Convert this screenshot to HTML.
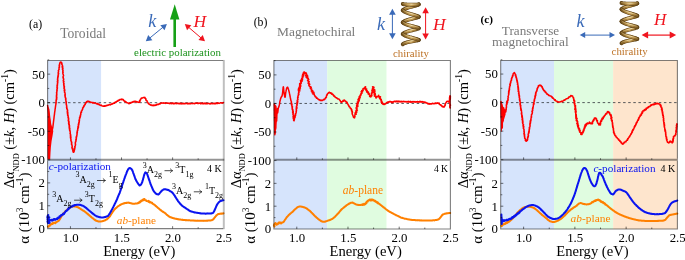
<!DOCTYPE html>
<html><head><meta charset="utf-8"><title>figure</title><style>html,body{margin:0;padding:0;background:#fff;width:685px;height:260px;overflow:hidden}svg{display:block;will-change:transform}text{font-family:"Liberation Serif",serif}</style></head><body>
<svg width="685" height="260" viewBox="0 0 685 260" font-family='"Liberation Serif", serif'>
<rect width="685" height="260" fill="#fff"/>
<rect x="47.60" y="60.5" width="53.49" height="168.1" fill="#d6e4fc"/>
<rect x="273.90" y="60.5" width="53.30" height="168.55" fill="#d6e4fc"/>
<rect x="327.20" y="60.5" width="59.29" height="168.55" fill="#e0fce0"/>
<rect x="500.70" y="60.5" width="53.36" height="168.55" fill="#d6e4fc"/>
<rect x="554.06" y="60.5" width="59.05" height="168.55" fill="#e0fce0"/>
<rect x="613.12" y="60.5" width="64.28" height="168.55" fill="#fee5cd"/>
<line x1="47.6" y1="102.7" x2="223.7" y2="102.7" stroke="#3a3e44" stroke-width="0.85" stroke-dasharray="2.5,2.6"/>
<line x1="273.9" y1="103.45" x2="450.4" y2="103.45" stroke="#3a3e44" stroke-width="0.85" stroke-dasharray="2.5,2.6"/>
<line x1="500.7" y1="102.6" x2="677.4" y2="102.6" stroke="#3a3e44" stroke-width="0.85" stroke-dasharray="2.5,2.6"/>
<polygon points="47.6,105.5 49.4,109 50.3,117 51.2,124 52.3,128 53.3,131 52.6,135.5 51.6,141 50.9,147 50.5,153 50.2,159.4 47.6,159.4" fill="#ff0000"/>
<polygon points="274.3,103.6 276.5,106 277.2,112 276.6,120 276,128 275.3,135.5 274.3,135.5" fill="#ff0000"/>
<polygon points="500.9,101.5 502.5,104 503.5,108 505,110 505.7,114 504.5,118 503.2,122 502.3,127 501.6,131.8 500.9,131.8" fill="#ff0000"/>
<polyline points="47.6,105.5 47.6,105.7 47.7,105.9 47.7,106.1 47.7,106.3 47.7,106.6 47.8,106.8 47.8,107.1 47.9,107.4 47.9,107.8 48.0,108.1 48.0,108.4 48.1,108.8 48.1,109.1 48.2,109.5 48.2,109.8 48.3,110.2 48.3,110.6 48.4,110.9 48.4,111.3 48.5,111.7 48.5,112.0 48.5,112.3 48.6,112.6 48.6,112.9 48.6,113.2 48.7,113.5 48.7,113.8 48.8,114.1 48.8,114.4 48.8,114.7 48.9,115.1 48.9,115.4 49.0,115.7 49.0,116.0 49.0,116.4 49.1,116.7 49.1,117.0 49.1,117.3 49.2,117.6 49.2,118.0 49.3,118.3 49.3,118.6 49.3,118.9 49.4,119.2 49.4,119.4 49.5,119.7 49.5,120.0 49.5,120.3 49.6,120.7 49.6,121.0 49.7,121.4 49.7,121.7 49.8,122.0 49.8,122.3 49.9,122.7 49.9,123.0 50.0,123.3 50.0,123.6 50.1,123.9 50.1,124.2 50.2,124.4 50.2,124.7 50.3,125.0 50.3,125.3 50.4,125.5 50.4,125.8 50.5,126.0 50.6,126.4 50.7,126.8 50.8,127.2 50.9,127.5 51.0,127.9 51.0,128.2 51.1,128.5 51.2,128.8 51.3,129.0 51.4,129.2 51.5,129.4 51.6,129.5 51.9,129.7 52.1,129.7 52.4,129.3 52.6,128.5 52.6,128.3 52.7,128.1 52.7,127.9 52.8,127.7 52.8,127.4 52.8,127.2 52.9,126.9 52.9,126.6 53.0,126.3 53.0,126.0 53.0,125.7 53.1,125.4 53.1,125.0 53.2,124.7 53.2,124.3 53.2,124.0 53.3,123.7 53.3,123.3 53.4,123.0 53.4,122.6 53.4,122.3 53.5,122.0 53.5,121.6 53.6,121.3 53.6,121.0 53.6,120.7 53.7,120.4 53.7,120.1 53.8,119.8 53.8,119.5 53.8,119.2 53.9,118.8 53.9,118.5 54.0,118.2 54.0,117.9 54.0,117.6 54.1,117.3 54.1,116.9 54.1,116.6 54.2,116.3 54.2,116.0 54.3,115.7 54.3,115.4 54.3,115.1 54.4,114.8 54.4,114.5 54.5,114.2 54.5,113.9 54.5,113.6 54.6,113.3 54.6,113.0 54.6,112.7 54.7,112.3 54.7,112.0 54.8,111.7 54.8,111.3 54.9,111.0 54.9,110.7 55.0,110.4 55.0,110.1 55.0,109.7 55.1,109.4 55.1,109.1 55.2,108.8 55.2,108.5 55.3,108.2 55.3,107.9 55.3,107.7 55.4,107.4 55.4,107.1 55.5,106.8 55.5,106.5 55.5,106.2 55.6,105.9 55.6,105.6 55.7,105.3 55.7,105.1 55.8,104.8 55.8,104.5 55.9,104.3 55.9,104.0 56.0,103.8 55.9,103.5 55.8,103.2 56.2,102.9 55.8,102.5 56.2,102.2 56.1,101.8 56.0,101.4 56.3,101.0 56.0,100.7 56.3,100.5 56.1,100.2 56.1,100.0 56.3,99.7 56.7,99.5 56.2,99.2 56.3,98.9 56.6,98.6 56.8,98.3 56.6,98.0 56.5,97.7 56.9,97.4 56.3,97.1 56.8,96.8 56.5,96.4 56.4,96.1 56.4,95.8 56.5,95.4 56.9,95.1 56.5,94.8 56.8,94.5 56.8,94.1 56.7,93.8 56.8,93.5 56.5,93.1 56.5,92.8 56.6,92.5 57.0,92.2 56.8,91.8 56.8,91.5 57.0,91.2 56.9,90.9 56.8,90.6 57.2,90.3 57.1,90.0 56.8,89.7 57.1,89.4 57.1,89.0 57.3,88.7 57.3,88.4 57.0,88.1 57.5,87.8 56.9,87.4 57.1,87.1 57.4,86.8 57.0,86.5 57.2,86.2 56.9,85.9 57.4,85.6 57.5,85.3 57.4,85.0 57.6,84.7 57.2,84.3 57.5,84.1 57.5,83.8 57.5,83.5 57.4,83.1 57.7,82.9 57.8,82.6 57.5,82.3 57.7,82.0 57.3,81.7 57.7,81.4 57.7,81.1 58.0,80.9 57.9,80.6 57.5,80.3 57.6,80.0 57.8,79.7 57.4,79.3 57.8,79.0 57.6,78.6 57.6,78.3 57.6,77.9 58.1,77.7 57.7,77.3 57.8,77.0 57.9,76.7 58.3,76.4 57.8,76.0 58.1,75.7 58.2,75.4 58.4,75.2 58.4,74.9 58.5,74.6 58.1,74.2 58.2,74.0 58.2,73.7 58.6,73.4 58.7,73.1 58.2,72.8 58.2,72.5 58.3,72.2 58.3,72.0 58.5,71.7 58.6,71.3 58.5,70.9 58.3,70.6 58.7,70.3 58.7,69.9 58.9,69.6 59.2,69.4 59.0,69.0 59.0,68.7 59.1,68.4 59.2,68.1 58.8,67.7 59.4,67.6 59.4,67.3 59.5,67.0 59.5,66.8 59.2,66.5 59.3,66.2 59.1,65.9 59.6,65.6 59.3,65.1 59.4,64.7 59.5,64.4 59.6,64.1 59.8,63.9 59.7,63.5 59.7,63.3 59.9,63.1 59.9,62.9 60.3,62.5 60.4,62.0 60.8,62.5 61.0,62.3 61.4,62.2 61.7,62.7 61.7,63.0 61.7,63.2 62.0,63.4 61.6,63.8 61.6,64.1 62.0,64.4 62.1,64.7 62.4,65.1 62.5,65.5 62.4,66.0 62.5,66.2 62.1,66.5 62.6,66.7 62.8,66.9 62.2,67.3 62.5,67.5 62.8,67.8 62.6,68.1 63.0,68.4 62.6,68.7 62.4,69.0 62.5,69.3 62.6,69.7 63.0,69.9 62.9,70.3 63.1,70.6 62.7,71.0 62.9,71.3 62.8,71.7 63.1,72.0 63.2,72.3 62.8,72.6 62.7,72.9 62.8,73.1 62.9,73.4 62.9,73.7 63.0,74.0 63.3,74.3 63.2,74.6 63.3,74.9 63.5,75.2 63.6,75.5 63.4,75.9 63.4,76.2 63.1,76.5 63.0,76.8 63.3,77.2 63.0,77.5 63.0,77.8 63.1,78.1 63.5,78.4 63.6,78.7 63.6,79.1 63.7,79.4 63.7,79.7 63.4,80.0 63.2,80.3 63.3,80.6 63.6,80.9 63.5,81.2 63.4,81.6 64.0,81.8 63.6,82.2 63.4,82.5 63.6,82.8 63.6,83.1 63.8,83.4 64.1,83.7 63.7,84.0 64.0,84.3 63.7,84.6 63.6,85.0 64.1,85.2 64.1,85.5 63.8,85.9 63.9,86.2 64.4,86.4 64.4,86.7 64.4,87.1 64.0,87.4 64.1,87.7 64.5,88.0 64.1,88.3 64.0,88.7 64.3,88.9 64.5,89.2 64.4,89.6 64.8,89.8 64.9,90.2 64.2,90.5 64.5,90.8 64.6,91.1 64.4,91.5 64.7,91.8 64.5,92.1 64.5,92.4 65.0,92.7 65.0,93.0 65.0,93.3 65.1,93.6 64.9,94.0 65.2,94.2 65.1,94.5 65.3,94.8 64.8,95.2 65.2,95.4 65.2,95.7 65.1,96.0 65.0,96.4 65.3,96.6 65.0,97.0 65.4,97.2 65.4,97.5 65.4,97.8 65.8,98.1 65.6,98.4 65.8,98.6 66.0,98.9 65.5,99.2 65.9,99.5 65.8,99.8 65.7,100.1 65.8,100.3 66.0,100.6 65.9,100.9 66.0,101.3 65.9,101.6 66.4,101.9 66.1,102.2 66.4,102.6 66.4,102.8 66.1,103.1 66.3,103.4 66.3,103.7 66.2,104.0 66.1,104.2 66.5,104.5 66.4,104.8 66.5,105.0 66.6,105.3 66.5,105.6 66.7,105.9 66.7,106.2 66.8,106.5 66.5,106.9 66.7,107.1 66.6,107.5 66.6,107.8 67.1,108.0 67.0,108.4 66.7,108.7 66.9,109.0 67.4,109.3 67.4,109.6 67.3,110.0 67.6,110.3 67.5,110.6 67.7,110.9 67.3,111.3 67.3,111.7 67.2,112.0 67.8,112.2 67.4,112.6 67.5,112.8 67.9,113.1 67.4,113.4 67.4,113.7 67.9,113.9 67.5,114.3 67.9,114.5 67.9,114.8 67.6,115.2 67.7,115.4 68.2,115.7 68.1,116.0 68.0,116.3 68.2,116.6 68.3,116.9 68.3,117.2 68.0,117.5 68.6,117.8 68.2,118.2 68.4,118.5 68.7,118.7 68.5,119.1 68.3,119.4 68.5,119.7 68.8,120.0 68.2,120.4 68.4,120.7 68.3,121.0 68.9,121.2 68.9,121.5 69.1,121.8 68.6,122.2 69.0,122.5 69.1,122.8 68.9,123.1 68.6,123.4 68.7,123.7 69.2,124.0 69.3,124.3 68.8,124.6 69.1,124.9 69.0,125.2 69.5,125.5 69.5,125.8 69.1,126.1 69.4,126.4 69.6,126.7 69.1,127.1 69.3,127.4 69.2,127.7 69.8,127.9 69.3,128.3 69.9,128.6 69.3,128.9 69.7,129.2 69.8,129.5 69.7,129.8 69.5,130.2 69.9,130.4 70.1,130.7 69.8,131.0 70.1,131.3 70.2,131.6 70.2,131.9 70.3,132.2 70.3,132.5 70.2,132.8 70.3,133.1 70.0,133.5 70.3,133.7 70.2,134.0 70.5,134.3 70.4,134.6 70.7,134.8 70.6,135.1 70.8,135.4 70.3,135.7 70.5,136.0 70.8,136.3 70.6,136.7 70.3,137.0 71.0,137.3 70.5,137.7 70.8,138.0 70.8,138.3 70.6,138.7 71.0,139.0 71.0,139.3 70.9,139.6 70.7,140.0 71.2,140.2 70.9,140.6 71.0,140.9 71.1,141.2 71.4,141.5 71.4,141.8 71.7,142.1 71.7,142.4 71.8,142.7 71.3,143.0 71.7,143.3 71.8,143.6 71.9,143.8 71.5,144.2 71.5,144.5 71.7,144.7 72.0,144.9 72.0,145.2 72.1,145.5 72.0,145.7 72.2,146.0 72.1,146.4 72.3,146.8 71.9,147.2 71.9,147.6 72.3,148.0 72.6,148.3 72.1,148.8 72.6,149.1 72.7,149.4 73.0,149.8 72.8,150.1 72.8,150.5 72.8,150.8 73.1,151.0 72.9,151.3 73.3,151.5 73.2,151.7 73.4,151.8 73.2,152.1 73.5,152.1 73.5,152.1 73.4,152.3 73.4,152.2 73.7,152.3 73.7,152.1 74.0,151.8 74.0,151.5 74.2,151.1 74.4,150.6 74.2,150.1 74.3,149.5 74.8,149.1 74.3,148.7 74.7,148.6 74.7,148.4 74.4,148.0 75.0,147.9 75.0,147.7 74.9,147.4 75.0,147.1 75.1,146.8 74.7,146.5 75.0,146.2 75.1,146.0 75.3,145.7 75.4,145.4 75.4,145.1 75.3,144.7 75.6,144.5 75.5,144.1 75.5,143.8 75.3,143.4 75.2,143.0 75.3,142.7 75.5,142.4 75.4,142.0 75.9,141.8 75.8,141.4 75.9,141.1 76.0,140.7 76.1,140.4 76.0,140.0 75.7,139.7 76.3,139.5 76.3,139.2 76.2,138.9 76.3,138.6 76.4,138.4 76.0,138.0 76.5,137.8 76.2,137.5 76.2,137.1 76.4,136.9 76.7,136.6 76.4,136.3 76.8,136.0 77.0,135.7 76.8,135.4 76.7,135.0 76.9,134.7 77.0,134.5 77.2,134.2 77.1,133.8 77.2,133.5 76.8,133.1 76.9,132.8 77.1,132.5 77.4,132.3 77.2,131.9 77.4,131.6 77.1,131.3 77.2,130.9 77.4,130.7 77.7,130.4 77.8,130.1 77.8,129.8 77.6,129.4 77.8,129.2 77.8,128.9 77.9,128.6 77.7,128.2 78.3,128.0 77.8,127.7 78.4,127.4 78.5,127.1 77.9,126.7 78.2,126.4 78.5,126.2 78.7,125.9 78.4,125.5 78.3,125.1 78.3,124.8 78.9,124.6 78.4,124.2 78.8,123.9 78.5,123.5 78.8,123.3 79.2,123.0 78.7,122.6 79.2,122.4 79.0,122.0 79.3,121.8 79.3,121.5 79.0,121.1 79.5,120.9 79.3,120.5 79.0,120.2 79.1,119.9 79.5,119.7 79.5,119.4 79.4,119.1 79.4,118.8 79.6,118.5 79.6,118.3 80.0,118.1 79.5,117.7 80.1,117.5 80.2,117.3 79.7,116.9 80.4,116.7 80.3,116.3 80.5,116.0 80.2,115.5 80.3,115.2 80.4,114.9 80.9,114.7 80.7,114.3 80.7,113.9 80.8,113.6 80.8,113.3 80.7,113.0 80.8,112.7 81.4,112.6 81.1,112.2 81.6,112.1 81.2,111.6 81.3,111.4 81.6,111.2 81.5,110.9 81.7,110.7 82.1,110.6 82.2,110.3 82.2,110.1 82.2,109.7 82.6,109.4 82.7,109.0 82.6,108.6 82.9,108.3 82.6,107.8 83.2,107.8 83.2,107.4 83.5,107.3 83.6,107.0 83.5,106.6 83.5,106.3 84.1,106.4 83.8,105.9 84.2,105.6 84.3,105.3 84.5,104.9 84.9,104.9 85.2,104.7 84.9,104.2 85.3,104.1 85.3,103.7 85.6,103.5 85.7,103.2 85.7,102.8 85.8,102.5 86.0,102.3 86.6,102.4 86.5,102.0 86.6,101.6 87.2,101.9 87.4,101.8 87.6,101.4 87.9,101.1 88.2,101.2 88.6,101.2 88.8,101.5 89.2,101.4 89.6,101.6 89.8,101.7 90.0,102.0 90.2,102.3 90.5,102.4 90.9,102.2 91.2,102.3 91.5,102.5 91.9,102.5 92.2,102.5 92.5,102.4 92.8,102.6 93.0,103.1 93.5,102.6 93.7,102.9 94.1,103.0 94.4,103.2 94.8,102.9 95.1,103.0 95.4,103.0 95.7,103.2 96.0,103.3 96.2,103.8 96.5,103.8 96.8,103.9 97.3,103.5 97.7,103.6 97.8,104.1 98.0,104.4 98.4,104.2 98.6,104.4 99.0,104.1 99.3,104.5 99.5,105.0 99.8,105.0 100.0,105.2 100.3,105.4 100.8,105.0 101.1,105.0 101.4,105.2 101.6,105.5 101.9,105.8 102.1,106.1 102.5,106.0 102.8,106.1 103.2,106.2 103.5,106.1 103.8,106.2 104.1,105.8 104.5,106.3 104.7,105.9 105.1,106.3 105.4,106.0 105.7,105.7 105.9,105.5 106.3,105.6 106.6,105.8 106.9,105.7 107.1,105.2 107.4,105.1 107.8,105.3 108.1,105.3 108.3,105.0 108.6,104.9 108.9,105.0 109.1,104.5 109.5,104.6 109.8,104.7 110.2,104.9 110.4,104.6 110.8,104.7 111.0,104.3 111.2,104.0 111.5,103.9 112.0,104.3 112.2,104.0 112.4,103.7 112.6,103.4 113.1,103.6 113.4,103.6 113.6,103.3 113.8,103.0 114.2,103.2 114.6,103.2 114.6,102.6 114.8,102.3 115.2,102.3 115.5,102.2 115.8,102.2 115.9,101.7 116.4,101.9 116.6,101.7 116.8,101.4 117.0,101.0 117.6,101.3 117.6,100.8 118.1,100.9 118.1,100.4 118.4,100.2 118.9,100.4 119.0,100.0 119.5,100.2 119.7,99.8 119.9,99.5 120.2,99.4 120.5,99.4 120.9,99.5 121.2,99.7 121.4,99.1 121.7,99.3 122.0,99.2 122.2,99.8 122.7,99.3 123.0,99.4 123.4,99.6 123.5,99.9 123.6,100.4 123.8,100.6 124.1,100.7 124.2,101.2 124.6,101.4 125.1,101.3 125.4,101.4 125.3,102.0 125.7,102.1 126.3,101.9 126.3,102.5 126.7,102.5 127.0,102.7 127.3,102.8 127.6,102.9 127.8,102.9 128.2,103.2 128.5,103.3 128.9,103.7 129.1,103.0 129.6,103.5 129.7,102.9 130.0,103.0 130.4,103.2 130.7,103.1 130.9,102.7 131.1,102.3 131.4,102.5 131.7,102.3 132.1,102.5 132.2,101.9 132.5,101.9 132.9,102.1 133.1,101.5 133.5,101.6 133.8,101.9 134.1,101.8 134.4,101.3 134.7,101.3 135.0,101.3 135.4,101.9 135.7,101.4 136.0,101.8 136.3,101.9 136.6,101.6 136.9,101.5 137.2,102.1 137.6,102.0 138.1,101.9 138.3,102.4 138.7,102.2 138.9,102.2 139.0,102.0 139.5,102.3 139.8,102.1 139.7,101.7 140.0,101.4 139.5,100.9 139.8,100.6 140.0,100.3 140.4,100.1 140.6,99.8 140.3,99.4 140.5,99.0 140.8,98.8 141.1,98.6 141.5,98.6 141.4,98.0 141.9,98.2 142.2,98.1 142.5,98.0 142.8,97.8 143.1,97.7 143.5,97.4 143.8,97.4 144.1,97.4 144.3,97.7 144.9,97.4 145.1,97.8 145.0,98.3 145.4,98.4 145.7,98.6 145.9,98.8 145.7,99.3 146.0,99.5 145.9,100.2 146.1,100.3 146.2,100.6 146.8,100.6 147.0,100.8 147.2,101.1 147.1,101.6 147.2,102.0 147.5,102.2 147.9,102.4 147.9,102.7 148.0,103.1 148.2,103.4 148.4,103.6 148.6,103.9 148.9,104.0 149.4,103.9 149.4,104.5 149.8,104.4 150.0,104.7 150.3,104.7 150.5,105.1 150.9,104.8 151.2,104.9 151.4,105.0 151.7,105.0 151.9,105.6 152.3,105.4 152.6,105.3 152.9,105.3 153.2,105.7 153.5,105.4 153.8,105.1 154.2,105.5 154.5,105.4 154.9,105.5 155.0,104.9 155.4,105.1 155.7,105.2 156.0,105.2 156.3,105.1 156.4,104.4 156.8,104.5 157.1,104.3 157.4,104.2 157.9,104.7 158.1,104.3 158.4,104.4 158.6,104.0 159.0,104.2 159.2,103.9 159.4,103.7 159.8,103.9 160.1,103.9 160.2,103.3 160.5,103.5 160.8,103.5 161.0,103.1 161.4,103.2 161.8,103.0 162.3,103.0 162.5,103.0 162.8,103.2 163.0,103.3 163.3,103.0 163.5,102.8 163.8,103.0 164.1,103.3 164.4,102.9 164.7,103.0 165.0,103.0 165.3,103.4 165.6,103.2 165.9,102.9 166.2,102.9 166.6,103.1 166.9,103.3 167.2,103.3 167.6,103.0 167.9,103.0 168.2,103.4 168.6,103.2 168.9,103.1 169.3,103.2 169.6,103.6 170.0,103.2 170.3,103.4 170.5,103.2 170.8,103.3 171.1,103.6 171.4,103.7 171.7,103.2 172.0,103.1 172.3,103.5 172.6,103.1 172.9,103.0 173.2,103.6 173.5,103.3 173.8,103.6 174.1,103.3 174.4,103.7 174.7,103.4 175.0,103.2 175.3,103.1 175.6,103.5 176.0,103.5 176.3,103.7 176.6,103.1 176.9,103.5 177.2,103.4 177.5,103.5 177.8,103.2 178.2,103.3 178.5,103.5 178.8,103.8 179.1,103.2 179.4,103.5 179.7,103.7 180.0,103.8 180.3,103.3 180.6,103.2 180.9,103.8 181.2,103.9 181.5,103.5 181.8,103.2 182.1,103.8 182.4,103.5 182.7,103.8 183.0,103.6 183.3,103.8 183.6,103.3 183.9,103.8 184.2,103.4 184.5,103.5 184.8,103.8 185.1,103.8 185.5,103.4 185.8,103.4 186.1,103.5 186.4,103.6 186.7,103.5 187.0,103.3 187.3,103.4 187.6,103.8 187.9,103.9 188.2,103.3 188.5,103.7 188.8,103.8 189.1,103.3 189.4,103.8 189.7,103.3 190.0,103.7 190.3,103.6 190.6,103.7 190.9,103.4 191.2,103.5 191.5,103.6 191.8,103.5 192.1,103.7 192.4,103.5 192.7,103.5 193.0,103.2 193.3,103.6 193.6,103.5 193.9,103.3 194.3,103.7 194.6,103.7 194.8,103.4 195.1,103.2 195.5,103.4 195.7,103.1 196.1,103.1 196.4,103.3 196.7,103.1 197.0,103.3 197.3,103.4 197.6,103.0 197.9,103.4 198.2,103.0 198.5,103.5 198.8,103.5 199.1,103.3 199.4,103.0 199.7,103.3 200.0,103.2 200.3,103.6 200.6,103.0 200.9,103.6 201.2,103.7 201.5,103.5 201.8,103.5 202.2,103.1 202.5,103.7 202.8,103.4 203.1,103.7 203.4,103.7 203.7,103.2 204.0,103.6 204.3,103.7 204.7,103.1 205.0,103.3 205.3,103.6 205.6,103.2 205.9,103.8 206.2,103.3 206.5,103.7 206.8,103.3 207.1,103.5 207.4,103.8 207.7,103.4 208.0,103.4 208.3,103.6 208.6,103.5 208.9,103.3 209.2,103.4 209.4,103.4 209.7,103.9 210.0,103.7 210.3,103.9 210.7,103.4 211.0,103.8 211.4,103.3 211.7,103.6 212.0,103.6 212.4,103.4 212.7,103.8 213.0,103.5 213.3,103.5 213.7,103.7 214.0,103.2 214.3,103.8 214.6,103.5 214.9,103.3 215.2,103.6 215.5,103.2 215.8,103.7 216.1,103.4 216.4,103.2 216.7,103.5 216.9,103.2 217.2,103.0 217.5,103.4 217.7,102.9 218.0,103.4 218.4,103.0 218.8,103.3 219.1,103.5 219.5,103.2 219.9,103.2 220.2,103.0 220.6,102.7 220.9,102.7 221.2,102.8 221.6,103.1 221.9,102.9 222.2,103.0 222.5,103.2 222.7,102.7 222.9,102.7 223.1,103.0 223.3,102.6 223.5,102.6" fill="none" stroke="#ff0000" stroke-width="1.5" stroke-linejoin="round" stroke-linecap="round"/>
<polyline points="274.3,104.0 274.3,104.2 274.3,104.3 274.3,104.5 274.3,104.7 274.3,104.9 274.3,105.1 274.3,105.3 274.3,105.6 274.3,105.8 274.3,106.1 274.4,106.3 274.4,106.6 274.4,106.9 274.4,107.2 274.4,107.5 274.4,107.8 274.4,108.1 274.4,108.4 274.4,108.7 274.4,109.0 274.4,109.3 274.4,109.7 274.4,110.0 274.4,110.3 274.4,110.7 274.5,111.0 274.5,111.4 274.5,111.7 274.5,112.1 274.5,112.4 274.5,112.8 274.5,113.1 274.5,113.5 274.5,113.9 274.5,114.2 274.5,114.6 274.5,114.9 274.5,115.3 274.6,115.6 274.6,116.0 274.6,116.3 274.6,116.7 274.6,117.0 274.6,117.3 274.6,117.7 274.6,118.0 274.6,118.3 274.6,118.6 274.6,118.9 274.6,119.2 274.6,119.6 274.6,119.9 274.6,120.2 274.6,120.6 274.6,121.0 274.7,121.3 274.7,121.7 274.7,122.1 274.7,122.5 274.7,122.9 274.7,123.2 274.7,123.6 274.7,124.0 274.7,124.4 274.7,124.8 274.7,125.2 274.7,125.6 274.7,126.0 274.7,126.4 274.7,126.8 274.7,127.2 274.7,127.6 274.7,127.9 274.8,128.3 274.8,128.7 274.8,129.0 274.8,129.4 274.8,129.7 274.8,130.1 274.8,130.4 274.8,130.7 274.8,131.0 274.8,131.3 274.8,131.6 274.8,131.9 274.8,132.1 274.8,132.4 274.8,132.6 274.8,132.8 274.8,133.0 274.8,133.2 274.9,133.4 274.9,133.5 274.9,133.6 274.9,133.8 274.9,133.8 274.9,133.9 274.9,134.0 274.9,134.0 274.9,134.0 274.9,134.0 274.9,133.9 274.9,133.8 274.9,133.7 274.9,133.5 275.0,133.3 275.0,133.1 275.0,132.8 275.0,132.5 275.0,132.2 275.0,131.9 275.0,131.6 275.0,131.2 275.0,130.8 275.0,130.4 275.0,130.0 275.0,129.6 275.1,129.2 275.1,128.8 275.1,128.3 275.1,127.9 275.1,127.4 275.1,127.0 275.1,126.5 275.1,126.1 275.1,125.6 275.1,125.2 275.1,124.8 275.2,124.4 275.2,123.9 275.2,123.5 275.2,123.1 275.2,122.8 275.2,122.4 275.2,122.1 275.2,121.7 275.2,121.4 275.2,121.2 275.2,120.9 275.3,120.7 275.3,120.5 275.3,120.3 275.3,120.2 275.3,120.1 275.3,120.0 275.3,120.0 275.3,120.0 275.3,120.1 275.4,120.2 275.4,120.5 275.4,120.7 275.4,121.1 275.4,121.4 275.4,121.8 275.4,122.3 275.4,122.7 275.5,123.2 275.5,123.7 275.5,124.2 275.5,124.7 275.5,125.2 275.5,125.7 275.5,126.2 275.6,126.6 275.6,127.1 275.6,127.5 275.6,127.9 275.6,128.2 275.6,128.5 275.6,128.7 275.6,128.9 275.7,129.0 275.7,129.1 275.7,129.1 275.7,129.0 275.7,128.9 275.7,128.8 275.7,128.7 275.7,128.5 275.7,128.4 275.7,128.2 275.7,127.9 275.8,127.7 275.8,127.5 275.8,127.2 275.8,126.9 275.8,126.6 275.8,126.3 275.8,126.0 275.8,125.6 275.8,125.3 275.8,124.9 275.8,124.5 275.8,124.2 275.8,123.8 275.8,123.4 275.9,123.0 275.9,122.6 275.9,122.2 275.9,121.8 275.9,121.3 275.9,120.9 275.9,120.5 275.9,120.1 275.9,119.7 275.9,119.2 275.9,118.8 275.9,118.4 275.9,118.0 275.9,117.6 275.9,117.2 276.0,116.8 276.0,116.5 276.0,116.1 276.0,115.7 276.0,115.4 276.0,115.0 276.0,114.7 276.0,114.4 276.0,114.1 276.0,113.8 276.0,113.5 276.0,113.3 276.0,113.1 276.1,112.8 276.1,112.6 276.1,112.5 276.1,112.3 276.1,112.2 276.1,112.1 276.1,112.0 276.1,111.9 276.1,111.9 276.1,111.9 276.2,112.1 276.2,112.2 276.2,112.5 276.2,112.8 276.2,113.1 276.2,113.5 276.3,113.9 276.3,114.3 276.3,114.7 276.3,115.2 276.3,115.7 276.3,116.2 276.4,116.7 276.4,117.2 276.4,117.7 276.4,118.1 276.4,118.6 276.4,119.0 276.5,119.4 276.5,119.8 276.5,120.1 276.5,120.4 276.5,120.7 276.5,120.8 276.6,121.0 276.6,121.0 276.6,121.0 276.6,120.9 276.6,120.9 276.6,120.7 276.7,120.6 276.7,120.4 276.7,120.2 276.7,119.9 276.7,119.7 276.7,119.4 276.7,119.1 276.7,118.8 276.8,118.4 276.8,118.1 276.8,117.7 276.8,117.3 276.8,116.9 276.8,116.5 276.8,116.1 276.8,115.7 276.9,115.3 276.9,114.9 276.9,114.5 276.9,114.1 276.9,113.7 276.9,113.3 276.9,112.9 276.9,112.5 277.0,112.1 277.0,111.7 277.0,111.4 277.0,111.0 277.0,110.7 277.0,110.4 277.0,110.1 277.0,109.9 277.1,109.6 277.1,109.4 277.1,109.3 277.1,109.1 277.1,109.0 277.1,108.8 277.2,108.8 277.2,109.0 277.2,109.3 277.3,109.8 277.3,110.3 277.4,110.8 277.4,111.4 277.4,111.9 277.5,112.4 277.5,112.7 277.6,112.9 277.6,113.0 277.6,112.9 277.7,112.8 277.7,112.6 277.8,112.3 277.8,112.0 277.9,111.6 277.9,111.2 278.0,110.8 278.0,110.4 278.0,110.0 278.1,109.6 278.1,109.2 278.2,108.8 278.2,108.5 278.3,108.2 278.3,108.0 278.5,107.4 278.6,107.3 278.8,107.0 278.9,106.8 278.9,106.5 279.0,106.2 279.1,105.9 279.2,105.6 279.2,105.3 279.3,105.0 279.4,104.6 279.4,104.3 279.5,104.0 279.6,103.7 279.6,103.4 279.6,103.1 279.7,102.8 279.7,102.5 279.8,102.3 279.8,102.0 279.9,101.7 279.9,101.3 280.0,101.0 280.1,100.7 280.2,100.4 280.2,100.1 280.3,99.8 280.4,99.5 280.5,99.2 280.6,98.8 280.7,98.5 280.8,98.2 280.9,97.9 281.0,97.6 281.1,97.4 281.2,97.2 281.4,96.8 281.6,96.6 281.8,96.4 282.0,96.0 282.1,95.8 282.1,95.6 282.2,95.3 282.2,95.1 282.3,94.8 282.4,94.5 282.4,94.2 282.5,93.8 282.5,93.4 282.6,93.0 282.6,92.7 282.7,92.5 282.7,92.1 282.7,91.8 282.8,91.4 282.8,91.0 282.8,90.6 282.9,90.2 282.9,89.8 282.9,89.4 283.0,89.0 283.0,88.6 283.1,88.2 283.1,87.9 283.1,87.6 283.2,87.3 283.2,87.1 283.2,87.0 283.3,86.8 283.3,86.8 283.3,86.8 283.4,86.9 283.4,87.0 283.4,87.2 283.5,87.5 283.5,87.8 283.6,88.1 283.6,88.5 283.6,88.9 283.7,89.3 283.7,89.7 283.7,90.1 283.8,90.5 283.8,90.9 283.9,91.3 283.9,91.7 284.0,92.0 284.0,92.3 284.1,92.6 284.1,93.0 284.2,93.4 284.2,93.8 284.3,94.2 284.4,94.6 284.4,95.0 284.5,95.4 284.6,95.8 284.6,96.1 284.7,96.4 284.8,96.7 284.8,96.9 284.9,97.1 284.9,97.2 285.0,97.2 285.1,97.2 285.1,97.1 285.2,96.9 285.2,96.7 285.3,96.4 285.3,96.1 285.4,95.7 285.4,95.3 285.4,94.9 285.5,94.5 285.5,94.1 285.6,93.7 285.6,93.3 285.7,93.0 285.7,92.6 285.8,92.3 285.9,92.0 285.9,91.6 286.0,91.3 286.1,90.9 286.1,90.6 286.2,90.2 286.3,89.9 286.4,89.6 286.4,89.2 286.5,88.9 286.6,88.7 286.7,88.4 286.7,88.2 286.8,88.0 287.1,87.4 287.5,87.2 287.8,87.4 287.9,87.5 288.0,87.8 288.1,88.0 288.2,88.3 288.3,88.7 288.4,89.0 288.5,89.4 288.6,89.8 288.7,90.1 288.7,90.3 288.8,90.6 288.9,90.9 289.0,91.2 289.0,91.5 289.1,91.8 289.2,92.1 289.3,92.5 289.3,92.8 289.4,93.1 289.5,93.5 289.6,93.8 289.6,94.1 289.7,94.3 289.7,94.6 289.8,94.9 289.9,95.2 289.9,95.5 290.0,95.8 290.0,96.2 290.1,96.5 290.2,96.8 290.2,97.1 290.3,97.5 290.4,97.8 290.4,98.2 290.5,98.5 290.6,98.8 290.6,99.1 290.7,99.3 290.7,99.6 290.8,99.9 290.8,100.2 290.9,100.5 291.0,100.8 291.1,101.1 291.4,101.3 291.3,101.7 291.4,102.0 291.2,102.3 291.3,102.7 291.6,102.9 291.4,103.3 291.5,103.6 291.9,103.9 291.3,104.3 291.9,104.6 292.0,104.8 292.1,105.1 291.7,105.5 291.6,105.8 291.7,106.1 292.1,106.3 292.2,106.6 292.5,106.9 292.0,107.3 292.2,107.6 292.4,107.8 292.2,108.2 292.4,108.5 292.1,108.8 292.3,109.1 292.7,109.4 292.3,109.8 293.0,110.0 292.6,110.4 292.8,110.7 293.0,111.0 293.2,111.3 292.6,111.7 293.3,111.9 292.9,112.3 292.6,112.7 293.3,112.9 293.3,113.3 293.0,113.7 293.1,114.0 293.0,114.4 292.9,114.8 293.5,115.1 293.4,115.5 293.4,115.9 293.7,116.2 293.0,116.7 293.2,117.0 293.2,117.4 293.8,117.7 293.2,118.1 293.3,118.4 293.6,118.7 293.4,119.0 293.6,119.2 293.8,119.4 294.0,119.6 293.9,119.8 294.1,120.0 293.9,120.2 293.6,120.4 293.8,120.6 294.1,120.7 294.2,120.4 294.0,120.0 294.3,119.8 294.3,119.3 294.6,118.9 294.5,118.4 294.4,117.9 294.8,117.5 295.2,117.1 294.6,116.7 295.2,116.6 294.6,116.2 294.9,116.0 294.9,115.7 295.4,115.6 295.6,115.4 295.5,115.1 295.2,114.7 295.7,114.5 295.4,114.1 295.4,113.8 296.0,113.6 295.8,113.3 295.9,113.0 296.0,112.6 296.3,112.3 296.0,111.9 296.3,111.6 296.3,111.2 296.5,110.8 296.2,110.5 296.5,110.3 296.4,110.0 296.2,109.7 296.2,109.4 296.5,109.2 296.2,108.8 296.9,108.6 296.3,108.2 296.2,107.9 296.3,107.6 297.0,107.4 296.6,107.0 296.5,106.7 296.4,106.4 296.5,106.0 297.0,105.8 297.0,105.4 297.1,105.1 297.2,104.8 296.7,104.4 297.2,104.1 297.0,103.8 297.4,103.5 297.5,103.2 297.6,102.9 296.9,102.5 297.6,102.2 297.7,101.9 297.8,101.6 297.1,101.3 297.3,101.0 297.2,100.6 297.2,100.3 297.9,100.1 297.9,99.8 297.8,99.4 298.0,99.2 297.9,98.8 297.7,98.5 297.6,98.1 297.6,97.8 298.2,97.6 297.8,97.2 298.0,96.9 298.1,96.6 297.8,96.3 298.1,96.0 298.1,95.7 298.5,95.4 298.3,95.1 298.3,94.8 298.9,94.6 298.5,94.2 298.9,94.0 298.7,93.7 298.3,93.3 298.6,93.1 298.7,92.8 299.0,92.6 298.7,92.2 299.1,92.0 299.0,91.7 298.5,91.2 299.8,91.1 298.3,90.5 299.8,90.4 298.6,89.9 298.3,89.5 298.8,89.2 299.9,89.1 300.4,88.9 298.5,88.2 299.6,88.1 299.6,87.8 300.3,87.6 299.1,87.1 299.8,86.9 299.6,86.6 300.6,86.5 299.5,86.0 300.9,86.0 299.7,85.4 299.6,85.1 300.6,85.1 300.3,84.7 299.6,84.1 300.7,84.1 299.7,83.5 301.2,83.5 301.1,83.2 301.3,82.9 301.1,82.6 300.7,82.1 300.8,81.9 300.9,81.6 301.9,81.6 300.5,80.9 302.1,81.1 300.5,80.3 301.0,80.1 301.1,79.9 302.5,79.9 301.8,79.4 301.7,79.0 302.7,78.9 301.6,78.3 302.1,78.1 302.3,77.8 302.8,77.6 302.9,77.3 302.8,77.0 302.3,76.5 302.4,76.2 302.2,75.8 303.6,76.0 303.3,75.6 303.6,75.3 302.6,74.5 303.3,74.4 304.0,74.3 303.8,73.8 303.1,73.1 303.9,73.1 304.7,73.3 303.8,72.4 303.9,72.1 304.5,72.0 304.7,72.9 304.7,73.2 306.1,72.8 306.2,73.0 306.2,73.3 306.2,73.6 305.9,74.1 306.7,74.0 306.6,74.4 306.9,74.6 305.6,75.5 306.2,75.7 307.5,75.5 306.0,76.5 307.8,76.2 307.3,76.7 306.2,77.3 306.7,77.5 306.9,77.7 307.5,77.8 308.1,78.0 307.3,78.6 308.4,78.6 308.3,79.0 308.1,79.4 308.8,79.5 308.2,80.0 307.5,80.5 307.8,80.8 308.2,80.9 308.1,81.3 308.5,81.5 309.2,81.6 308.4,82.2 308.9,82.4 308.3,82.9 308.1,83.3 309.1,83.3 308.9,83.6 308.6,84.0 309.3,84.1 309.8,84.3 309.0,84.9 308.8,85.3 309.1,85.5 309.3,85.7 309.2,86.1 309.6,86.3 309.8,86.5 310.2,86.7 310.6,86.9 310.2,87.4 311.3,87.2 310.8,87.8 310.3,88.4 310.5,88.6 310.8,88.8 311.6,88.8 311.5,89.2 311.5,89.5 311.4,89.9 311.9,90.0 311.6,90.5 311.3,91.1 312.8,90.7 312.1,91.4 312.0,91.8 312.8,91.7 312.8,92.1 312.1,92.8 313.9,92.2 313.2,93.0 314.0,92.9 313.1,93.7 312.9,94.1 313.8,94.0 314.3,94.1 314.2,94.6 314.3,94.8 314.4,95.2 314.7,95.4 314.8,95.7 314.8,96.0 315.2,96.1 315.4,96.3 315.2,96.8 315.9,96.7 315.8,97.2 316.2,97.3 316.2,97.7 316.8,97.6 316.5,98.3 317.0,98.2 317.4,98.2 317.5,98.5 317.6,98.8 318.0,98.7 318.1,99.2 318.4,99.3 318.6,99.7 319.0,99.6 319.3,99.6 319.6,99.7 319.7,100.2 320.0,100.4 320.5,100.2 320.9,100.1 321.1,100.6 321.5,100.3 321.8,100.2 322.0,100.1 322.4,100.5 322.7,100.4 323.0,100.2 323.2,99.9 323.5,99.8 323.7,99.4 324.2,99.8 324.2,99.2 324.5,99.2 324.9,99.1 325.1,98.9 325.1,98.5 325.2,98.2 325.6,98.0 325.6,97.5 326.2,97.6 326.0,97.2 326.5,97.1 326.2,96.6 326.4,96.3 326.4,96.0 326.7,95.7 326.6,95.4 326.6,95.0 327.3,94.9 327.1,94.5 327.2,94.2 327.3,94.0 327.6,93.9 327.8,93.5 328.2,93.3 328.4,93.1 328.4,92.7 328.9,92.9 329.1,92.8 329.3,92.1 329.5,92.8 329.7,92.9 330.0,93.0 330.6,92.7 330.6,93.3 331.0,93.4 331.6,93.2 331.9,93.4 331.7,94.2 332.1,94.2 332.6,94.2 332.9,94.4 333.1,94.6 333.3,94.9 333.2,95.4 333.7,95.4 334.0,95.5 333.9,96.2 334.2,96.3 334.8,96.2 334.7,96.8 335.1,96.9 335.3,97.2 335.6,97.3 335.7,97.6 336.1,97.7 336.3,97.9 336.8,97.7 336.9,98.2 337.2,98.2 337.4,98.6 337.8,98.6 337.9,99.0 338.3,99.0 338.8,99.0 339.0,99.2 339.3,99.4 339.4,99.8 339.8,99.9 339.8,100.3 340.2,100.4 340.2,100.8 340.4,101.1 340.6,101.4 340.6,101.8 341.4,101.7 341.1,102.3 341.5,102.2 341.8,102.2 342.1,102.0 342.5,101.7 342.5,101.2 342.8,100.9 343.3,101.1 343.3,100.3 343.8,100.6 344.1,100.5 344.5,100.1 344.7,100.7 345.0,100.9 345.2,101.3 345.7,101.1 345.7,101.7 346.1,101.6 346.4,101.8 346.4,102.4 347.2,102.2 346.8,102.7 347.1,102.9 347.4,103.1 347.2,103.6 347.7,103.7 347.8,104.0 347.9,104.3 347.9,104.7 348.4,104.7 348.4,105.1 348.6,105.4 348.7,105.7 348.7,106.1 349.3,106.2 349.1,106.7 349.6,106.8 349.7,107.1 350.0,107.2 350.0,107.5 350.0,108.1 350.5,108.1 350.6,108.4 351.1,108.5 351.2,108.8 351.4,109.0 351.2,109.4 351.3,109.7 351.3,110.0 352.0,110.1 351.6,110.6 351.5,111.0 351.9,111.2 352.3,111.4 352.2,111.8 352.5,112.0 352.5,112.4 351.9,112.8 352.2,113.1 352.3,113.4 352.2,113.8 352.2,114.1 352.5,114.4 352.6,114.7 352.7,115.0 352.8,115.4 353.0,115.7 353.0,116.1 353.5,116.4 353.3,116.8 353.6,117.1 353.5,117.5 354.1,117.4 354.1,117.5 354.1,117.4 354.4,117.9 354.6,117.8 354.6,117.5 354.5,117.1 354.9,116.9 355.0,116.5 354.9,116.1 354.8,115.6 354.8,115.2 355.1,115.0 355.0,114.6 355.3,114.4 355.7,114.3 356.3,114.2 355.0,113.4 355.9,113.4 355.2,112.8 355.4,112.6 356.6,112.5 356.3,112.0 356.9,111.9 356.2,111.4 355.6,111.0 356.3,110.8 356.6,110.6 357.2,110.4 357.4,110.1 356.6,109.6 356.6,109.2 356.1,108.8 357.1,108.6 356.4,108.2 356.4,107.8 356.2,107.5 356.3,107.2 357.4,107.1 356.6,106.6 357.9,106.5 356.6,106.0 357.9,105.9 356.7,105.4 356.6,105.1 357.8,105.0 357.1,104.6 357.9,104.4 357.1,103.9 356.9,103.6 358.1,103.5 358.1,103.2 358.4,103.0 358.3,102.6 357.3,102.0 358.3,102.0 358.5,101.8 358.2,101.3 359.0,101.3 358.1,100.6 359.3,100.7 359.0,100.2 358.0,99.6 358.1,99.3 359.2,99.3 359.6,99.1 358.6,98.4 359.0,98.2 359.8,98.2 359.0,97.6 360.2,97.7 359.7,97.3 359.2,96.7 359.8,96.5 360.2,96.3 360.1,95.9 360.6,95.8 359.9,95.2 361.0,95.3 360.5,94.8 361.0,94.7 361.1,94.4 360.9,94.0 360.9,93.6 361.6,93.5 362.0,93.3 361.9,92.9 361.6,92.5 361.3,92.0 361.1,91.6 362.6,91.7 362.3,91.3 362.6,91.1 361.9,90.5 362.5,90.5 363.2,90.4 363.1,90.0 363.0,89.5 362.8,89.0 363.1,88.9 363.9,89.1 363.4,88.4 364.1,88.3 364.2,87.9 364.8,88.0 364.8,87.8 365.0,87.0 365.6,86.8 365.5,87.4 365.5,87.8 365.4,88.2 365.3,88.7 365.3,89.1 366.7,88.9 365.7,89.8 365.9,90.0 366.0,90.4 366.6,90.4 367.2,90.5 366.5,91.2 366.7,91.5 367.1,91.7 366.9,92.2 367.9,91.9 368.4,92.0 368.0,92.7 367.9,93.2 368.8,92.9 368.3,93.7 368.2,94.1 369.4,93.8 369.0,94.4 369.1,94.7 369.5,95.0 370.1,95.2 370.1,95.6 369.6,96.2 369.7,96.6 370.3,96.4 370.4,95.8 370.8,96.9 371.1,96.6 370.5,95.8 371.2,95.8 371.8,95.7 371.9,95.3 371.6,94.7 371.6,94.3 371.9,93.9 371.4,93.5 371.5,93.2 371.5,92.9 372.4,92.8 372.0,92.4 372.4,92.2 372.2,91.8 372.4,91.5 371.9,91.1 371.8,90.7 373.4,90.7 372.4,90.2 372.1,89.9 373.0,89.7 373.3,89.3 372.4,88.7 373.2,88.3 372.9,87.8 373.2,87.5 372.5,87.0 372.7,86.7 373.8,87.6 373.1,87.3 373.6,87.0 373.5,87.2 374.0,87.2 373.3,87.6 373.9,87.8 373.1,88.2 373.4,88.5 373.4,88.9 373.2,89.3 374.4,89.5 374.8,89.8 374.6,90.2 374.7,90.6 374.9,90.9 375.0,91.3 374.3,91.7 373.8,92.1 374.5,92.3 373.8,92.8 373.9,93.1 375.3,93.2 374.5,93.7 374.9,94.0 375.4,94.3 374.1,94.8 375.3,94.9 374.8,95.3 374.8,95.7 374.4,96.1 374.9,96.2 375.4,96.3 375.4,96.5 376.0,96.5 375.7,97.8 376.3,97.9 376.6,96.6 376.8,96.3 377.1,96.5 377.4,96.5 378.3,96.8 378.4,96.7 378.4,96.5 378.7,95.2 378.8,96.5 379.1,96.5 379.4,96.7 379.0,97.1 380.5,96.7 380.5,97.1 379.7,97.7 379.5,98.2 380.0,98.4 380.7,98.6 380.4,99.0 380.2,99.4 381.3,99.4 381.0,99.8 381.2,100.1 381.5,100.4 381.0,100.9 381.6,101.0 381.6,101.3 381.8,101.5 381.2,102.2 382.3,101.9 381.5,102.8 382.2,102.7 382.5,102.8 382.2,103.5 382.8,103.3 382.6,104.0 382.9,104.2 383.2,104.4 383.7,104.0 383.9,104.3 384.1,103.9 384.6,104.5 384.9,104.3 385.1,103.9 385.3,103.6 385.5,103.4 386.0,103.6 386.2,103.2 386.5,103.1 386.6,102.6 387.0,102.5 387.3,102.2 387.7,102.6 387.9,102.3 388.1,101.9 388.6,102.3 388.7,101.8 389.1,101.8 389.3,101.5 389.7,101.5 390.0,102.0 390.3,101.6 390.7,101.5 391.0,101.8 391.4,101.8 391.6,102.4 392.0,101.8 392.2,102.6 392.6,101.8 393.0,102.5 393.2,102.2 393.3,101.7 393.6,101.8 393.8,101.5 394.2,101.4 394.5,101.2 395.0,101.3 395.3,101.8 395.5,101.8 395.8,101.7 396.1,101.1 396.4,101.2 396.7,101.7 397.0,101.1 397.3,101.6 397.7,101.3 398.0,101.9 398.4,101.1 398.7,101.8 399.0,101.4 399.4,101.3 399.7,101.2 400.0,101.9 400.3,101.6 400.6,101.4 400.9,101.6 401.2,102.0 401.6,101.4 401.9,101.7 402.2,101.4 402.5,101.4 402.8,101.9 403.1,101.8 403.4,101.4 403.8,101.3 404.1,101.4 404.4,101.8 404.7,101.7 405.0,101.5 405.3,101.5 405.6,101.8 405.9,101.9 406.2,102.0 406.6,101.8 406.9,101.5 407.2,101.4 407.5,101.9 407.8,101.7 408.1,101.9 408.4,101.4 408.7,102.0 409.1,101.6 409.4,102.1 409.7,102.1 410.0,101.8 410.3,101.4 410.6,102.1 410.9,101.8 411.2,102.1 411.6,101.7 411.9,101.6 412.2,102.1 412.5,101.8 412.8,101.6 413.1,101.8 413.4,102.0 413.8,101.5 414.1,101.9 414.4,101.9 414.7,101.9 415.0,101.6 415.3,102.1 415.6,102.1 415.9,102.2 416.2,101.7 416.6,102.0 416.9,101.8 417.2,102.0 417.5,101.5 417.8,102.1 418.1,102.2 418.4,101.8 418.8,101.8 419.1,101.8 419.4,101.8 419.7,101.4 420.0,102.2 420.3,101.6 420.7,101.6 421.0,101.5 421.3,101.7 421.6,102.2 422.0,101.6 422.3,101.6 422.6,102.2 422.9,101.8 423.3,101.7 423.5,102.2 423.8,102.2 424.2,102.2 424.4,102.4 424.8,102.0 424.9,102.7 425.3,102.7 425.8,102.3 426.1,102.5 426.2,102.9 426.5,103.0 426.9,103.0 427.2,103.0 427.3,103.4 427.7,103.3 427.9,103.7 428.1,104.0 428.5,103.5 428.8,103.9 429.0,104.0 429.3,103.6 429.6,104.1 429.9,104.2 430.2,103.7 430.5,103.7 430.9,104.0 431.1,103.7 431.4,103.6 431.8,104.0 432.1,103.8 432.4,103.4 432.7,103.3 433.0,103.4 433.3,103.4 433.6,103.8 433.9,103.7 434.3,103.7 434.6,103.6 434.9,103.6 435.2,102.9 435.5,103.3 435.9,103.6 436.2,103.6 436.5,103.0 436.8,103.1 437.1,103.3 437.3,103.1 437.6,103.2 437.8,102.9 438.2,103.2 438.5,103.4 439.0,103.1 439.3,103.4 439.1,104.1 439.4,104.1 439.6,104.4 439.9,104.4 440.1,104.7 440.3,104.9 440.5,105.1 441.2,104.9 441.0,105.5 441.5,105.5 441.5,105.9 442.0,105.8 442.1,106.2 442.2,106.7 442.7,106.7 443.1,106.7 443.3,107.0 443.6,106.9 444.1,107.2 444.0,106.6 444.1,106.5 444.5,106.4 444.3,105.9 444.8,105.8 445.2,105.6 445.1,105.1 445.0,104.6 445.3,104.4 445.5,104.1 445.4,103.6 445.5,103.4 445.7,103.0 446.0,102.8 446.2,102.5 446.3,102.2 446.4,101.9 446.5,101.5 447.0,101.5 447.3,101.5 447.3,101.3 447.6,101.2 447.9,101.5 448.5,101.4 448.7,102.0 449.0,101.8 449.3,101.6 449.5,101.4 449.4,101.1 449.3,100.8 449.3,100.4 449.4,100.0 449.7,99.5 449.6,99.0 449.8,98.6 449.4,98.0 449.7,97.6 450.1,97.2 449.7,96.8 449.9,96.5 449.9,96.2 449.8,96.0 450.3,96.0 450.1,95.8 449.8,96.0 450.3,96.1 450.4,96.2 449.7,96.4 450.1,96.5 450.4,96.7 450.1,97.0 450.1,97.2 449.9,97.5 450.4,97.7 450.3,98.0 449.7,98.4 449.9,98.7 450.4,99.0 450.2,99.4 450.2,99.7 449.9,100.1 450.0,100.5 449.8,100.9 449.8,101.3 450.1,101.7 449.9,102.0 449.9,102.4 449.9,102.8 450.1,103.2 449.9,103.6 449.9,104.0 449.8,104.4 450.4,104.7 449.8,105.1 450.5,105.4 449.9,105.8 450.0,106.1 450.1,106.4 449.7,106.7 450.0,107.0 450.2,107.2 449.9,107.4 449.8,107.7 450.0,107.8 450.2,108.0" fill="none" stroke="#ff0000" stroke-width="1.5" stroke-linejoin="round" stroke-linecap="round"/>
<polyline points="501.0,101.5 501.0,101.7 501.0,101.8 501.0,102.0 501.0,102.3 501.0,102.5 501.0,102.7 501.0,103.0 501.0,103.3 501.0,103.6 501.0,103.9 501.1,104.2 501.1,104.5 501.1,104.8 501.1,105.2 501.1,105.6 501.1,105.9 501.1,106.3 501.1,106.7 501.1,107.1 501.1,107.4 501.1,107.8 501.1,108.2 501.1,108.6 501.1,109.0 501.2,109.4 501.2,109.8 501.2,110.2 501.2,110.6 501.2,111.0 501.2,111.4 501.2,111.8 501.2,112.2 501.2,112.6 501.2,113.0 501.2,113.3 501.2,113.7 501.3,114.0 501.3,114.4 501.3,114.7 501.3,115.0 501.3,115.3 501.3,115.6 501.3,115.9 501.3,116.2 501.3,116.5 501.3,116.7 501.3,116.9 501.3,117.1 501.4,117.3 501.4,117.5 501.4,117.6 501.4,117.7 501.4,117.9 501.4,117.9 501.4,118.0 501.4,118.0 501.4,118.0 501.4,117.9 501.4,117.8 501.5,117.6 501.5,117.4 501.5,117.1 501.5,116.8 501.5,116.4 501.5,116.0 501.5,115.6 501.5,115.2 501.5,114.7 501.6,114.2 501.6,113.7 501.6,113.2 501.6,112.7 501.6,112.2 501.6,111.7 501.6,111.2 501.6,110.7 501.6,110.2 501.7,109.8 501.7,109.3 501.7,108.9 501.7,108.5 501.7,108.1 501.7,107.8 501.7,107.5 501.7,107.3 501.7,107.1 501.8,107.0 501.8,106.9 501.8,106.9 501.8,106.9 501.8,107.0 501.8,107.1 501.8,107.2 501.8,107.3 501.8,107.4 501.8,107.6 501.8,107.8 501.8,108.0 501.8,108.2 501.9,108.4 501.9,108.7 501.9,108.9 501.9,109.2 501.9,109.5 501.9,109.8 501.9,110.1 501.9,110.4 501.9,110.7 501.9,111.1 501.9,111.4 501.9,111.8 501.9,112.2 501.9,112.6 501.9,112.9 501.9,113.3 501.9,113.7 501.9,114.1 502.0,114.6 502.0,115.0 502.0,115.4 502.0,115.8 502.0,116.2 502.0,116.7 502.0,117.1 502.0,117.5 502.0,117.9 502.0,118.4 502.0,118.8 502.0,119.2 502.0,119.6 502.0,120.0 502.0,120.5 502.0,120.9 502.0,121.3 502.1,121.7 502.1,122.1 502.1,122.5 502.1,122.8 502.1,123.2 502.1,123.6 502.1,123.9 502.1,124.3 502.1,124.6 502.1,124.9 502.1,125.2 502.1,125.5 502.1,125.8 502.1,126.1 502.1,126.3 502.1,126.5 502.1,126.8 502.1,127.0 502.2,127.2 502.2,127.3 502.2,127.5 502.2,127.6 502.2,127.7 502.2,127.8 502.2,127.9 502.2,128.0 502.2,128.0 502.2,128.0 502.2,128.0 502.2,127.9 502.2,127.9 502.2,127.8 502.2,127.6 502.2,127.5 502.3,127.3 502.3,127.1 502.3,126.9 502.3,126.7 502.3,126.4 502.3,126.2 502.3,125.9 502.3,125.6 502.3,125.2 502.3,124.9 502.3,124.6 502.3,124.2 502.3,123.8 502.3,123.4 502.3,123.0 502.4,122.6 502.4,122.2 502.4,121.8 502.4,121.4 502.4,120.9 502.4,120.5 502.4,120.1 502.4,119.6 502.4,119.2 502.4,118.7 502.4,118.3 502.4,117.9 502.4,117.4 502.4,117.0 502.4,116.6 502.5,116.1 502.5,115.7 502.5,115.3 502.5,114.9 502.5,114.5 502.5,114.1 502.5,113.7 502.5,113.4 502.5,113.0 502.5,112.7 502.5,112.4 502.5,112.1 502.5,111.8 502.5,111.5 502.5,111.2 502.6,111.0 502.6,110.8 502.6,110.6 502.6,110.4 502.6,110.3 502.6,110.2 502.6,110.1 502.6,110.0 502.6,109.9 502.6,109.9 502.6,110.0 502.6,110.1 502.7,110.2 502.7,110.4 502.7,110.7 502.7,111.0 502.7,111.3 502.7,111.6 502.7,112.0 502.7,112.4 502.7,112.8 502.8,113.3 502.8,113.7 502.8,114.2 502.8,114.7 502.8,115.2 502.8,115.7 502.8,116.2 502.8,116.6 502.8,117.1 502.8,117.6 502.9,118.0 502.9,118.5 502.9,118.9 502.9,119.3 502.9,119.6 502.9,119.9 502.9,120.2 502.9,120.5 503.0,120.7 503.0,120.8 503.0,120.9 503.0,121.0 503.0,121.0 503.0,121.0 503.0,120.9 503.0,120.8 503.0,120.6 503.1,120.5 503.1,120.3 503.1,120.1 503.1,119.8 503.1,119.6 503.1,119.3 503.1,119.0 503.1,118.6 503.1,118.3 503.1,117.9 503.2,117.6 503.2,117.2 503.2,116.8 503.2,116.4 503.2,116.0 503.2,115.6 503.2,115.1 503.2,114.7 503.2,114.3 503.3,113.9 503.3,113.5 503.3,113.0 503.3,112.6 503.3,112.2 503.3,111.8 503.3,111.4 503.3,111.1 503.4,110.7 503.4,110.4 503.4,110.0 503.4,109.7 503.4,109.4 503.4,109.1 503.4,108.9 503.4,108.7 503.5,108.4 503.5,108.3 503.5,108.1 503.5,108.0 503.5,107.8 503.6,107.7 503.6,107.9 503.7,108.2 503.8,108.6 503.8,109.1 503.9,109.6 503.9,110.1 504.0,110.7 504.0,111.1 504.1,111.5 504.1,111.8 504.2,112.0 504.3,112.0 504.4,111.7 504.5,111.4 504.7,110.9 504.8,110.5 504.9,110.1 505.0,110.0 505.1,110.1 505.2,110.5 505.3,111.0 505.4,111.5 505.5,111.9 505.6,112.1 505.7,112.0 505.7,111.9 505.8,111.7 505.8,111.5 505.9,111.3 505.9,111.0 505.9,110.8 506.0,110.4 506.0,110.1 506.0,109.8 506.3,109.4 506.0,109.0 506.1,108.7 506.3,108.3 506.2,108.0 506.2,107.6 506.5,107.3 506.6,106.9 506.4,106.6 506.4,106.3 506.3,106.0 506.4,105.6 506.3,105.3 506.7,105.0 506.7,104.6 506.4,104.3 507.1,104.0 506.7,103.6 507.1,103.3 507.1,103.0 507.3,102.7 506.8,102.4 507.0,102.1 507.4,101.9 506.8,101.6 506.8,101.3 507.2,101.2 507.3,100.8 507.6,101.1 507.8,100.8 507.8,100.0 508.2,99.9 507.9,99.6 507.9,99.4 508.1,99.1 507.9,98.8 507.9,98.5 508.1,98.2 508.0,97.9 508.4,97.6 508.3,97.3 508.2,96.9 508.0,96.5 508.2,96.2 508.3,95.8 508.4,95.5 508.5,95.1 508.7,94.8 508.8,94.4 508.5,94.0 508.5,93.7 508.7,93.4 509.0,93.1 508.6,92.8 508.8,92.5 509.0,92.3 508.6,92.0 508.7,91.5 509.3,91.2 509.2,90.9 509.0,90.5 508.8,90.2 509.4,90.0 509.3,89.7 509.4,89.5 509.6,89.2 509.6,89.0 509.3,88.6 509.2,88.3 509.4,88.0 509.6,87.7 509.6,87.4 509.5,87.1 509.5,86.7 509.9,86.5 509.9,86.1 509.8,85.8 510.3,85.5 510.1,85.2 509.8,84.7 510.1,84.5 510.4,84.2 510.2,83.8 510.5,83.6 510.1,83.2 510.4,83.0 510.8,82.7 510.7,82.4 510.9,82.1 510.6,81.7 510.9,81.5 511.0,81.2 510.9,80.9 511.2,80.7 511.2,80.4 511.6,80.2 511.5,79.8 511.4,79.5 511.3,79.1 511.4,78.9 511.9,78.7 511.6,78.3 511.7,78.0 511.8,77.7 512.1,77.5 512.4,77.2 512.4,76.9 512.6,76.6 512.2,76.2 512.3,75.9 512.9,75.8 512.7,75.5 513.1,75.2 513.0,74.8 513.0,74.4 513.2,74.0 513.2,73.6 513.9,73.6 513.8,73.2 513.8,72.9 514.0,72.8 514.2,72.7 514.5,72.5 514.3,73.1 514.6,73.2 514.6,73.6 515.1,73.8 515.1,74.2 515.5,74.5 515.8,74.9 515.3,75.3 515.4,75.5 515.9,75.7 515.6,76.0 515.7,76.3 516.2,76.4 516.0,76.8 515.9,77.2 516.3,77.4 516.1,77.8 516.6,78.0 516.6,78.4 516.5,78.8 516.9,79.1 516.9,79.5 516.6,79.8 516.9,80.0 516.7,80.3 517.2,80.5 517.3,80.7 517.2,81.0 517.4,81.2 516.9,81.6 517.4,81.8 517.2,82.1 517.6,82.3 517.3,82.7 517.5,83.0 517.5,83.3 517.8,83.5 517.8,83.8 517.4,84.2 517.7,84.5 517.9,84.8 518.0,85.2 517.9,85.5 518.0,85.9 518.2,86.2 517.8,86.6 518.1,87.0 518.3,87.2 517.9,87.5 518.4,87.7 518.3,88.0 518.0,88.4 518.5,88.6 518.3,88.9 518.1,89.2 518.1,89.5 518.6,89.7 518.5,90.1 518.3,90.4 518.6,90.7 518.2,91.0 518.8,91.3 518.3,91.7 518.7,91.9 518.9,92.2 518.8,92.6 519.0,92.9 518.7,93.2 519.0,93.5 518.6,93.9 518.9,94.2 519.1,94.5 519.2,94.8 519.0,95.1 519.3,95.4 518.9,95.8 519.5,96.0 519.2,96.4 519.2,96.7 519.5,96.9 519.2,97.3 519.5,97.5 519.3,97.9 519.4,98.1 519.6,98.4 519.6,98.7 519.9,99.0 519.9,99.3 519.4,99.7 519.8,100.0 519.6,100.3 520.1,100.6 519.8,100.9 520.0,101.2 519.9,101.5 520.1,101.8 520.3,102.1 520.2,102.4 520.3,102.7 520.4,103.0 520.0,103.3 520.3,103.6 520.3,103.9 520.0,104.2 520.1,104.5 520.1,104.8 520.1,105.1 520.7,105.3 520.6,105.6 520.8,105.9 520.4,106.2 520.5,106.5 520.7,106.8 520.7,107.1 520.6,107.4 520.6,107.7 521.0,108.0 520.6,108.3 521.0,108.6 520.8,108.9 521.2,109.2 521.3,109.5 520.8,109.8 520.9,110.1 521.0,110.4 521.5,110.7 521.5,111.0 521.5,111.3 521.5,111.6 521.5,111.9 521.5,112.3 521.8,112.5 521.6,112.9 521.4,113.2 521.8,113.5 521.4,113.8 521.6,114.1 521.5,114.4 521.9,114.7 521.8,115.0 521.7,115.4 522.0,115.6 522.3,115.9 521.7,116.3 521.8,116.6 522.2,116.8 522.4,117.1 521.9,117.5 522.1,117.7 522.5,118.0 522.4,118.3 522.6,118.6 522.1,119.0 522.6,119.2 522.1,119.6 522.3,119.9 522.8,120.1 522.4,120.5 522.7,120.7 522.5,121.1 522.5,121.4 522.9,121.6 523.1,121.9 522.5,122.3 522.9,122.5 522.6,122.9 522.8,123.1 522.8,123.4 522.8,123.7 523.0,124.0 523.2,124.3 523.5,124.5 523.1,124.9 523.3,125.2 523.3,125.5 523.0,125.8 523.6,126.0 523.2,126.4 523.8,126.7 523.4,127.0 523.3,127.3 523.7,127.6 523.6,127.9 523.3,128.3 523.6,128.6 523.7,128.9 523.9,129.2 524.1,129.5 523.9,129.9 523.9,130.2 524.1,130.5 524.1,130.9 524.2,131.2 523.9,131.6 523.9,131.9 524.3,132.2 524.3,132.5 524.2,132.9 524.2,133.2 523.9,133.5 524.4,133.8 524.4,134.1 524.1,134.5 524.6,134.7 524.4,135.0 524.6,135.3 524.3,135.6 524.5,135.8 524.4,136.1 524.8,136.2 524.5,136.5 524.6,137.0 524.8,137.4 524.6,137.9 524.7,138.3 525.2,138.5 525.2,138.9 525.2,139.2 525.4,139.4 525.5,139.6 525.4,139.9 525.6,140.0 525.3,140.4 525.5,140.5 526.0,140.8 526.0,141.2 526.2,141.3 526.4,141.2 526.4,141.0 526.5,140.8 526.6,140.6 527.4,140.6 527.4,140.1 527.1,139.4 527.6,139.3 527.8,139.1 527.6,138.8 527.4,138.5 527.7,138.3 527.7,138.0 527.6,137.6 527.9,137.4 527.6,137.0 528.3,136.8 528.2,136.4 528.2,136.1 528.5,135.8 528.4,135.4 528.1,135.0 528.2,134.6 528.2,134.3 528.2,133.9 528.7,133.7 528.8,133.5 528.5,133.1 528.5,132.8 528.9,132.6 529.0,132.3 529.2,132.0 528.7,131.6 529.2,131.4 529.2,131.1 529.2,130.7 529.0,130.4 529.0,130.1 529.5,129.8 529.2,129.4 529.2,129.1 529.4,128.8 529.3,128.5 529.7,128.2 529.4,127.8 529.3,127.4 529.7,127.2 529.8,126.9 530.0,126.7 529.9,126.4 530.1,126.1 530.2,125.8 529.9,125.5 530.0,125.2 529.8,124.8 529.9,124.5 530.2,124.3 529.9,123.9 530.3,123.6 530.0,123.3 530.3,123.0 530.7,122.8 530.1,122.4 530.1,122.0 530.5,121.8 530.3,121.4 530.8,121.2 530.3,120.8 530.9,120.6 531.0,120.3 531.0,120.0 530.8,119.7 530.8,119.3 531.1,119.1 531.0,118.7 531.0,118.4 531.0,118.1 531.1,117.8 531.3,117.5 531.5,117.2 531.6,116.9 531.1,116.6 531.3,116.3 531.4,116.0 531.6,115.7 531.5,115.4 531.4,115.0 531.4,114.7 531.6,114.5 531.8,114.2 532.2,113.9 532.2,113.6 532.2,113.3 532.3,113.1 532.4,112.7 532.2,112.4 532.4,112.1 531.9,111.7 532.4,111.5 532.4,111.2 532.2,110.8 532.5,110.5 532.8,110.3 532.5,109.9 532.7,109.6 532.5,109.3 532.6,109.0 533.0,108.8 532.5,108.4 532.7,108.1 533.1,107.9 533.0,107.6 532.8,107.3 533.2,107.1 533.1,106.7 533.3,106.5 533.2,106.1 533.4,105.8 533.4,105.5 533.4,105.1 533.3,104.8 533.4,104.5 533.9,104.3 533.7,103.9 533.5,103.6 534.1,103.4 533.7,103.0 533.7,102.7 534.0,102.5 533.9,102.1 534.1,101.8 534.2,101.5 534.1,101.2 534.4,100.9 534.1,100.6 534.4,100.3 534.6,100.0 534.3,99.6 534.6,99.4 534.4,99.0 534.7,98.7 535.0,98.5 534.9,98.1 535.1,97.8 535.2,97.5 534.8,97.1 535.4,97.0 535.3,96.6 535.0,96.2 535.5,96.0 535.3,95.7 535.2,95.3 535.8,95.1 535.6,94.8 535.8,94.5 535.5,94.1 536.0,93.9 535.6,93.5 535.7,93.2 535.9,92.9 535.7,92.6 536.2,92.4 536.0,92.0 536.1,91.8 536.5,91.6 536.4,91.2 536.8,91.1 536.7,90.7 537.0,90.4 536.9,90.0 537.2,89.8 537.3,89.4 536.9,89.0 537.4,88.8 537.3,88.5 537.6,88.3 537.7,88.0 537.9,87.8 537.6,87.4 537.9,87.1 538.3,86.9 538.6,86.6 538.6,86.3 538.4,85.8 538.9,85.8 538.8,85.4 539.3,85.4 539.6,85.5 539.9,85.0 540.2,85.6 540.5,85.5 540.9,85.3 541.2,85.5 541.4,86.0 541.3,86.3 541.6,86.4 542.0,86.5 542.2,86.8 542.3,87.1 542.0,87.6 542.6,87.7 542.5,88.2 542.8,88.4 542.7,88.8 543.1,89.0 543.4,89.1 543.1,89.7 543.5,89.8 543.6,90.1 543.8,90.4 543.9,90.7 544.6,90.6 544.6,90.9 544.9,91.1 544.9,91.5 544.9,91.9 545.2,92.1 545.8,92.0 545.9,92.3 545.8,92.8 546.1,93.0 546.4,93.1 546.6,93.3 546.9,93.4 546.8,94.0 547.3,94.0 547.3,94.4 547.7,94.6 548.2,94.5 548.3,94.9 548.6,95.0 548.6,95.6 548.9,95.6 549.4,95.4 549.6,95.6 549.8,95.8 550.1,96.0 550.4,96.1 550.7,96.1 551.1,96.2 551.4,96.2 551.4,96.7 551.7,96.8 552.1,96.8 552.1,97.3 552.1,97.8 552.8,97.6 553.0,97.8 552.9,98.3 553.3,98.3 553.6,98.5 553.7,98.9 554.0,98.9 554.1,99.3 554.3,99.4 554.4,99.8 554.6,100.1 555.3,99.7 555.3,100.2 555.4,100.5 555.6,100.8 555.9,100.9 556.2,101.0 556.5,101.2 556.9,101.2 557.2,101.4 557.4,101.8 557.7,102.0 558.0,102.2 558.4,102.1 558.7,101.8 559.1,102.1 559.4,102.1 559.7,101.9 560.1,101.9 560.4,101.7 560.7,101.8 561.0,101.6 561.3,101.3 561.7,101.4 562.0,101.3 562.5,101.7 562.7,101.2 562.9,101.0 563.2,100.7 563.5,100.6 563.8,100.5 564.0,100.1 564.2,99.9 564.9,100.2 565.0,99.8 565.3,99.6 565.6,99.5 565.8,99.2 566.1,99.0 566.3,98.7 566.7,98.7 567.0,98.6 567.4,98.6 567.6,98.4 568.0,98.4 568.0,97.9 568.5,98.0 568.6,97.6 568.6,97.1 568.9,97.0 569.3,97.0 569.8,97.1 569.8,96.5 570.3,96.5 570.4,96.1 570.9,96.2 570.8,95.5 571.2,95.7 571.5,96.0 572.0,95.8 572.3,96.1 572.7,96.1 572.8,96.5 573.0,96.8 573.0,97.4 573.4,97.4 573.4,97.7 573.6,97.9 573.4,98.3 573.4,98.6 573.6,98.9 574.0,99.1 573.7,99.6 573.7,100.1 573.9,100.3 574.6,100.4 573.8,100.8 573.8,101.1 574.4,101.2 574.7,101.5 574.7,101.8 574.4,102.2 574.0,102.5 574.3,102.8 574.1,103.2 574.9,103.4 574.9,103.7 574.4,104.1 574.6,104.4 574.9,104.7 574.6,105.1 575.1,105.4 575.5,105.6 575.1,105.9 575.6,106.2 574.9,106.5 575.3,106.8 575.1,107.1 575.0,107.4 575.5,107.6 575.3,108.0 575.8,108.2 574.8,108.6 575.3,108.9 574.8,109.3 575.9,109.4 575.3,109.8 575.2,110.1 575.7,110.4 576.0,110.7 576.0,111.0 576.0,111.3 575.3,111.7 576.2,111.9 575.4,112.3 575.9,112.6 575.8,112.9 575.7,113.2 575.8,113.5 575.7,113.8 575.8,114.2 576.2,114.4 575.7,114.8 576.3,115.1 575.8,115.4 575.8,115.8 575.8,116.1 576.4,116.3 575.9,116.7 575.7,117.1 576.4,117.3 576.6,117.6 576.4,117.9 575.9,118.3 576.9,118.4 577.1,118.7 576.6,119.0 576.4,119.3 576.3,119.7 576.9,120.0 576.2,120.5 577.2,120.6 576.6,121.1 577.5,121.2 577.6,121.5 577.5,121.9 577.7,122.1 577.2,122.5 577.2,122.9 577.7,123.0 576.9,123.5 577.7,123.6 578.0,123.9 578.0,124.1 577.4,124.6 577.3,125.0 578.3,125.1 578.5,125.4 577.7,125.9 578.5,126.1 577.7,126.7 578.3,126.8 578.3,127.1 578.7,127.3 578.3,127.8 578.8,127.9 579.0,128.2 578.4,128.7 579.5,128.7 578.9,129.3 579.7,129.3 579.2,129.8 579.6,130.0 579.1,130.5 580.2,130.5 579.7,131.0 580.0,131.2 579.5,131.7 579.6,132.0 580.1,132.2 580.7,132.4 580.8,132.7 580.9,133.1 580.8,133.5 581.1,133.6 581.3,133.8 580.8,134.4 581.1,134.5 581.3,134.1 582.1,134.5 581.6,133.6 582.1,133.4 581.9,132.8 582.8,133.0 583.0,132.8 582.5,132.1 583.2,132.2 583.4,131.9 583.0,131.3 583.2,131.0 583.5,130.8 584.0,130.7 583.3,130.1 584.0,130.0 584.0,129.7 583.9,129.3 584.2,129.0 584.6,128.8 584.0,128.3 584.8,128.2 584.3,127.7 584.9,127.6 585.1,127.3 584.5,126.7 585.4,126.7 585.6,126.5 585.0,125.9 584.9,125.5 585.1,125.2 586.1,125.5 585.3,124.6 586.4,125.0 585.9,124.2 586.7,124.5 586.4,123.7 586.8,123.5 587.4,123.8 587.2,123.1 587.7,123.1 588.4,123.6 588.5,123.2 588.9,123.3 589.2,123.3 589.4,122.1 589.8,122.5 589.7,123.3 590.1,123.5 590.8,123.1 590.8,123.8 591.2,123.7 591.6,123.8 591.4,123.5 591.4,123.2 592.5,123.7 592.0,123.0 592.7,123.0 592.1,122.3 592.6,122.2 592.4,121.7 592.9,121.5 592.8,121.1 593.5,121.1 593.1,120.5 593.9,120.5 593.8,120.1 593.5,119.5 593.9,119.3 594.3,119.1 594.9,119.0 594.4,118.4 594.4,118.1 595.3,118.5 595.1,118.4 595.1,118.2 595.6,118.0 596.0,118.2 596.1,118.7 596.5,118.9 596.7,119.2 596.4,119.8 596.6,120.0 596.6,120.4 597.0,120.6 597.5,120.7 596.9,121.4 597.1,121.7 597.4,121.9 597.6,122.2 597.6,122.6 597.5,123.0 597.8,123.2 598.1,123.4 598.6,123.4 598.9,123.7 599.0,124.2 598.6,124.8 599.3,124.8 599.5,124.9 599.6,124.9 599.4,124.6 600.4,125.0 599.4,124.2 600.2,124.2 600.7,123.9 600.0,123.3 600.6,123.1 600.4,122.6 600.4,122.2 600.5,121.9 600.5,121.5 601.4,121.5 601.5,121.2 601.8,121.0 600.9,120.3 601.8,120.3 601.5,119.8 602.0,119.7 602.1,119.3 602.0,118.9 602.8,119.1 602.0,118.2 602.9,118.4 603.2,118.3 603.0,117.8 603.3,117.6 603.8,117.6 603.3,116.8 603.8,116.9 604.1,116.7 604.0,116.2 604.5,116.2 604.4,115.7 604.7,115.5 605.0,115.4 605.2,115.2 605.1,114.7 605.5,114.7 605.7,114.4 605.6,113.9 606.1,114.0 606.0,113.5 606.8,113.8 606.6,113.2 607.0,113.2 607.1,112.7 607.3,112.4 607.3,111.9 607.5,111.6 608.2,112.1 608.2,111.6 608.4,111.7 608.6,111.9 608.6,112.4 609.3,112.3 609.6,112.6 609.2,113.3 609.7,113.1 609.7,113.5 609.7,113.8 609.7,114.0 609.9,114.3 611.0,114.4 610.7,114.8 610.3,115.1 610.3,115.4 611.2,115.4 611.3,115.7 611.2,116.0 611.5,116.2 611.2,116.6 610.8,117.0 611.2,117.3 611.4,117.6 611.9,117.8 611.6,118.2 610.9,118.7 611.4,119.0 611.7,119.3 611.8,119.6 611.4,120.1 611.5,120.3 612.3,120.5 611.7,120.8 612.2,121.1 612.0,121.4 612.3,121.7 612.2,122.0 612.3,122.3 612.3,122.6 612.6,122.9 612.5,123.2 612.3,123.5 612.7,123.8 612.7,124.1 612.4,124.5 612.7,124.8 612.7,125.1 612.8,125.4 612.5,125.8 613.0,126.0 612.7,126.4 612.6,126.7 613.1,126.9 613.0,127.2 612.8,127.5 613.0,127.8 613.2,128.1 613.5,128.4 613.3,128.8 613.4,129.1 613.2,129.5 613.6,129.8 613.5,130.1 613.4,130.5 613.4,130.8 613.8,131.1 613.8,131.4 613.7,131.7 613.5,132.1 614.1,132.2 613.6,132.7 613.9,132.9 614.2,133.1 614.0,133.4 614.3,133.5 614.6,133.7 614.3,134.3 614.7,134.5 614.8,134.9 614.9,135.2 614.9,135.6 615.1,135.7 615.7,135.6 615.6,136.1 615.8,136.2 616.0,136.5 616.0,136.9 616.4,136.9 616.6,137.2 616.6,137.6 617.0,137.6 617.2,137.9 617.4,138.1 617.4,138.5 617.7,138.6 617.9,138.9 618.2,139.0 618.6,139.0 618.5,139.6 618.8,139.7 618.8,140.0 619.0,140.3 619.6,140.2 619.7,140.5 620.0,140.6 619.8,141.2 620.4,141.1 620.6,141.4 620.5,141.9 620.8,142.1 621.3,142.2 621.1,142.7 621.3,143.0 621.7,143.2 622.1,143.2 622.0,143.7 622.3,143.7 622.5,143.9 622.8,144.2 623.1,143.9 623.5,143.8 623.4,143.1 623.7,143.0 624.1,142.8 624.1,142.3 624.8,142.6 624.7,142.0 625.0,141.8 625.3,141.6 625.5,141.4 626.0,141.6 626.1,141.2 626.3,141.0 626.5,140.7 626.6,140.3 626.9,140.2 627.4,140.2 627.5,139.9 627.8,139.6 627.6,139.1 627.7,138.8 627.8,138.5 628.3,138.4 628.3,138.0 628.6,137.8 628.8,137.6 629.0,137.4 629.0,137.0 629.4,137.0 629.3,136.5 629.8,136.6 629.8,136.2 629.7,135.8 630.0,135.6 630.3,135.3 630.4,135.0 630.7,134.8 630.6,134.5 630.7,134.2 631.2,134.1 631.0,133.7 631.4,133.6 631.6,133.3 631.6,133.0 631.7,132.6 632.1,132.5 632.0,132.0 632.4,131.9 632.0,131.3 632.4,131.1 632.7,130.9 632.4,130.4 633.1,130.4 632.7,129.9 633.2,129.8 633.1,129.3 633.7,129.3 633.6,128.9 633.9,128.7 633.9,128.3 634.1,128.0 634.3,127.8 634.2,127.4 634.2,127.0 634.8,127.0 634.5,126.5 635.1,126.4 634.8,125.9 634.9,125.6 635.0,125.4 635.6,125.3 635.8,125.1 635.6,124.6 635.9,124.4 635.8,124.0 636.4,123.9 636.4,123.5 636.2,123.1 636.3,122.8 636.8,122.7 636.6,122.3 637.2,122.2 637.0,121.8 637.1,121.5 637.5,121.3 637.4,121.0 637.7,120.8 637.6,120.4 638.2,120.3 638.0,119.9 638.4,119.8 638.1,119.3 638.7,119.2 638.9,119.0 638.7,118.5 638.6,118.1 639.0,118.0 639.3,117.8 639.1,117.4 639.5,117.2 639.4,116.8 639.8,116.6 640.1,116.5 640.0,116.1 640.4,115.9 640.1,115.4 640.9,115.5 640.4,114.9 641.3,115.0 641.5,114.8 641.6,114.5 641.4,114.0 641.3,113.6 641.5,113.4 642.1,113.3 642.0,112.9 642.5,112.8 641.9,112.1 642.4,112.0 642.9,112.0 642.9,111.6 643.0,111.3 642.9,110.8 643.2,110.6 643.6,110.5 644.2,110.8 644.4,110.6 644.3,109.9 645.0,110.3 644.7,109.4 645.3,109.7 645.8,109.8 645.7,109.1 646.3,109.4 646.4,108.9 646.2,108.3 646.7,108.3 647.0,108.2 647.1,107.8 647.7,108.0 647.6,107.4 648.2,107.7 648.2,107.1 648.4,106.7 648.9,106.9 649.0,106.4 649.5,106.6 649.9,106.6 650.1,106.3 650.2,106.0 650.3,105.5 650.8,105.7 650.8,105.1 651.4,105.4 651.4,104.8 651.8,105.1 652.1,104.7 652.4,104.6 652.8,104.8 653.0,104.3 653.3,104.2 653.8,104.8 653.9,104.1 654.4,104.5 654.7,104.4 654.8,103.9 655.1,103.5 655.4,103.4 655.8,104.1 656.1,103.4 656.4,103.7 656.8,103.8 657.1,103.4 657.4,103.7 657.8,103.4 658.0,103.8 658.4,103.9 658.7,103.8 659.1,103.8 659.3,104.1 659.6,104.0 659.9,104.1 660.2,104.3 660.0,104.9 660.5,105.0 660.2,105.4 661.1,105.2 660.4,105.8 660.9,106.0 660.7,106.4 661.0,106.6 661.0,107.0 661.6,107.2 661.2,107.7 661.8,107.9 661.8,108.2 662.1,108.4 661.8,108.8 661.8,109.1 662.0,109.3 661.5,109.7 662.4,109.9 662.0,110.3 662.3,110.5 662.1,110.9 662.0,111.2 662.2,111.5 662.7,111.8 662.6,112.1 662.4,112.5 662.2,112.8 662.9,113.0 662.6,113.4 662.6,113.6 662.5,114.0 662.9,114.2 662.6,114.5 662.9,114.8 662.7,115.1 663.3,115.3 662.8,115.8 663.2,116.0 663.2,116.3 663.5,116.6 663.4,117.0 663.1,117.3 663.2,117.7 663.6,118.0 663.5,118.3 663.7,118.5 663.7,118.8 663.7,119.1 663.7,119.4 663.3,119.8 663.3,120.1 663.5,120.3 663.8,120.6 663.8,120.9 663.6,121.3 663.6,121.6 663.7,121.9 663.8,122.2 664.2,122.5 663.9,122.8 663.8,123.2 663.9,123.5 664.4,123.7 664.0,124.1 664.3,124.4 664.5,124.7 664.0,125.0 664.2,125.3 664.2,125.6 664.7,125.9 664.3,126.2 664.2,126.6 664.3,126.8 664.5,127.1 664.5,127.4 664.5,127.7 664.7,128.0 664.9,128.3 664.7,128.6 664.8,128.9 664.8,129.2 665.2,129.5 664.8,129.9 665.2,130.1 664.9,130.5 665.5,130.7 665.0,131.1 665.2,131.4 665.6,131.6 665.3,132.0 665.7,132.3 665.8,132.5 665.7,132.9 665.9,133.2 665.7,133.5 665.5,133.9 665.7,134.2 665.7,134.5 666.0,134.8 665.8,135.2 665.8,135.5 666.0,135.8 665.8,136.2 666.0,136.5 666.3,136.8 666.6,137.1 666.2,137.5 666.2,137.8 666.6,138.0 666.4,138.3 666.3,138.6 666.4,138.9 667.0,139.1 666.7,139.4 667.1,139.5 667.0,139.8 666.6,140.0 667.0,140.6 667.0,141.1 667.2,141.3 667.4,141.5 667.5,141.6 667.6,141.8 667.4,142.1 667.7,142.4 668.1,142.6 668.4,142.7 668.5,142.8 668.8,143.0 669.0,142.6 669.3,142.3 669.7,142.2 669.6,141.6 670.1,141.6 670.1,141.1 670.5,141.5 670.9,141.2 671.1,141.5 671.0,142.1 671.6,141.9 672.0,142.2 672.1,142.9 672.5,142.6 672.8,142.4 672.6,142.1 672.7,141.8 673.1,141.5 672.8,141.1 673.2,140.8 672.8,140.3 673.3,140.0 672.8,139.6 673.2,139.3 672.9,138.9 673.0,138.6 673.6,138.4 673.4,138.0 673.7,137.7 673.4,137.3 673.5,137.0 673.4,136.7 673.8,136.5 674.0,136.4 674.1,136.0 674.3,135.8 674.7,136.1 674.9,136.0 675.1,135.8 675.0,135.3 675.6,135.0 675.5,134.8 675.9,134.6 675.5,134.3 675.8,134.1 675.8,133.8 675.7,133.5 675.8,133.2 676.0,132.9 676.2,132.5 675.9,132.1 675.9,131.8 676.4,131.5 675.8,131.0 676.3,130.7 676.3,130.4 676.2,130.0 676.2,129.7 676.4,129.4 676.6,129.1 676.5,128.8 676.6,128.4 676.1,128.0 676.4,127.7 676.3,127.3 676.9,127.0 676.9,126.6 676.4,126.2 676.7,125.9 676.8,125.6 676.4,125.2 676.7,124.9 677.0,124.7 676.9,124.4 676.7,124.2 677.1,124.0 676.8,123.8" fill="none" stroke="#ff0000" stroke-width="1.5" stroke-linejoin="round" stroke-linecap="round"/>
<polyline points="47.9,226.7 48.0,226.5 48.6,226.8 48.6,226.3 48.9,226.2 49.1,225.9 49.2,225.4 49.8,225.7 49.9,225.3 50.1,225.1 50.2,224.5 50.4,224.2 50.9,224.4 51.3,224.4 51.5,224.3 51.6,223.7 51.9,223.4 52.3,223.6 52.7,223.9 52.8,223.1 53.3,223.5 53.4,222.9 53.8,222.9 54.0,222.6 54.4,222.7 54.8,222.7 55.3,223.2 55.6,223.0 55.6,222.2 56.0,222.3 56.4,222.2 56.6,221.9 57.0,221.8 57.2,221.7 57.5,221.5 57.7,221.4 58.0,221.2 58.3,221.0 58.6,220.9 58.8,220.6 58.9,220.4 59.2,220.2 59.3,219.9 59.5,219.7 59.7,219.4 59.9,219.1 60.0,218.8 60.1,218.5 60.4,218.3 60.5,218.0 60.7,217.7 60.9,217.5 61.0,217.2 61.1,216.9 61.3,216.6 61.6,216.3 61.7,216.0 61.8,215.7 62.0,215.5 62.2,215.2 62.4,214.9 62.5,214.6 62.8,214.4 63.0,214.1 63.1,213.8 63.4,213.6 63.5,213.3 63.8,213.0 63.9,212.8 64.2,212.6 64.4,212.4 64.6,212.1 64.8,211.9 65.0,211.7 65.2,211.4 65.4,211.2 65.7,211.0 66.0,210.8 66.2,210.5 66.4,210.3 66.7,210.2 66.8,209.9 67.1,209.8 67.4,209.5 67.6,209.3 67.8,209.1 68.1,208.9 68.3,208.7 68.6,208.4 68.9,208.3 69.1,208.1 69.4,208.0 69.6,207.8 69.9,207.7 70.1,207.4 70.4,207.3 70.7,207.1 71.0,207.1 71.3,207.0 71.6,206.9 71.8,206.8 72.1,206.7 72.4,206.6 72.7,206.6 73.0,206.5 73.3,206.5 73.6,206.5 73.9,206.5 74.2,206.4 74.5,206.5 74.8,206.5 75.1,206.5 75.4,206.6 75.7,206.6 76.1,206.7 76.4,206.8 76.7,206.8 77.0,207.0 77.3,206.9 77.5,207.1 77.8,207.3 78.1,207.4 78.4,207.5 78.6,207.6 78.9,207.8 79.1,208.0 79.4,208.1 79.7,208.3 80.0,208.5 80.2,208.6 80.5,208.9 80.7,209.1 81.0,209.2 81.3,209.3 81.5,209.6 81.8,209.6 82.0,209.9 82.3,210.0 82.6,210.1 82.8,210.4 83.2,210.5 83.4,210.7 83.7,210.8 83.9,211.0 84.2,211.2 84.4,211.5 84.8,211.5 85.0,211.8 85.3,211.9 85.5,212.1 85.7,212.4 86.0,212.5 86.2,212.7 86.4,212.9 86.7,213.1 86.9,213.4 87.2,213.5 87.4,213.8 87.6,214.0 87.9,214.2 88.2,214.3 88.3,214.6 88.7,214.7 88.9,215.0 89.1,215.2 89.4,215.3 89.6,215.6 89.8,215.8 90.1,216.0 90.4,216.2 90.6,216.5 90.8,216.7 91.1,216.8 91.3,217.1 91.6,217.4 91.8,217.5 92.0,217.8 92.3,217.9 92.5,218.1 92.8,218.2 93.0,218.4 93.2,218.6 93.5,218.8 93.8,219.1 94.1,219.3 94.4,219.5 94.6,219.7 94.9,219.8 95.1,220.0 95.3,220.2 95.6,220.3 95.8,220.5 96.0,220.6 96.3,220.8 96.6,220.9 96.9,221.0 97.2,221.0 97.5,221.1 97.7,221.2 98.0,221.3 98.3,221.5 98.6,221.5 98.9,221.6 99.3,221.6 99.6,221.6 100.0,221.6 100.3,221.5 100.5,221.5 100.8,221.4 101.1,221.5 101.4,221.4 101.8,221.3 102.1,221.2 102.4,221.2 102.7,221.0 103.0,221.0 103.3,221.0 103.6,220.8 103.9,220.7 104.2,220.6 104.5,220.5 104.8,220.5 105.1,220.3 105.4,220.1 105.7,219.9 106.0,219.7 106.2,219.6 106.5,219.5 106.7,219.3 107.0,219.2 107.2,219.0 107.5,218.8 107.7,218.5 108.0,218.4 108.1,218.1 108.3,217.9 108.6,217.7 108.8,217.5 109.0,217.3 109.2,217.0 109.4,216.8 109.7,216.6 109.8,216.4 110.0,216.2 110.2,215.9 110.3,215.6 110.5,215.4 110.6,215.1 110.8,214.8 111.0,214.5 111.1,214.2 111.2,214.0 111.4,213.8 111.6,213.6 111.8,213.3 111.9,213.0 112.2,212.8 112.4,212.5 112.5,212.2 112.6,211.9 112.9,211.7 113.0,211.4 113.2,211.1 113.4,210.9 113.6,210.7 113.7,210.5 113.9,210.2 114.2,210.0 114.3,209.7 114.5,209.4 114.8,209.3 114.9,209.0 115.1,208.8 115.4,208.6 115.5,208.4 115.8,208.2 116.0,208.0 116.3,207.8 116.5,207.6 116.8,207.4 117.0,207.1 117.2,206.9 117.5,206.8 117.7,206.5 118.0,206.4 118.2,206.2 118.5,206.0 118.8,205.8 119.0,205.6 119.3,205.5 119.6,205.3 119.8,205.1 120.1,204.9 120.4,204.9 120.7,204.7 121.0,204.4 121.2,204.3 121.6,204.3 121.8,204.1 122.1,204.0 122.4,203.9 122.7,203.8 123.0,203.7 123.3,203.6 123.6,203.4 123.9,203.3 124.2,203.4 124.5,203.3 124.8,203.1 125.1,203.0 125.4,203.0 125.8,203.0 126.1,202.8 126.4,202.9 126.8,202.9 127.1,202.8 127.4,202.8 127.7,202.7 128.0,202.6 128.3,202.6 128.6,202.8 129.0,202.7 129.3,202.9 129.6,203.0 129.9,203.0 130.1,203.1 130.4,203.1 130.7,203.2 131.0,203.2 131.3,203.4 131.6,203.5 132.0,203.6 132.3,203.5 132.6,203.7 132.9,203.7 133.2,203.8 133.5,203.8 133.8,203.8 134.2,203.8 134.5,203.8 134.8,203.7 135.1,203.6 135.4,203.6 135.7,203.5 136.0,203.5 136.4,203.4 136.7,203.5 137.0,203.4 137.4,203.4 137.7,203.3 138.0,203.2 138.1,202.7 138.7,203.0 138.7,202.5 139.1,202.4 139.3,202.0 140.0,202.5 140.0,202.0 140.2,201.6 140.3,201.2 140.9,201.5 141.2,201.4 141.5,201.2 141.3,200.5 141.8,200.5 142.0,200.2 142.5,200.5 142.6,199.8 143.0,200.1 143.5,200.3 143.7,199.9 143.7,199.1 144.1,199.0 144.5,199.0 144.5,199.7 144.8,199.8 145.1,200.0 145.3,200.2 145.6,200.2 145.9,200.4 146.3,200.5 146.4,200.9 146.7,200.8 147.0,201.0 147.3,201.2 147.7,201.3 148.1,201.3 148.7,200.9 148.7,201.6 148.9,201.9 149.3,201.6 149.4,202.1 150.0,201.7 149.9,202.5 150.4,202.2 150.5,202.6 151.0,202.3 151.3,202.5 151.5,202.7 151.8,202.8 152.2,202.8 152.2,203.3 152.4,203.5 152.7,203.6 152.9,203.8 153.2,204.0 153.4,204.2 153.7,204.4 154.0,204.5 154.2,204.6 154.5,204.8 154.7,205.0 155.0,205.2 155.2,205.4 155.3,205.7 155.6,205.9 155.9,206.0 156.0,206.2 156.3,206.4 156.5,206.7 156.7,206.8 157.0,207.0 157.3,207.1 157.4,207.4 157.7,207.6 157.9,207.8 158.2,208.0 158.4,208.2 158.6,208.4 158.9,208.5 159.1,208.8 159.3,209.0 159.6,209.1 159.7,209.4 160.0,209.5 160.2,209.8 160.5,210.0 160.7,210.2 161.1,210.3 161.3,210.5 161.5,210.7 161.7,211.0 162.1,211.1 162.3,211.3 162.5,211.5 162.7,211.7 163.1,211.8 163.3,212.0 163.6,212.2 163.8,212.3 164.1,212.5 164.4,212.6 164.7,212.7 165.0,213.0 165.3,213.1 165.4,213.4 165.7,213.5 165.9,213.8 166.1,214.1 166.3,214.3 166.6,214.5 166.8,214.8 167.0,215.0 167.3,215.2 167.6,215.4 167.8,215.6 168.0,215.7 168.3,215.9 168.5,216.1 168.8,216.3 169.0,216.4 169.3,216.6 169.5,216.8 169.7,216.9 170.1,217.0 170.3,217.2 170.7,217.2 171.0,217.3 171.3,217.5 171.5,217.6 171.7,217.7 172.0,217.7 172.3,217.9 172.6,217.9 172.8,218.1 173.2,218.1 173.4,218.2 173.8,218.2 174.1,218.4 174.4,218.4 174.7,218.6 175.0,218.6 175.3,218.7 175.7,218.7 176.0,218.7 176.3,218.8 176.6,219.0 176.9,218.9 177.1,219.1 177.4,219.1 177.7,219.2 178.0,219.1 178.3,219.2 178.6,219.2 178.9,219.4 179.2,219.4 179.5,219.5 179.9,219.5 180.2,219.5 180.5,219.5 180.8,219.6 181.2,219.7 181.5,219.7 181.8,219.8 182.2,219.8 182.5,219.9 182.7,219.8 183.0,219.9 183.3,219.9 183.5,219.9 183.8,220.0 184.1,219.9 184.4,220.0 184.6,220.1 184.9,220.0 185.2,220.1 185.5,220.2 185.8,220.1 186.1,220.1 186.4,220.1 186.7,220.2 187.0,220.2 187.3,220.3 187.6,220.3 187.9,220.3 188.2,220.2 188.6,220.3 188.9,220.4 189.3,220.3 189.6,220.3 190.0,220.4 190.3,220.4 190.5,220.4 190.8,220.5 191.1,220.4 191.4,220.4 191.7,220.5 192.0,220.4 192.3,220.5 192.6,220.5 192.9,220.5 193.2,220.5 193.6,220.5 193.9,220.6 194.2,220.7 194.5,220.6 194.9,220.5 195.2,220.6 195.6,220.7 195.9,220.7 196.2,220.7 196.6,220.7 196.9,220.7 197.2,220.6 197.5,220.8 197.9,220.7 198.2,220.7 198.5,220.7 198.8,220.8 199.1,220.7 199.4,220.7 199.7,220.7 200.0,220.8 200.3,220.8 200.6,220.8 200.8,220.7 201.1,220.8 201.4,220.8 201.6,220.8 202.0,220.8 202.4,220.8 202.8,220.7 203.2,220.9 203.6,220.8 203.9,220.7 204.2,220.7 204.6,220.8 204.9,220.8 205.2,220.7 205.5,220.7 205.8,220.8 206.0,220.7 206.3,220.6 206.6,220.7 206.8,220.7 207.1,220.7 207.3,220.6 207.5,220.7 207.8,220.7 208.0,220.6 208.5,220.6 208.9,220.6 209.2,220.6 209.6,220.5 209.9,220.5 210.2,220.5 210.4,220.6 210.7,220.4 210.9,220.4 211.2,220.3 211.6,220.3 211.9,220.1 212.2,220.0 212.5,219.9 212.7,219.7 213.0,219.6 213.2,219.3 213.4,219.1 213.6,218.8 213.9,218.7 214.0,218.4 214.2,218.1 214.5,217.8 214.7,217.6 214.8,217.4 215.1,217.2 215.2,216.9 215.4,216.6 215.6,216.4 215.8,216.1 216.1,215.9 216.2,215.6 216.4,215.3 216.7,215.2 216.8,215.0 217.1,214.8 217.3,214.6 217.5,214.5 217.7,214.3 218.0,214.2 218.3,214.1 218.6,214.1 219.0,213.9 219.2,214.0 219.5,213.9 219.8,213.8 220.2,213.8 220.5,213.8 220.8,213.6 221.2,213.6 221.6,213.6 221.9,213.7 222.2,213.5 222.6,213.4 222.9,213.5 223.1,213.5 223.3,213.5 223.5,213.3" fill="none" stroke="#ff8000" stroke-width="2.0" stroke-linejoin="round" stroke-linecap="round"/>
<polyline points="48.3,215.0 48.4,215.2 47.8,215.4 48.0,215.6 48.1,215.9 47.4,216.3 47.7,216.6 47.5,217.0 47.3,217.3 48.3,217.7 47.4,218.1 48.1,218.5 48.6,218.9 47.4,219.4 48.6,219.8 48.7,220.2 48.4,220.6 48.4,220.9 47.4,221.3 47.6,221.7 48.2,221.9 48.1,222.2 47.7,222.5 47.7,222.7 48.0,222.8 48.2,222.9 48.7,222.8 47.9,222.9 48.5,222.9 48.4,222.8 48.7,222.5 48.9,222.2 49.0,221.9 47.9,221.4 47.8,221.0 48.9,220.6 48.5,220.1 48.0,219.6 48.7,219.2 48.1,218.8 48.1,218.3 48.3,218.0 48.6,217.7 48.8,217.4 48.0,217.1 48.9,217.1 48.6,217.2 48.7,217.0 48.4,217.2 48.2,217.4 49.4,217.5 48.7,217.8 48.5,218.2 48.4,218.5 48.5,218.9 49.2,219.3 48.1,219.7 48.4,220.2 49.2,220.5 48.9,221.0 48.2,221.4 49.3,221.7 49.0,222.1 48.3,222.4 48.4,222.7 49.3,222.8 48.7,223.1 49.0,223.0 49.5,223.0 49.7,222.5 49.0,221.8 49.2,221.4 49.3,221.0 49.5,220.7 49.6,220.1 50.1,220.0 50.5,220.3 50.9,220.3 51.2,219.7 51.7,220.4 52.1,220.8 52.3,220.2 52.6,219.9 53.0,220.3 53.2,219.9 53.4,219.4 53.8,219.8 53.9,219.1 54.5,219.8 54.6,219.0 55.0,219.2 55.6,219.8 55.8,219.4 56.2,219.3 56.4,219.0 56.6,218.8 57.0,218.8 57.4,219.0 57.3,217.9 57.9,218.4 58.0,217.7 58.1,217.5 58.8,218.0 58.9,217.5 59.3,217.6 59.6,217.5 59.6,217.0 59.5,216.3 59.8,216.2 60.3,216.3 60.7,216.2 60.7,215.8 60.8,215.4 61.1,215.2 61.4,215.2 61.9,215.3 61.8,214.7 62.1,214.7 62.4,214.5 62.9,214.6 63.3,214.6 63.0,213.8 63.3,213.7 64.0,214.0 64.2,213.8 64.0,213.1 64.3,213.0 64.6,212.9 64.7,212.5 65.0,212.4 65.2,212.2 65.3,211.8 65.5,211.5 65.7,211.2 66.0,211.0 66.2,210.8 66.7,210.9 66.9,210.7 66.9,210.2 67.4,210.3 67.6,210.0 67.5,209.6 67.9,209.4 67.9,209.0 68.5,209.2 68.5,208.8 68.5,208.3 68.8,208.1 69.3,208.3 69.3,207.9 69.7,207.9 69.8,207.4 70.3,207.6 70.6,207.4 70.5,206.8 71.0,207.0 71.2,206.5 71.6,206.8 71.9,206.7 72.2,206.6 72.3,206.0 72.6,205.8 73.0,206.1 73.3,205.9 73.5,205.5 73.8,205.4 74.2,205.6 74.4,205.1 74.8,205.4 75.1,205.0 75.4,204.9 75.7,205.0 76.1,205.0 76.4,204.9 76.7,204.8 77.0,204.8 77.3,204.7 77.6,204.7 77.9,204.8 78.2,204.8 78.5,204.7 78.8,204.8 79.2,204.7 79.5,204.8 79.8,204.9 80.1,204.8 80.4,204.9 80.7,205.0 81.0,205.1 81.3,205.2 81.6,205.3 81.8,205.5 82.1,205.6 82.4,205.6 82.7,205.7 83.0,205.9 83.3,206.0 83.6,206.2 83.9,206.3 84.2,206.5 84.4,206.7 84.7,206.9 85.0,207.2 85.2,207.3 85.5,207.4 85.7,207.6 86.0,207.8 86.2,208.0 86.4,208.2 86.7,208.4 86.9,208.6 87.2,208.8 87.4,209.1 87.7,209.2 87.9,209.4 88.1,209.7 88.4,209.9 88.6,210.1 88.8,210.3 89.1,210.5 89.4,210.7 89.6,210.9 89.8,211.1 90.1,211.4 90.4,211.5 90.6,211.7 90.8,212.0 91.1,212.2 91.3,212.4 91.6,212.6 91.9,212.8 92.1,213.0 92.3,213.2 92.6,213.3 92.7,213.6 93.0,213.8 93.2,213.9 93.5,214.1 93.8,214.4 94.1,214.5 94.3,214.7 94.5,215.0 94.8,215.2 95.0,215.3 95.3,215.4 95.5,215.6 95.8,215.7 96.0,216.0 96.3,216.0 96.6,216.2 96.9,216.4 97.2,216.4 97.5,216.5 97.8,216.6 98.1,216.7 98.4,216.8 98.7,217.0 99.0,216.9 99.3,217.0 99.6,217.2 99.9,217.2 100.2,217.3 100.5,217.3 100.8,217.4 101.1,217.5 101.4,217.4 101.7,217.5 102.0,217.5 102.3,217.6 102.6,217.5 102.9,217.4 103.2,217.5 103.5,217.4 103.8,217.3 104.1,217.2 104.4,217.2 104.7,217.1 105.0,216.9 105.3,216.9 105.6,216.9 105.9,216.7 106.3,216.7 106.6,216.5 106.9,216.4 107.2,216.3 107.5,216.1 107.8,216.1 108.0,215.8 108.3,215.6 108.4,215.4 108.6,215.1 108.8,214.9 109.0,214.6 109.1,214.3 109.3,214.1 109.5,213.8 109.7,213.6 109.8,213.3 109.9,213.0 110.2,212.8 110.3,212.5 110.5,212.3 110.7,212.0 110.7,211.7 111.0,211.5 111.1,211.2 111.2,210.9 111.3,210.6 111.5,210.3 111.7,210.0 111.8,209.8 111.9,209.5 112.1,209.2 112.3,209.0 112.4,208.7 112.5,208.5 112.7,208.2 112.8,207.9 112.9,207.6 113.2,207.3 113.3,207.0 113.5,206.7 113.6,206.4 113.7,206.1 113.9,205.8 114.0,205.5 114.2,205.2 114.3,204.9 114.5,204.7 114.5,204.4 114.7,204.1 114.8,203.8 115.0,203.6 115.1,203.2 115.3,203.0 115.5,202.7 115.6,202.4 115.6,202.1 115.9,201.8 116.0,201.5 116.1,201.3 116.3,201.0 116.3,200.6 116.6,200.4 116.6,200.1 116.8,199.8 116.9,199.5 117.0,199.3 117.2,199.0 117.3,198.7 117.3,198.4 117.5,198.1 117.6,197.8 117.6,197.5 117.8,197.3 117.9,197.0 118.1,196.7 118.1,196.4 118.2,196.1 118.3,195.9 118.5,195.6 118.6,195.3 118.7,195.0 118.8,194.8 119.0,194.5 119.1,194.2 119.1,193.9 119.3,193.7 119.5,193.4 119.5,193.1 119.7,192.9 119.8,192.6 119.8,192.3 120.0,192.0 120.1,191.7 120.1,191.4 120.3,191.1 120.4,190.8 120.5,190.5 120.6,190.3 120.7,190.0 120.8,189.7 120.9,189.4 120.9,189.1 121.0,188.8 121.1,188.5 121.3,188.3 121.4,188.0 121.4,187.6 121.6,187.4 121.6,187.0 121.7,186.8 121.8,186.5 122.0,186.2 122.0,185.9 122.0,185.6 122.2,185.3 122.3,185.0 122.4,184.7 122.5,184.4 122.5,184.1 122.7,183.8 122.8,183.5 122.8,183.2 123.0,182.9 123.2,182.6 123.2,182.3 123.3,182.0 123.4,181.7 123.5,181.4 123.5,181.1 123.6,180.8 123.7,180.5 123.9,180.3 123.9,180.0 124.0,179.7 124.1,179.5 124.2,179.2 124.3,178.8 124.5,178.5 124.6,178.2 124.7,177.9 124.8,177.6 124.8,177.2 125.0,177.0 125.1,176.7 125.2,176.4 125.3,176.1 125.4,175.8 125.6,175.6 125.6,175.3 125.6,175.0 125.8,174.7 126.0,174.4 126.1,174.1 126.2,173.8 126.3,173.4 126.5,173.2 126.5,172.9 126.6,172.5 126.8,172.3 126.9,172.0 127.0,171.7 127.1,171.5 127.2,171.2 127.4,170.8 127.5,170.5 127.7,170.2 127.8,170.0 127.9,169.7 128.1,169.4 128.2,169.2 128.4,169.0 128.7,168.7 128.9,168.4 129.1,168.2 129.4,168.1 129.6,167.9 129.9,168.0 130.2,168.2 130.5,168.3 130.8,168.5 131.0,168.7 131.2,168.8 131.4,169.0 131.6,169.2 131.9,169.6 132.0,169.8 132.1,170.1 132.3,170.2 132.3,170.6 132.5,170.8 132.6,171.1 132.8,171.4 132.8,171.7 132.9,172.0 133.1,172.3 133.2,172.7 133.3,173.0 133.3,173.3 133.5,173.5 133.6,173.8 133.7,174.1 133.8,174.4 133.9,174.7 134.0,175.0 134.1,175.3 134.2,175.6 134.4,175.9 134.4,176.2 134.6,176.5 134.7,176.8 134.7,177.0 134.8,177.3 135.0,177.6 135.1,178.0 135.2,178.3 135.2,178.6 135.4,178.9 135.5,179.2 135.7,179.4 135.9,179.7 135.9,180.0 136.1,180.2 136.2,180.5 136.4,180.8 136.5,181.1 136.6,181.4 136.9,181.7 137.1,182.0 137.2,182.2 137.4,182.5 137.5,182.8 137.7,183.0 137.9,183.3 138.0,183.6 138.3,183.9 138.5,184.1 138.6,184.4 138.8,184.6 139.0,184.8 139.3,185.2 139.6,185.5 140.0,185.4 140.2,185.3 140.4,185.1 140.6,184.9 140.9,184.7 141.1,184.4 141.4,184.0 141.4,183.8 141.5,183.5 141.7,183.3 141.8,183.0 141.9,182.7 142.1,182.5 142.1,182.1 142.3,181.9 142.4,181.5 142.5,181.2 142.5,180.9 142.6,180.6 142.8,180.3 142.9,180.0 142.9,179.7 143.0,179.4 143.1,179.0 143.2,178.7 143.2,178.4 143.4,178.1 143.4,177.8 143.5,177.5 143.7,177.2 143.7,176.8 143.8,176.5 143.8,176.2 143.9,175.8 144.1,175.5 144.2,175.2 144.2,174.9 144.3,174.7 144.4,174.4 144.5,174.0 144.7,173.7 144.8,173.4 144.9,173.1 145.1,172.8 145.3,172.7 145.4,172.4 145.7,172.5 146.0,172.6 146.3,173.0 146.5,173.1 146.6,173.4 146.9,173.6 147.1,173.9 147.4,174.4 147.4,174.6 147.4,174.9 147.5,175.1 147.6,175.4 147.7,175.7 147.9,175.9 147.9,176.3 148.1,176.6 148.1,176.9 148.3,177.2 148.4,177.5 148.5,177.9 148.5,178.2 148.7,178.5 148.9,178.8 148.8,179.1 149.0,179.4 149.1,179.7 149.1,180.0 149.4,180.3 149.5,180.6 149.6,180.9 149.7,181.2 149.7,181.6 149.8,181.9 150.0,182.1 150.1,182.4 150.2,182.7 150.2,183.0 150.3,183.3 150.4,183.7 150.6,183.9 150.6,184.3 150.8,184.5 150.9,184.8 151.1,185.1 151.2,185.4 151.2,185.7 151.3,186.0 151.5,186.2 151.6,186.5 151.8,186.8 151.9,187.1 152.0,187.4 152.1,187.8 152.3,188.0 152.4,188.4 152.5,188.7 152.7,189.0 152.7,189.3 152.8,189.6 153.0,189.8 153.2,190.1 153.3,190.5 153.5,190.7 153.8,191.0 153.9,191.3 154.1,191.6 154.3,191.8 154.4,192.0 154.7,192.3 155.0,192.5 155.2,192.8 155.4,193.1 155.5,193.3 155.8,193.5 156.0,193.7 156.3,193.9 156.6,194.1 156.9,194.1 157.2,194.3 157.5,194.3 157.8,194.4 158.2,194.4 158.5,194.4 158.8,194.2 159.0,194.1 159.2,193.9 159.4,193.6 159.6,193.3 159.8,193.0 160.0,192.7 160.2,192.5 160.5,192.3 160.7,192.0 160.9,191.8 161.1,191.5 161.3,191.3 161.5,191.0 161.7,190.8 162.0,190.6 162.2,190.3 162.5,190.1 162.7,189.9 163.1,189.8 163.3,189.6 163.6,189.4 164.0,189.4 164.3,189.2 164.7,189.3 165.0,189.2 165.3,189.2 165.6,189.3 165.9,189.4 166.2,189.6 166.5,189.6 166.8,189.6 167.1,189.8 167.4,189.7 167.7,189.9 168.0,189.8 168.3,190.0 168.6,190.1 168.8,190.3 169.1,190.4 169.4,190.6 169.7,190.8 170.0,191.0 170.2,191.2 170.5,191.2 170.7,191.4 170.9,191.6 171.3,191.7 171.5,191.9 171.8,192.1 172.0,192.3 172.2,192.5 172.5,192.8 172.6,193.0 172.9,193.1 173.1,193.4 173.2,193.6 173.4,193.9 173.6,194.1 173.7,194.4 174.0,194.7 174.1,195.0 174.3,195.2 174.6,195.5 174.6,195.8 174.9,195.9 174.9,196.2 175.2,196.4 175.2,196.8 175.4,197.0 175.6,197.3 175.8,197.5 175.9,197.8 176.1,198.0 176.3,198.3 176.4,198.6 176.7,198.8 176.8,199.0 177.0,199.3 177.0,199.6 177.2,199.8 177.5,200.0 177.6,200.3 177.7,200.5 177.9,200.8 178.0,201.1 178.3,201.3 178.4,201.6 178.7,201.8 178.8,202.0 179.0,202.3 179.2,202.5 179.4,202.7 179.6,203.0 179.8,203.2 180.0,203.4 180.1,203.8 180.4,203.9 180.6,204.2 180.9,204.4 181.0,204.7 181.3,204.8 181.5,205.1 181.7,205.3 181.9,205.6 182.2,205.7 182.4,205.9 182.7,206.1 182.9,206.3 183.2,206.4 183.4,206.6 183.6,206.8 183.9,207.0 184.1,207.1 184.4,207.3 184.7,207.4 184.9,207.6 185.2,207.8 185.4,208.0 185.7,208.2 186.0,208.3 186.2,208.5 186.5,208.6 186.7,208.8 187.0,209.0 187.3,209.1 187.5,209.4 187.8,209.5 188.0,209.7 188.3,209.9 188.5,210.1 188.8,210.3 189.1,210.5 189.4,210.6 189.6,210.8 189.9,210.9 190.2,211.1 190.5,211.3 190.8,211.3 191.1,211.4 191.3,211.6 191.7,211.6 192.0,211.7 192.3,211.8 192.6,211.8 192.9,211.9 193.2,212.0 193.5,212.1 193.8,212.2 194.1,212.2 194.4,212.4 194.7,212.4 195.1,212.4 195.4,212.5 195.7,212.6 196.0,212.6 196.3,212.7 196.6,212.7 196.9,212.8 197.3,212.8 197.6,212.9 197.9,213.0 198.2,212.9 198.5,213.1 198.9,213.0 199.2,213.0 199.5,213.2 199.8,213.2 200.1,213.2 200.4,213.2 200.7,213.4 201.0,213.4 201.3,213.4 201.6,213.5 201.9,213.5 202.3,213.5 202.6,213.5 202.9,213.4 203.2,213.5 203.5,213.5 203.8,213.6 204.1,213.5 204.4,213.6 204.7,213.5 205.0,213.6 205.3,213.7 205.7,213.6 206.0,213.7 206.3,213.5 206.6,213.5 206.9,213.5 207.2,213.6 207.6,213.5 207.9,213.6 208.3,213.5 208.6,213.6 208.9,213.5 209.3,213.5 209.6,213.6 209.9,213.5 210.2,213.5 210.5,213.4 210.7,213.5 211.0,213.5 211.2,213.3 211.7,213.4 212.1,213.3 212.3,213.2 212.5,213.1 212.8,213.0 213.0,212.9 213.2,212.7 213.4,212.5 213.5,212.2 213.7,212.0 213.8,211.7 214.0,211.4 214.2,211.1 214.3,210.8 214.6,210.5 214.6,210.2 214.7,210.0 214.8,209.7 214.9,209.4 215.1,209.1 215.3,208.8 215.3,208.5 215.5,208.2 215.6,207.9 215.8,207.6 215.9,207.3 216.0,207.0 216.1,206.7 216.2,206.4 216.4,206.1 216.5,205.8 216.7,205.6 216.7,205.3 217.0,205.0 217.0,204.7 217.1,204.5 217.3,204.2 217.5,204.0 217.7,203.7 217.9,203.5 218.0,203.2 218.3,202.9 218.5,202.7 218.7,202.4 218.9,202.2 219.2,202.0 219.4,201.8 219.6,201.6 219.9,201.3 220.2,201.2 220.5,201.1 220.8,200.9 221.2,200.9 221.5,200.8 221.7,200.7 222.0,200.6 222.4,200.5 222.7,200.3 223.0,200.2 223.3,200.2 223.5,200.2" fill="none" stroke="#0a14f0" stroke-width="2.0" stroke-linejoin="round" stroke-linecap="round"/>
<polyline points="274.5,226.6 274.4,226.3 274.1,226.0 274.0,225.6 273.9,225.2 274.1,224.8 274.9,224.6 274.8,224.3 274.5,223.8 275.2,223.7 275.4,223.0 275.8,223.5 276.1,223.6 276.6,223.8 276.2,224.5 276.5,224.8 277.0,224.5 277.2,223.9 277.8,224.1 277.9,223.7 278.3,223.5 278.3,222.9 279.0,223.4 278.9,222.4 279.3,222.5 279.7,222.6 280.1,222.4 280.5,222.4 280.6,223.1 281.0,223.5 281.3,222.8 281.6,222.6 282.0,222.7 282.3,222.6 282.6,222.5 282.9,222.4 283.2,222.2 283.5,222.0 283.6,221.8 283.8,221.6 284.1,221.4 284.2,221.1 284.3,220.8 284.5,220.5 284.7,220.2 284.9,219.9 285.1,219.6 285.3,219.4 285.5,219.1 285.6,218.8 285.9,218.6 286.0,218.3 286.2,218.0 286.4,217.7 286.6,217.5 286.8,217.2 287.0,217.0 287.2,216.8 287.4,216.5 287.7,216.3 287.8,215.9 288.1,215.8 288.3,215.6 288.5,215.3 288.7,215.1 288.9,214.8 289.2,214.7 289.5,214.5 289.7,214.2 289.9,214.0 290.1,213.8 290.4,213.6 290.6,213.4 290.9,213.3 291.1,213.0 291.3,212.7 291.6,212.5 291.9,212.4 292.2,212.2 292.4,212.0 292.5,211.8 292.8,211.6 293.1,211.4 293.2,211.1 293.5,210.9 293.7,210.7 293.8,210.4 294.0,210.2 294.3,210.0 294.5,209.9 294.7,209.7 294.9,209.4 295.1,209.2 295.4,209.0 295.7,208.8 295.9,208.5 296.2,208.3 296.4,208.1 296.7,207.9 296.9,207.6 297.1,207.4 297.4,207.3 297.7,207.1 298.0,207.0 298.3,206.9 298.6,206.8 298.9,206.7 299.1,206.6 299.4,206.5 299.7,206.5 300.0,206.5 300.4,206.5 300.7,206.6 301.0,206.5 301.3,206.6 301.6,206.7 301.9,206.8 302.2,206.8 302.5,206.9 302.8,206.9 303.2,207.0 303.5,207.2 303.8,207.2 304.1,207.3 304.4,207.4 304.7,207.5 305.0,207.7 305.3,207.8 305.6,207.9 305.9,208.1 306.2,208.2 306.4,208.4 306.7,208.5 306.9,208.7 307.2,208.9 307.4,209.1 307.6,209.3 307.9,209.4 308.2,209.6 308.4,209.8 308.6,210.0 308.9,210.2 309.1,210.4 309.3,210.6 309.6,210.7 309.9,210.9 310.1,211.1 310.4,211.3 310.5,211.6 310.8,211.8 311.0,212.0 311.2,212.3 311.4,212.5 311.7,212.6 311.9,212.8 312.2,213.0 312.3,213.3 312.5,213.6 312.8,213.8 313.0,214.0 313.2,214.2 313.4,214.4 313.6,214.7 313.8,214.9 314.0,215.2 314.2,215.4 314.5,215.6 314.7,215.8 315.0,216.0 315.1,216.3 315.4,216.5 315.6,216.7 315.9,216.9 316.0,217.2 316.3,217.4 316.6,217.6 316.8,217.8 317.0,218.0 317.3,218.2 317.5,218.4 317.7,218.6 318.0,218.8 318.3,219.0 318.5,219.3 318.8,219.4 319.1,219.6 319.3,219.8 319.6,220.0 319.9,220.2 320.1,220.4 320.3,220.5 320.5,220.6 320.9,220.9 321.1,221.2 321.4,221.2 321.7,221.4 322.0,221.5 322.3,221.6 322.7,221.6 323.0,221.8 323.4,221.8 323.7,221.8 324.0,221.8 324.4,221.8 324.7,221.8 325.0,221.6 325.3,221.6 325.6,221.5 325.9,221.4 326.2,221.2 326.5,221.1 326.9,221.0 327.2,220.9 327.4,220.8 327.7,220.7 328.0,220.6 328.3,220.5 328.7,220.4 329.0,220.3 329.3,220.3 329.6,220.0 329.9,220.0 330.1,219.8 330.5,219.8 330.7,219.6 331.0,219.5 331.3,219.3 331.5,219.2 331.8,219.1 332.1,219.0 332.4,218.7 332.7,218.6 332.9,218.4 333.2,218.3 333.4,217.9 333.7,217.8 333.9,217.6 334.2,217.4 334.5,217.2 334.8,217.0 335.0,216.7 335.2,216.5 335.5,216.3 335.6,216.0 335.9,215.7 336.2,215.5 336.4,215.2 336.7,215.1 336.8,214.7 337.0,214.5 337.2,214.3 337.4,214.1 337.7,213.9 337.9,213.6 338.2,213.4 338.4,213.2 338.6,213.0 338.8,212.7 339.0,212.5 339.2,212.2 339.4,212.0 339.5,211.7 339.8,211.4 340.0,211.2 340.2,210.9 340.5,210.7 340.6,210.4 340.9,210.3 341.0,209.9 341.3,209.7 341.5,209.5 341.8,209.2 342.0,209.0 342.2,208.7 342.5,208.6 342.7,208.4 342.9,208.1 343.2,208.0 343.5,207.8 343.7,207.6 344.0,207.4 344.3,207.2 344.5,207.0 344.7,206.8 345.0,206.6 345.2,206.4 345.5,206.2 345.7,205.9 346.0,205.8 346.3,205.6 346.5,205.4 346.7,205.2 347.0,205.0 347.3,204.8 347.6,204.6 347.9,204.5 348.1,204.2 348.4,204.1 348.6,203.9 348.9,203.7 349.3,203.7 349.5,203.5 349.8,203.4 350.1,203.2 350.5,203.0 350.8,202.9 351.1,202.7 351.4,202.7 351.7,202.7 352.0,202.6 352.3,202.6 352.6,202.6 352.9,202.8 353.2,202.9 353.4,203.1 353.7,203.2 354.0,203.4 354.3,203.5 354.6,203.7 354.8,203.9 355.2,204.0 355.4,204.1 355.7,204.3 356.0,204.4 356.3,204.5 356.7,204.6 357.0,204.7 357.3,204.7 357.7,204.7 358.0,204.9 358.3,204.9 358.6,204.9 359.0,204.9 359.3,205.0 359.6,205.1 360.0,205.1 360.3,205.0 360.6,204.9 360.9,204.9 361.2,204.8 361.6,204.9 361.9,204.8 362.2,204.9 362.5,204.4 362.9,204.9 363.1,204.2 363.5,204.7 363.8,204.4 364.0,203.8 364.6,204.6 364.7,204.1 365.2,204.3 365.4,204.0 365.6,203.6 366.1,203.6 365.8,202.9 366.6,203.1 366.4,202.5 366.4,202.0 366.8,202.0 366.9,201.6 367.1,201.4 367.7,201.5 367.5,201.0 367.7,200.8 368.1,200.6 368.3,200.3 369.0,200.4 369.1,200.3 369.2,200.1 369.5,200.1 369.7,199.5 369.9,199.9 370.5,199.6 370.4,200.4 371.0,200.5 371.4,200.3 371.6,199.7 372.0,199.4 372.2,200.3 372.6,200.0 373.0,200.2 373.2,200.5 373.7,199.9 373.9,200.6 374.3,200.5 374.4,200.9 374.8,200.8 375.2,200.8 375.2,201.6 375.8,201.2 375.9,201.8 376.1,202.0 376.6,201.7 376.6,202.3 377.1,202.2 377.4,202.2 377.7,202.4 377.5,203.2 378.0,203.0 378.2,203.2 378.5,203.4 378.8,203.5 379.0,203.8 379.2,204.0 379.5,204.2 379.8,204.3 380.0,204.5 380.3,204.7 380.5,204.9 380.7,205.1 381.0,205.2 381.2,205.4 381.5,205.5 381.7,205.8 382.0,206.0 382.2,206.2 382.4,206.4 382.7,206.5 382.9,206.8 383.2,207.0 383.4,207.2 383.8,207.3 384.0,207.6 384.2,207.8 384.5,208.0 384.8,208.2 385.0,208.4 385.3,208.6 385.5,208.8 385.8,209.0 386.0,209.3 386.3,209.4 386.5,209.7 386.7,209.8 387.0,210.0 387.3,210.2 387.6,210.3 387.8,210.6 388.1,210.7 388.4,211.0 388.6,211.1 388.9,211.3 389.2,211.5 389.5,211.6 389.8,211.8 390.0,212.0 390.3,212.0 390.6,212.2 390.9,212.4 391.1,212.5 391.4,212.6 391.7,212.8 392.0,213.1 392.3,213.1 392.5,213.2 392.8,213.4 393.0,213.6 393.4,213.7 393.6,213.9 393.9,214.0 394.2,214.2 394.4,214.3 394.7,214.5 395.0,214.5 395.2,214.8 395.6,214.8 395.8,214.9 396.1,215.2 396.4,215.3 396.6,215.4 396.9,215.5 397.2,215.7 397.5,215.7 397.7,215.9 398.0,216.0 398.3,216.1 398.5,216.3 398.8,216.4 399.1,216.6 399.4,216.6 399.6,216.9 399.9,217.0 400.2,217.1 400.5,217.3 400.7,217.4 401.0,217.4 401.3,217.7 401.6,217.8 401.9,217.7 402.2,217.9 402.5,217.9 402.7,218.0 403.0,218.1 403.3,218.2 403.7,218.3 404.0,218.4 404.3,218.5 404.6,218.5 404.8,218.7 405.1,218.7 405.4,218.7 405.7,218.8 406.0,218.8 406.3,218.9 406.7,219.0 407.0,219.1 407.3,219.2 407.6,219.3 408.0,219.3 408.3,219.3 408.5,219.4 408.8,219.4 409.1,219.6 409.4,219.5 409.7,219.6 410.0,219.6 410.2,219.8 410.6,219.7 410.9,219.8 411.2,219.8 411.5,219.9 411.9,219.9 412.2,219.9 412.6,219.9 413.0,220.0 413.2,220.1 413.5,220.0 413.8,220.1 414.0,220.1 414.3,220.1 414.6,220.1 414.9,220.1 415.1,220.2 415.4,220.2 415.7,220.1 416.0,220.2 416.3,220.3 416.6,220.3 416.9,220.2 417.2,220.3 417.5,220.3 417.9,220.4 418.2,220.3 418.5,220.3 418.9,220.3 419.2,220.4 419.6,220.4 419.9,220.3 420.3,220.4 420.6,220.4 421.0,220.4 421.3,220.3 421.5,220.4 421.8,220.4 422.1,220.4 422.4,220.4 422.7,220.4 423.0,220.5 423.4,220.4 423.7,220.5 424.0,220.4 424.4,220.4 424.7,220.5 425.0,220.4 425.4,220.5 425.7,220.4 426.1,220.5 426.4,220.4 426.7,220.5 427.1,220.4 427.4,220.4 427.8,220.4 428.1,220.4 428.4,220.4 428.8,220.4 429.1,220.4 429.4,220.4 429.7,220.5 430.0,220.4 430.3,220.4 430.6,220.4 430.9,220.5 431.1,220.4 431.4,220.4 431.6,220.5 431.9,220.4 432.1,220.4 432.3,220.4 432.9,220.3 433.4,220.3 433.8,220.3 434.2,220.4 434.5,220.2 434.7,220.2 435.0,220.2 435.2,220.1 435.4,220.1 435.6,220.1 435.8,220.0 436.0,220.1 436.4,220.0 436.8,219.8 437.2,219.8 437.4,219.8 437.7,219.6 438.0,219.6 438.3,219.5 438.6,219.3 438.8,219.1 439.1,218.9 439.3,218.6 439.6,218.5 439.7,218.2 439.9,218.0 440.2,217.8 440.3,217.5 440.6,217.3 440.7,217.0 441.0,216.8 441.1,216.5 441.4,216.2 441.6,216.0 441.7,215.7 441.9,215.5 442.1,215.2 442.3,215.0 442.5,214.8 442.8,214.6 443.0,214.5 443.2,214.3 443.5,214.2 443.8,214.2 444.0,213.9 444.4,213.9 444.8,213.7 445.2,213.8 445.4,213.6 445.7,213.6 446.1,213.6 446.4,213.4 446.7,213.3 447.1,213.4 447.5,213.3 447.9,213.3 448.2,213.2 448.6,213.1 448.9,213.0 449.2,213.0 449.5,213.0 449.8,213.0 450.0,212.9 450.2,212.9" fill="none" stroke="#ff8000" stroke-width="2.0" stroke-linejoin="round" stroke-linecap="round"/>
<polyline points="501.5,226.1 501.3,225.5 502.1,225.8 502.2,225.3 502.3,224.8 502.5,224.5 503.0,224.7 503.2,224.5 503.6,224.5 503.7,224.1 504.0,223.9 504.4,224.2 504.4,223.5 505.0,224.0 505.3,223.8 505.6,223.7 505.9,223.5 505.9,222.8 506.4,223.1 506.6,222.8 506.7,222.3 507.4,222.9 507.5,222.4 507.9,222.4 508.0,222.1 508.1,221.5 508.7,222.0 508.7,221.2 509.0,221.1 509.5,221.3 509.5,220.7 510.0,220.8 510.3,220.7 510.5,220.4 510.8,220.3 511.0,220.0 511.2,219.9 511.5,219.7 511.8,219.5 511.9,219.1 512.2,218.9 512.5,218.8 512.7,218.5 512.9,218.3 513.1,218.0 513.4,217.8 513.6,217.5 513.8,217.3 514.0,217.0 514.2,216.8 514.4,216.5 514.6,216.2 514.9,216.1 515.1,215.8 515.2,215.5 515.5,215.3 515.6,215.0 515.8,214.8 516.0,214.5 516.2,214.3 516.4,214.0 516.7,213.8 516.8,213.5 517.0,213.2 517.2,212.9 517.4,212.7 517.6,212.5 517.8,212.2 518.0,212.0 518.3,211.8 518.5,211.5 518.8,211.3 519.0,211.1 519.2,210.8 519.5,210.6 519.8,210.4 520.0,210.2 520.2,210.0 520.5,209.7 520.7,209.5 521.0,209.4 521.2,209.1 521.5,209.0 521.7,208.8 522.0,208.6 522.3,208.4 522.5,208.2 522.8,208.0 523.1,207.8 523.4,207.7 523.7,207.5 524.0,207.3 524.3,207.3 524.6,207.2 524.9,207.0 525.2,207.1 525.5,206.9 525.9,206.9 526.2,206.8 526.5,206.7 526.8,206.8 527.1,206.7 527.4,206.7 527.7,206.6 528.1,206.6 528.4,206.7 528.7,206.6 529.0,206.7 529.3,206.7 529.6,206.6 529.9,206.8 530.3,206.7 530.6,206.9 530.9,207.0 531.2,207.0 531.5,207.1 531.8,207.2 532.1,207.2 532.4,207.4 532.7,207.4 533.0,207.5 533.4,207.6 533.6,207.8 534.0,208.0 534.2,208.2 534.5,208.3 534.7,208.5 534.9,208.7 535.2,208.9 535.5,209.0 535.7,209.2 535.9,209.5 536.3,209.6 536.5,209.8 536.8,210.1 537.0,210.3 537.2,210.5 537.4,210.7 537.7,210.9 537.9,211.2 538.1,211.3 538.4,211.5 538.6,211.7 538.8,212.0 539.1,212.1 539.3,212.3 539.5,212.6 539.7,212.8 540.0,213.0 540.2,213.2 540.4,213.5 540.7,213.6 541.0,213.8 541.2,214.0 541.4,214.2 541.6,214.5 541.8,214.7 542.1,214.8 542.3,215.1 542.5,215.2 542.8,215.4 543.0,215.7 543.3,215.8 543.5,216.0 543.8,216.2 544.0,216.3 544.3,216.6 544.5,216.8 544.7,217.1 545.0,217.2 545.2,217.4 545.5,217.6 545.7,217.8 546.0,218.0 546.2,218.2 546.5,218.4 546.7,218.6 546.9,218.8 547.1,219.0 547.4,219.2 547.6,219.5 547.7,219.7 548.0,219.8 548.3,220.1 548.5,220.2 548.8,220.4 549.0,220.5 549.3,220.7 549.5,221.0 549.8,221.1 550.1,221.3 550.4,221.4 550.7,221.5 551.0,221.6 551.4,221.6 551.6,221.7 551.9,221.8 552.2,221.9 552.5,221.9 552.8,222.0 553.1,222.0 553.4,222.0 553.7,222.0 554.0,221.9 554.3,221.9 554.6,221.9 554.9,221.8 555.2,221.6 555.6,221.5 555.9,221.5 556.2,221.4 556.5,221.2 556.7,221.0 557.0,221.0 557.3,220.9 557.6,220.7 557.9,220.7 558.2,220.5 558.5,220.4 558.7,220.1 559.0,220.0 559.3,219.8 559.6,219.6 559.9,219.5 560.2,219.3 560.4,219.1 560.7,219.0 561.0,218.8 561.2,218.6 561.4,218.5 561.7,218.2 561.9,218.1 562.1,217.8 562.4,217.6 562.6,217.4 562.9,217.2 563.1,217.1 563.4,216.8 563.6,216.6 563.8,216.4 564.1,216.1 564.3,215.9 564.6,215.8 564.7,215.4 564.9,215.3 565.2,215.1 565.3,214.8 565.6,214.7 565.7,214.4 566.0,214.2 566.2,214.0 566.4,213.7 566.6,213.5 566.8,213.3 567.1,213.1 567.3,212.8 567.5,212.6 567.6,212.4 567.9,212.2 568.1,212.1 568.3,211.8 568.6,211.6 568.7,211.3 569.0,211.2 569.2,210.9 569.5,210.7 569.7,210.6 569.9,210.3 570.2,210.2 570.4,210.0 570.7,209.8 570.8,209.5 571.1,209.4 571.4,209.2 571.6,209.1 571.8,208.8 572.1,208.7 572.3,208.5 572.6,208.3 572.9,208.2 573.0,207.9 573.3,207.8 573.6,207.6 573.8,207.4 574.1,207.3 574.4,207.1 574.7,207.0 574.9,206.7 575.2,206.7 575.4,206.5 575.6,206.2 575.9,206.2 576.2,206.0 576.4,205.8 576.7,205.7 577.0,205.4 577.1,205.1 577.4,204.9 577.7,204.7 577.9,204.5 578.1,204.2 578.4,204.1 578.6,203.8 578.9,203.6 579.1,203.5 579.4,203.4 579.6,203.2 579.8,203.2 580.1,203.1 580.4,203.0 580.7,203.1 581.0,203.1 581.3,203.2 581.6,203.3 581.9,203.4 582.2,203.5 582.5,203.6 582.8,203.7 583.1,203.9 583.4,203.9 583.7,203.9 584.0,204.0 584.3,204.1 584.6,204.1 584.9,204.3 585.2,204.3 585.6,204.3 585.9,204.3 586.2,204.4 586.5,204.4 586.8,204.4 587.1,204.4 587.5,204.3 587.8,204.3 588.1,204.3 588.5,204.3 588.8,204.1 589.1,204.0 589.4,204.0 589.7,203.8 590.0,203.8 590.3,203.6 590.6,203.5 590.9,203.4 591.2,203.2 591.4,202.9 591.7,202.7 591.9,202.5 592.1,202.2 592.3,201.9 592.9,202.2 593.1,202.0 593.4,201.9 593.6,201.5 594.0,201.5 594.0,200.9 594.4,201.0 594.6,200.7 594.9,200.6 595.4,200.9 595.5,200.3 595.8,200.2 596.1,200.1 596.6,200.5 596.8,200.2 597.0,200.0 597.3,199.7 597.9,200.1 598.1,200.0 598.4,199.6 598.6,199.8 598.7,200.2 599.4,200.0 599.6,200.3 600.0,200.4 600.1,200.9 600.2,201.2 600.8,200.9 600.9,201.3 601.0,201.9 601.5,201.6 601.9,201.7 601.9,202.2 602.1,202.4 602.6,202.1 603.0,202.0 603.1,202.6 603.3,202.8 603.5,203.2 603.9,203.1 604.3,203.0 604.4,203.3 604.8,203.3 604.9,203.6 605.2,203.8 605.1,204.4 605.4,204.6 605.6,204.8 606.2,204.7 606.4,204.9 606.7,205.1 606.9,205.4 607.1,205.5 607.3,205.8 607.6,205.9 607.8,206.2 608.2,206.3 608.3,206.6 608.6,206.8 608.9,207.0 609.0,207.2 609.4,207.4 609.5,207.6 609.8,207.8 610.1,208.0 610.3,208.2 610.5,208.5 610.8,208.7 611.1,208.8 611.3,209.1 611.6,209.2 611.8,209.4 612.1,209.6 612.3,209.8 612.6,210.1 612.8,210.2 613.1,210.4 613.4,210.6 613.7,210.7 614.0,210.9 614.2,211.1 614.4,211.3 614.7,211.5 614.9,211.7 615.2,211.8 615.5,212.0 615.8,212.2 616.1,212.3 616.3,212.6 616.6,212.7 616.9,212.9 617.2,213.1 617.5,213.2 617.7,213.4 618.0,213.5 618.3,213.7 618.6,213.9 618.9,214.0 619.2,214.1 619.5,214.2 619.8,214.3 620.1,214.5 620.3,214.7 620.6,214.8 620.9,214.8 621.2,215.0 621.5,215.1 621.8,215.3 622.0,215.4 622.3,215.4 622.6,215.5 622.9,215.8 623.1,215.9 623.4,216.0 623.7,216.1 624.0,216.2 624.3,216.3 624.6,216.4 624.9,216.5 625.1,216.7 625.4,216.7 625.7,216.8 626.0,217.0 626.4,217.0 626.6,217.2 627.0,217.3 627.3,217.4 627.5,217.5 627.8,217.5 628.1,217.6 628.3,217.7 628.6,217.9 628.9,217.9 629.2,218.1 629.5,218.1 629.7,218.3 630.1,218.3 630.4,218.4 630.7,218.5 631.0,218.6 631.3,218.6 631.5,218.8 631.8,218.8 632.1,218.9 632.4,219.0 632.7,219.0 633.0,219.1 633.3,219.2 633.6,219.3 633.9,219.3 634.2,219.4 634.5,219.5 634.8,219.6 635.1,219.6 635.4,219.6 635.7,219.7 636.0,219.8 636.3,219.8 636.6,220.0 636.9,220.0 637.2,220.1 637.5,220.1 637.8,220.2 638.1,220.3 638.4,220.2 638.7,220.4 639.1,220.3 639.4,220.5 639.7,220.4 640.0,220.5 640.3,220.5 640.7,220.6 641.0,220.6 641.3,220.6 641.6,220.7 641.8,220.7 642.1,220.8 642.4,220.7 642.7,220.7 643.0,220.8 643.3,220.8 643.6,220.8 643.9,220.8 644.2,220.8 644.6,220.9 644.9,220.9 645.2,220.9 645.5,220.9 645.8,221.0 646.1,221.0 646.4,220.9 646.7,221.0 647.0,221.0 647.3,221.0 647.6,221.0 647.9,221.0 648.2,221.0 648.5,221.0 648.8,221.0 649.1,221.1 649.4,221.0 649.8,221.0 650.1,221.1 650.4,221.0 650.7,221.1 651.0,221.0 651.3,221.0 651.6,221.0 651.9,221.0 652.2,221.0 652.4,221.1 652.7,221.1 653.0,221.0 653.3,221.0 653.7,221.0 654.0,221.0 654.3,220.9 654.6,221.1 654.9,221.1 655.3,220.9 655.6,220.9 655.9,220.9 656.2,220.9 656.5,220.9 656.8,221.0 657.1,220.9 657.4,221.0 657.7,220.9 658.0,220.8 658.3,221.0 658.6,220.8 659.0,220.8 659.3,220.8 659.7,220.8 660.0,220.8 660.4,220.7 660.7,220.7 661.0,220.8 661.4,220.7 661.7,220.7 662.0,220.7 662.3,220.7 662.5,220.7 662.8,220.6 663.0,220.7 663.5,220.6 663.9,220.4 664.1,220.3 664.4,220.2 664.5,220.1 664.8,220.1 665.1,219.9 665.3,219.6 665.6,219.5 665.8,219.3 665.9,218.9 666.2,218.8 666.4,218.5 666.6,218.3 666.9,218.0 667.0,217.7 667.3,217.5 667.5,217.2 667.7,216.9 667.9,216.7 668.1,216.5 668.4,216.3 668.5,216.0 668.8,215.8 669.0,215.5 669.2,215.4 669.5,215.2 669.8,215.1 670.1,215.1 670.4,214.9 670.7,214.9 671.0,214.7 671.3,214.7 671.7,214.7 672.0,214.5 672.3,214.5 672.7,214.5 673.0,214.4 673.3,214.4 673.7,214.2 674.0,214.2 674.3,214.2 674.6,214.0 675.0,214.1 675.3,214.0 675.7,213.8 676.1,213.8 676.5,213.8 676.8,213.6 677.1,213.7 677.3,213.6" fill="none" stroke="#ff8000" stroke-width="2.0" stroke-linejoin="round" stroke-linecap="round"/>
<polyline points="501.4,214.5 501.4,214.7 501.4,214.9 501.4,215.1 501.4,215.4 501.4,215.6 501.4,216.0 501.4,216.3 501.5,216.6 501.5,217.0 501.5,217.4 501.5,217.7 501.5,218.1 501.5,218.5 501.5,218.9 501.5,219.3 501.5,219.7 501.5,220.1 501.5,220.5 501.6,220.9 501.6,221.3 501.6,221.6 501.6,222.0 501.6,222.3 501.6,222.6 501.6,222.9 501.6,223.2 501.6,223.4 501.7,223.6 501.7,223.8 501.7,223.9 501.7,224.0 501.7,224.1 501.8,224.1 501.8,223.9 501.8,223.6 501.8,223.3 501.9,222.9 501.9,222.5 501.9,222.0 502.0,221.5 502.0,221.1 502.0,220.6 502.1,220.2 502.1,219.9 502.2,219.7 502.2,219.5 502.3,219.4 502.5,219.8 502.7,220.2 502.8,220.7 503.0,221.0 503.4,221.2 503.7,220.9 503.9,220.3 504.3,220.9 504.5,220.2 504.9,220.6 505.2,220.5 505.5,220.2 505.8,220.4 506.0,220.1 506.3,220.4 506.5,219.7 507.1,220.3 507.2,219.8 507.6,220.1 507.8,219.8 508.2,219.9 508.4,219.4 508.7,219.5 508.9,219.0 509.4,219.3 509.6,218.8 510.1,219.3 510.3,219.0 510.5,218.7 511.0,218.9 511.3,218.7 511.6,218.6 511.5,217.8 512.0,218.1 512.3,217.9 512.5,217.6 512.5,217.1 513.2,217.5 513.2,217.0 513.5,216.9 513.9,216.9 513.9,216.4 514.0,216.0 514.7,216.4 514.6,215.8 514.8,215.5 515.1,215.3 515.7,215.7 515.9,215.3 515.9,214.8 516.1,214.6 516.7,214.9 516.8,214.5 517.0,214.3 517.1,213.8 517.5,213.8 518.0,213.9 517.7,213.1 518.2,213.2 518.3,212.7 519.0,213.1 518.8,212.4 519.5,212.7 519.6,212.4 519.8,212.1 519.7,211.5 520.2,211.6 520.4,211.4 520.6,211.2 520.8,210.9 521.1,210.8 521.3,210.6 521.5,210.3 521.8,210.2 522.0,210.0 522.2,209.8 522.5,209.6 522.7,209.4 523.0,209.2 523.3,209.0 523.5,208.9 523.8,208.7 524.0,208.5 524.3,208.4 524.5,208.1 524.7,207.9 525.0,207.8 525.3,207.6 525.5,207.4 525.8,207.2 526.1,207.0 526.4,206.9 526.7,206.7 527.0,206.6 527.2,206.4 527.5,206.3 527.8,206.2 528.0,206.0 528.3,205.9 528.6,205.7 529.0,205.6 529.3,205.6 529.6,205.5 529.9,205.4 530.2,205.3 530.5,205.4 530.8,205.3 531.1,205.2 531.4,205.1 531.7,205.0 532.1,205.0 532.4,205.0 532.7,205.0 533.0,205.0 533.3,205.1 533.6,205.1 533.9,205.2 534.2,205.3 534.6,205.4 534.9,205.5 535.2,205.6 535.5,205.7 535.8,205.9 536.1,206.0 536.4,206.0 536.6,206.2 536.9,206.4 537.2,206.5 537.5,206.7 537.8,206.8 538.0,207.0 538.3,207.2 538.5,207.3 538.7,207.5 538.9,207.5 539.2,207.7 539.3,208.0 539.7,208.2 540.0,208.5 540.2,208.7 540.4,208.8 540.6,209.0 540.8,209.2 540.9,209.5 541.1,209.7 541.4,209.8 541.6,210.1 541.9,210.3 542.2,210.5 542.3,210.9 542.5,211.1 542.9,211.3 543.1,211.5 543.3,211.8 543.5,212.1 543.8,212.3 544.0,212.5 544.2,212.7 544.4,213.0 544.6,213.2 544.8,213.4 545.1,213.6 545.3,213.9 545.5,214.1 545.7,214.4 545.9,214.6 546.2,214.8 546.4,215.0 546.6,215.3 546.9,215.4 547.0,215.7 547.2,215.9 547.5,216.1 547.6,216.3 547.8,216.5 548.1,216.6 548.4,216.8 548.7,217.0 549.0,217.2 549.3,217.3 549.6,217.6 549.9,217.7 550.2,217.8 550.5,217.9 550.8,218.1 551.1,218.2 551.3,218.3 551.6,218.4 551.8,218.6 552.1,218.6 552.4,218.8 552.8,218.8 553.0,219.0 553.3,219.0 553.6,219.0 553.8,219.1 554.1,219.0 554.4,219.0 554.8,219.0 555.1,219.0 555.3,218.9 555.6,218.8 555.9,218.8 556.2,218.8 556.5,218.7 556.8,218.7 557.1,218.6 557.4,218.6 557.7,218.4 558.0,218.3 558.3,218.2 558.6,218.0 558.9,217.9 559.1,217.7 559.4,217.6 559.6,217.4 559.9,217.3 560.0,217.1 560.3,216.9 560.5,216.7 560.8,216.5 561.0,216.3 561.2,216.1 561.5,215.9 561.7,215.7 562.0,215.4 562.2,215.2 562.5,215.0 562.7,214.8 562.9,214.5 563.2,214.3 563.3,214.1 563.6,213.9 563.7,213.7 563.9,213.5 564.1,213.2 564.3,213.0 564.5,212.8 564.8,212.6 564.9,212.3 565.2,212.2 565.4,211.9 565.6,211.7 565.7,211.4 565.9,211.1 566.2,210.9 566.4,210.6 566.6,210.4 566.7,210.0 567.0,209.8 567.1,209.6 567.3,209.3 567.4,209.1 567.6,208.9 567.8,208.7 567.9,208.4 568.1,208.1 568.2,207.9 568.4,207.6 568.5,207.4 568.7,207.1 568.9,206.9 569.1,206.6 569.2,206.4 569.4,206.1 569.5,205.8 569.6,205.5 569.8,205.2 569.9,204.9 570.1,204.7 570.3,204.4 570.5,204.2 570.6,203.9 570.7,203.6 570.8,203.3 571.1,203.0 571.2,202.8 571.2,202.5 571.3,202.2 571.6,202.0 571.6,201.6 571.8,201.4 571.9,201.1 572.1,200.8 572.1,200.5 572.3,200.3 572.4,200.0 572.5,199.7 572.6,199.4 572.8,199.1 573.0,198.8 573.0,198.5 573.2,198.2 573.2,197.9 573.3,197.6 573.4,197.3 573.7,197.1 573.7,196.7 573.9,196.5 573.9,196.2 574.0,195.9 574.2,195.6 574.4,195.3 574.4,195.0 574.5,194.7 574.6,194.4 574.7,194.1 574.8,193.8 574.9,193.5 575.1,193.3 575.1,192.9 575.2,192.6 575.3,192.3 575.4,192.0 575.5,191.7 575.6,191.4 575.7,191.2 575.8,190.9 575.9,190.5 575.9,190.2 576.1,190.0 576.1,189.6 576.2,189.3 576.3,189.0 576.4,188.8 576.5,188.5 576.5,188.2 576.6,187.9 576.8,187.6 576.9,187.3 576.9,187.0 577.0,186.8 577.1,186.5 577.2,186.2 577.2,185.8 577.4,185.6 577.5,185.2 577.5,184.9 577.6,184.6 577.7,184.3 577.8,184.0 577.9,183.7 578.0,183.5 578.1,183.2 578.2,182.9 578.3,182.6 578.3,182.3 578.4,182.0 578.6,181.8 578.7,181.5 578.8,181.2 578.8,180.9 578.9,180.6 579.0,180.4 579.0,180.1 579.1,179.8 579.2,179.5 579.2,179.2 579.4,178.9 579.5,178.6 579.6,178.3 579.7,178.0 579.7,177.6 579.9,177.3 580.0,177.0 580.1,176.7 580.2,176.4 580.2,176.1 580.3,175.7 580.5,175.5 580.6,175.2 580.6,174.9 580.7,174.6 580.7,174.3 580.9,174.0 581.0,173.8 581.1,173.5 581.1,173.3 581.2,173.0 581.3,172.8 581.5,172.4 581.6,172.1 581.7,171.7 581.9,171.4 582.0,171.1 582.1,170.8 582.2,170.6 582.3,170.3 582.4,170.1 582.5,169.9 582.7,169.7 582.8,169.5 583.0,169.1 583.2,168.7 583.5,168.5 583.8,168.3 583.9,168.0 584.2,168.0 584.5,168.0 584.8,168.0 585.0,168.1 585.3,168.3 585.6,168.6 585.8,168.7 585.9,169.0 586.2,169.2 586.3,169.5 586.5,169.8 586.6,170.1 586.8,170.4 587.0,170.8 587.0,171.1 587.3,171.2 587.4,171.5 587.4,171.8 587.5,172.1 587.6,172.3 587.7,172.7 587.8,173.0 587.9,173.2 588.0,173.6 588.0,173.9 588.2,174.2 588.3,174.5 588.4,174.8 588.5,175.1 588.5,175.4 588.6,175.7 588.8,176.0 588.9,176.3 588.9,176.6 589.1,176.9 589.1,177.2 589.3,177.5 589.3,177.8 589.4,178.1 589.6,178.4 589.7,178.7 589.7,179.0 589.9,179.3 589.9,179.6 590.2,179.9 590.2,180.2 590.3,180.5 590.5,180.8 590.6,181.1 590.8,181.4 590.9,181.7 591.0,182.0 591.1,182.3 591.3,182.5 591.3,182.8 591.5,183.0 591.7,183.2 591.9,183.5 592.0,183.8 592.2,184.1 592.4,184.4 592.6,184.7 592.7,185.0 593.0,185.1 593.0,185.4 593.2,185.6 593.4,185.8 593.6,185.9 594.0,186.1 594.3,186.3 594.7,186.2 595.0,186.1 595.2,185.9 595.4,185.7 595.5,185.5 595.6,185.1 595.8,184.9 596.0,184.5 596.1,184.2 596.3,183.8 596.5,183.6 596.5,183.3 596.6,183.1 596.6,182.7 596.7,182.4 596.7,182.1 596.9,181.8 596.9,181.5 597.1,181.2 597.1,180.9 597.3,180.5 597.3,180.2 597.4,179.8 597.5,179.5 597.6,179.2 597.7,178.9 597.7,178.6 597.8,178.3 597.8,178.0 597.9,177.7 597.9,177.3 598.0,177.0 598.1,176.7 598.1,176.3 598.3,176.0 598.4,175.7 598.5,175.4 598.5,175.1 598.5,174.9 598.5,174.6 598.6,174.4 598.7,174.2 599.0,173.7 599.0,173.3 599.1,173.0 599.3,172.9 599.5,172.8 599.8,172.7 600.1,172.7 600.4,173.0 600.6,173.2 600.6,173.4 600.9,173.7 601.0,173.9 601.2,174.2 601.3,174.6 601.5,174.8 601.7,175.1 601.9,175.3 602.1,175.6 602.3,175.8 602.4,176.2 602.6,176.5 602.9,176.7 602.9,177.0 603.0,177.3 603.2,177.6 603.2,177.9 603.4,178.2 603.6,178.5 603.6,178.8 603.8,179.1 603.9,179.5 604.0,179.8 604.1,180.1 604.2,180.4 604.3,180.7 604.4,181.0 604.6,181.2 604.6,181.5 604.8,181.8 604.9,182.1 604.9,182.4 605.2,182.7 605.3,183.0 605.4,183.3 605.5,183.6 605.6,183.9 605.7,184.2 605.9,184.4 605.9,184.8 606.2,185.0 606.2,185.3 606.4,185.6 606.6,185.8 606.7,186.1 606.7,186.5 606.9,186.7 607.1,187.0 607.1,187.3 607.2,187.5 607.4,187.8 607.6,188.1 607.8,188.3 607.9,188.6 607.9,188.9 608.1,189.2 608.3,189.4 608.4,189.7 608.6,189.9 608.7,190.2 608.8,190.5 609.0,190.7 609.1,191.0 609.4,191.2 609.5,191.6 609.7,191.8 609.9,192.1 609.9,192.4 610.2,192.6 610.4,192.9 610.5,193.1 610.6,193.3 610.8,193.5 611.2,193.7 611.4,193.9 611.7,194.1 612.0,194.1 612.2,194.2 612.6,194.4 612.9,194.5 613.3,194.4 613.5,194.1 613.6,193.9 613.9,193.7 614.1,193.4 614.3,193.1 614.4,192.8 614.7,192.5 614.8,192.2 615.1,191.9 615.3,191.7 615.4,191.3 615.7,191.1 616.0,190.9 616.2,190.6 616.5,190.4 616.7,190.3 617.1,190.2 617.3,190.0 617.6,189.8 617.9,189.7 618.2,189.6 618.6,189.5 618.9,189.5 619.2,189.4 619.5,189.5 619.9,189.4 620.2,189.5 620.5,189.6 620.8,189.7 621.0,189.8 621.4,189.8 621.6,190.1 621.9,190.2 622.2,190.3 622.5,190.4 622.7,190.6 623.0,190.7 623.3,190.8 623.6,190.9 623.9,191.1 624.2,191.2 624.5,191.3 624.8,191.4 625.1,191.5 625.4,191.7 625.6,191.9 625.9,192.1 626.2,192.2 626.4,192.4 626.6,192.6 626.8,192.9 627.0,193.1 627.2,193.3 627.4,193.7 627.5,194.0 627.8,194.2 627.9,194.5 628.2,194.7 628.3,195.0 628.4,195.2 628.7,195.4 628.8,195.7 628.9,196.0 629.2,196.2 629.4,196.5 629.5,196.7 629.6,197.0 629.8,197.3 629.9,197.5 630.2,197.8 630.4,198.0 630.6,198.2 630.8,198.5 630.9,198.8 631.2,199.0 631.3,199.3 631.4,199.6 631.7,199.8 631.8,200.1 632.0,200.3 632.1,200.6 632.4,200.8 632.5,201.1 632.7,201.3 632.9,201.5 633.0,201.8 633.3,202.0 633.5,202.3 633.6,202.5 633.8,202.8 634.0,203.0 634.3,203.2 634.4,203.4 634.6,203.7 634.8,204.0 635.1,204.1 635.3,204.4 635.6,204.6 635.8,204.8 636.0,205.0 636.3,205.3 636.4,205.6 636.7,205.8 636.9,206.0 637.1,206.2 637.4,206.4 637.6,206.6 637.9,206.8 638.0,207.2 638.3,207.4 638.5,207.6 638.8,207.8 639.0,208.0 639.2,208.2 639.5,208.4 639.8,208.5 640.0,208.8 640.2,208.9 640.5,209.1 640.7,209.4 640.9,209.6 641.2,209.7 641.5,209.8 641.8,210.0 642.0,210.1 642.2,210.4 642.5,210.6 642.8,210.8 643.0,210.9 643.3,211.0 643.6,211.2 643.9,211.3 644.1,211.6 644.4,211.8 644.7,211.9 645.0,212.0 645.2,212.2 645.5,212.2 645.8,212.3 646.1,212.4 646.3,212.6 646.6,212.6 646.9,212.8 647.2,212.9 647.5,212.9 647.8,213.1 648.1,213.1 648.4,213.2 648.7,213.3 649.0,213.2 649.3,213.4 649.6,213.4 649.9,213.5 650.2,213.6 650.5,213.7 650.9,213.6 651.2,213.7 651.5,213.7 651.8,213.9 652.1,213.9 652.4,214.0 652.7,214.0 653.0,214.0 653.3,214.0 653.6,214.0 653.9,214.1 654.2,214.1 654.5,214.2 654.8,214.1 655.2,214.2 655.5,214.2 655.8,214.2 656.1,214.2 656.4,214.2 656.7,214.1 657.0,214.1 657.3,214.2 657.6,214.1 658.0,214.1 658.3,214.2 658.6,214.2 659.0,214.2 659.3,214.1 659.6,214.1 659.9,214.1 660.2,214.1 660.5,214.0 660.8,214.0 661.0,214.0 661.4,213.9 661.8,213.9 662.1,213.9 662.4,213.9 662.7,213.8 663.0,213.6 663.3,213.6 663.6,213.6 663.9,213.4 664.2,213.4 664.5,213.3 664.7,213.2 665.0,213.1 665.2,212.8 665.5,212.6 665.7,212.4 665.9,212.2 666.1,211.8 666.2,211.5 666.6,211.3 666.7,211.1 666.8,210.8 666.9,210.6 667.1,210.3 667.4,210.1 667.4,209.8 667.6,209.5 667.8,209.3 667.9,209.0 668.1,208.7 668.3,208.5 668.4,208.2 668.5,207.9 668.6,207.6 668.8,207.3 668.9,207.1 669.1,206.8 669.2,206.5 669.3,206.2 669.4,206.0 669.7,205.7 669.9,205.4 670.0,205.1 670.1,204.8 670.3,204.5 670.6,204.3 670.7,204.0 670.8,203.8 671.0,203.6 671.3,203.4 671.5,203.1 671.8,202.9 672.0,202.7 672.2,202.5 672.5,202.4 672.8,202.2 673.1,202.1 673.4,201.9 673.7,201.8 674.0,201.6 674.3,201.4 674.6,201.3 675.0,201.3 675.4,201.2 675.7,201.1 676.0,200.9 676.4,200.9 676.8,200.7 677.1,200.6 677.3,200.6" fill="none" stroke="#0a14f0" stroke-width="2.0" stroke-linejoin="round" stroke-linecap="round"/>
<path d="M47.6,158.85000000000002 L47.6,60.5 L223.2,60.5" fill="none" stroke="#000" stroke-opacity="0.5" stroke-width="1.1" stroke-linejoin="miter"/>
<path d="M47.6,160.75 L47.6,228.6 L223.2,228.6" fill="none" stroke="#000" stroke-opacity="0.5" stroke-width="1.1" stroke-linejoin="miter"/>
<line x1="223.79999999999998" y1="59.95" x2="223.79999999999998" y2="229.15" stroke="#000" stroke-opacity="0.25" stroke-width="2"/>
<line x1="47.050000000000004" y1="159.8" x2="224.25" y2="159.8" stroke="#000" stroke-opacity="0.42" stroke-width="1.9"/>
<line x1="47.6" y1="159.80" x2="50.2" y2="159.80" stroke="#000" stroke-opacity="0.55" stroke-width="1"/>
<line x1="47.6" y1="145.53" x2="49.2" y2="145.53" stroke="#000" stroke-opacity="0.55" stroke-width="1"/>
<line x1="47.6" y1="131.25" x2="50.2" y2="131.25" stroke="#000" stroke-opacity="0.55" stroke-width="1"/>
<line x1="47.6" y1="116.97" x2="49.2" y2="116.97" stroke="#000" stroke-opacity="0.55" stroke-width="1"/>
<line x1="47.6" y1="102.70" x2="50.2" y2="102.70" stroke="#000" stroke-opacity="0.55" stroke-width="1"/>
<line x1="47.6" y1="88.43" x2="49.2" y2="88.43" stroke="#000" stroke-opacity="0.55" stroke-width="1"/>
<line x1="47.6" y1="74.15" x2="50.2" y2="74.15" stroke="#000" stroke-opacity="0.55" stroke-width="1"/>
<line x1="47.6" y1="59.88" x2="49.2" y2="59.88" stroke="#000" stroke-opacity="0.55" stroke-width="1"/>
<line x1="47.6" y1="217.17" x2="49.2" y2="217.17" stroke="#000" stroke-opacity="0.55" stroke-width="1"/>
<line x1="47.6" y1="205.75" x2="50.2" y2="205.75" stroke="#000" stroke-opacity="0.55" stroke-width="1"/>
<line x1="47.6" y1="194.32" x2="49.2" y2="194.32" stroke="#000" stroke-opacity="0.55" stroke-width="1"/>
<line x1="47.6" y1="182.90" x2="50.2" y2="182.90" stroke="#000" stroke-opacity="0.55" stroke-width="1"/>
<line x1="47.6" y1="171.47" x2="49.2" y2="171.47" stroke="#000" stroke-opacity="0.55" stroke-width="1"/>
<line x1="70.44" y1="159.8" x2="70.44" y2="157.4" stroke="#000" stroke-opacity="0.55" stroke-width="1"/>
<line x1="70.44" y1="228.6" x2="70.44" y2="226.2" stroke="#000" stroke-opacity="0.55" stroke-width="1"/>
<line x1="95.98" y1="159.8" x2="95.98" y2="158.3" stroke="#000" stroke-opacity="0.55" stroke-width="1"/>
<line x1="95.98" y1="228.6" x2="95.98" y2="227.1" stroke="#000" stroke-opacity="0.55" stroke-width="1"/>
<line x1="121.52" y1="159.8" x2="121.52" y2="157.4" stroke="#000" stroke-opacity="0.55" stroke-width="1"/>
<line x1="121.52" y1="228.6" x2="121.52" y2="226.2" stroke="#000" stroke-opacity="0.55" stroke-width="1"/>
<line x1="147.07" y1="159.8" x2="147.07" y2="158.3" stroke="#000" stroke-opacity="0.55" stroke-width="1"/>
<line x1="147.07" y1="228.6" x2="147.07" y2="227.1" stroke="#000" stroke-opacity="0.55" stroke-width="1"/>
<line x1="172.61" y1="159.8" x2="172.61" y2="157.4" stroke="#000" stroke-opacity="0.55" stroke-width="1"/>
<line x1="172.61" y1="228.6" x2="172.61" y2="226.2" stroke="#000" stroke-opacity="0.55" stroke-width="1"/>
<line x1="198.16" y1="159.8" x2="198.16" y2="158.3" stroke="#000" stroke-opacity="0.55" stroke-width="1"/>
<line x1="198.16" y1="228.6" x2="198.16" y2="227.1" stroke="#000" stroke-opacity="0.55" stroke-width="1"/>
<text x="44.80" y="78.55" font-size="12.8" fill="#000" text-anchor="end" >50</text>
<text x="44.80" y="107.10" font-size="12.8" fill="#000" text-anchor="end" >0</text>
<text x="44.80" y="135.65" font-size="12.8" fill="#000" text-anchor="end" >-50</text>
<text x="44.80" y="164.20" font-size="12.8" fill="#000" text-anchor="end" >-100</text>
<text x="44.80" y="210.15" font-size="12.8" fill="#000" text-anchor="end" >1</text>
<text x="44.80" y="187.30" font-size="12.8" fill="#000" text-anchor="end" >2</text>
<text x="44.80" y="233.00" font-size="12.8" fill="#000" text-anchor="end" >0</text>
<text x="70.74" y="241.9" font-size="12.8" fill="#000" text-anchor="middle" >1.0</text>
<text x="121.82" y="241.9" font-size="12.8" fill="#000" text-anchor="middle" >1.5</text>
<text x="172.91" y="241.9" font-size="12.8" fill="#000" text-anchor="middle" >2.0</text>
<text x="224.00" y="241.9" font-size="12.8" fill="#000" text-anchor="middle" >2.5</text>
<text x="103.20" y="255.8" font-size="14.6" fill="#000" text-anchor="start" >Energy (eV)</text>
<text transform="translate(14.40,188.3) rotate(-90)" font-size="14.45" fill="#000">&#916;&#945;<tspan font-size="8.4" dy="4.2">NDD</tspan><tspan dy="-4.2"> (&#177;</tspan><tspan font-style="italic">k</tspan>, <tspan font-style="italic">H</tspan>) (cm<tspan font-size="9.5" dy="-6">-1</tspan><tspan dy="6">)</tspan></text>
<text transform="translate(28.90,243.8) rotate(-90)" font-size="15" fill="#000">&#945; (10<tspan font-size="9.5" dy="-6">3</tspan><tspan dy="6"> cm</tspan><tspan font-size="9.5" dy="-6">-1</tspan><tspan dy="6">)</tspan></text>
<path d="M273.9,158.85000000000002 L273.9,60.5 L450.4,60.5 L450.4,158.85000000000002" fill="none" stroke="#000" stroke-opacity="0.5" stroke-width="1.1" stroke-linejoin="miter"/>
<path d="M273.9,160.75 L273.9,229.05 L450.4,229.05 L450.4,160.75" fill="none" stroke="#000" stroke-opacity="0.5" stroke-width="1.1" stroke-linejoin="miter"/>
<line x1="273.34999999999997" y1="159.8" x2="450.95" y2="159.8" stroke="#000" stroke-opacity="0.42" stroke-width="1.9"/>
<line x1="273.9" y1="160.55" x2="276.5" y2="160.55" stroke="#000" stroke-opacity="0.55" stroke-width="1"/>
<line x1="273.9" y1="146.28" x2="275.5" y2="146.28" stroke="#000" stroke-opacity="0.55" stroke-width="1"/>
<line x1="273.9" y1="132.00" x2="276.5" y2="132.00" stroke="#000" stroke-opacity="0.55" stroke-width="1"/>
<line x1="273.9" y1="117.72" x2="275.5" y2="117.72" stroke="#000" stroke-opacity="0.55" stroke-width="1"/>
<line x1="273.9" y1="103.45" x2="276.5" y2="103.45" stroke="#000" stroke-opacity="0.55" stroke-width="1"/>
<line x1="273.9" y1="89.18" x2="275.5" y2="89.18" stroke="#000" stroke-opacity="0.55" stroke-width="1"/>
<line x1="273.9" y1="74.90" x2="276.5" y2="74.90" stroke="#000" stroke-opacity="0.55" stroke-width="1"/>
<line x1="273.9" y1="60.63" x2="275.5" y2="60.63" stroke="#000" stroke-opacity="0.55" stroke-width="1"/>
<line x1="273.9" y1="217.62" x2="275.5" y2="217.62" stroke="#000" stroke-opacity="0.55" stroke-width="1"/>
<line x1="273.9" y1="206.20" x2="276.5" y2="206.20" stroke="#000" stroke-opacity="0.55" stroke-width="1"/>
<line x1="273.9" y1="194.78" x2="275.5" y2="194.78" stroke="#000" stroke-opacity="0.55" stroke-width="1"/>
<line x1="273.9" y1="183.35" x2="276.5" y2="183.35" stroke="#000" stroke-opacity="0.55" stroke-width="1"/>
<line x1="273.9" y1="171.93" x2="275.5" y2="171.93" stroke="#000" stroke-opacity="0.55" stroke-width="1"/>
<line x1="296.79" y1="159.8" x2="296.79" y2="157.4" stroke="#000" stroke-opacity="0.55" stroke-width="1"/>
<line x1="296.79" y1="229.05" x2="296.79" y2="226.65" stroke="#000" stroke-opacity="0.55" stroke-width="1"/>
<line x1="322.39" y1="159.8" x2="322.39" y2="158.3" stroke="#000" stroke-opacity="0.55" stroke-width="1"/>
<line x1="322.39" y1="229.05" x2="322.39" y2="227.55" stroke="#000" stroke-opacity="0.55" stroke-width="1"/>
<line x1="347.99" y1="159.8" x2="347.99" y2="157.4" stroke="#000" stroke-opacity="0.55" stroke-width="1"/>
<line x1="347.99" y1="229.05" x2="347.99" y2="226.65" stroke="#000" stroke-opacity="0.55" stroke-width="1"/>
<line x1="373.59" y1="159.8" x2="373.59" y2="158.3" stroke="#000" stroke-opacity="0.55" stroke-width="1"/>
<line x1="373.59" y1="229.05" x2="373.59" y2="227.55" stroke="#000" stroke-opacity="0.55" stroke-width="1"/>
<line x1="399.20" y1="159.8" x2="399.20" y2="157.4" stroke="#000" stroke-opacity="0.55" stroke-width="1"/>
<line x1="399.20" y1="229.05" x2="399.20" y2="226.65" stroke="#000" stroke-opacity="0.55" stroke-width="1"/>
<line x1="424.80" y1="159.8" x2="424.80" y2="158.3" stroke="#000" stroke-opacity="0.55" stroke-width="1"/>
<line x1="424.80" y1="229.05" x2="424.80" y2="227.55" stroke="#000" stroke-opacity="0.55" stroke-width="1"/>
<text x="271.10" y="79.30" font-size="12.8" fill="#000" text-anchor="end" >50</text>
<text x="271.10" y="107.85" font-size="12.8" fill="#000" text-anchor="end" >0</text>
<text x="271.10" y="136.40" font-size="12.8" fill="#000" text-anchor="end" >-50</text>
<text x="271.10" y="164.95" font-size="12.8" fill="#000" text-anchor="end" >-100</text>
<text x="271.10" y="210.60" font-size="12.8" fill="#000" text-anchor="end" >1</text>
<text x="271.10" y="187.75" font-size="12.8" fill="#000" text-anchor="end" >2</text>
<text x="271.10" y="233.45" font-size="12.8" fill="#000" text-anchor="end" >0</text>
<text x="297.09" y="241.9" font-size="12.8" fill="#000" text-anchor="middle" >1.0</text>
<text x="348.29" y="241.9" font-size="12.8" fill="#000" text-anchor="middle" >1.5</text>
<text x="399.50" y="241.9" font-size="12.8" fill="#000" text-anchor="middle" >2.0</text>
<text x="450.70" y="241.9" font-size="12.8" fill="#000" text-anchor="middle" >2.5</text>
<text x="329.50" y="255.8" font-size="14.6" fill="#000" text-anchor="start" >Energy (eV)</text>
<text transform="translate(240.70,188.3) rotate(-90)" font-size="14.45" fill="#000">&#916;&#945;<tspan font-size="8.4" dy="4.2">NDD</tspan><tspan dy="-4.2"> (&#177;</tspan><tspan font-style="italic">k</tspan>, <tspan font-style="italic">H</tspan>) (cm<tspan font-size="9.5" dy="-6">-1</tspan><tspan dy="6">)</tspan></text>
<text transform="translate(255.20,243.8) rotate(-90)" font-size="15" fill="#000">&#945; (10<tspan font-size="9.5" dy="-6">3</tspan><tspan dy="6"> cm</tspan><tspan font-size="9.5" dy="-6">-1</tspan><tspan dy="6">)</tspan></text>
<path d="M500.7,158.85000000000002 L500.7,60.5 L677.4,60.5 L677.4,158.85000000000002" fill="none" stroke="#000" stroke-opacity="0.5" stroke-width="1.1" stroke-linejoin="miter"/>
<path d="M500.7,160.75 L500.7,229.05 L677.4,229.05 L677.4,160.75" fill="none" stroke="#000" stroke-opacity="0.5" stroke-width="1.1" stroke-linejoin="miter"/>
<line x1="500.15" y1="159.8" x2="677.9499999999999" y2="159.8" stroke="#000" stroke-opacity="0.42" stroke-width="1.9"/>
<line x1="500.7" y1="159.70" x2="503.3" y2="159.70" stroke="#000" stroke-opacity="0.55" stroke-width="1"/>
<line x1="500.7" y1="145.42" x2="502.3" y2="145.42" stroke="#000" stroke-opacity="0.55" stroke-width="1"/>
<line x1="500.7" y1="131.15" x2="503.3" y2="131.15" stroke="#000" stroke-opacity="0.55" stroke-width="1"/>
<line x1="500.7" y1="116.88" x2="502.3" y2="116.88" stroke="#000" stroke-opacity="0.55" stroke-width="1"/>
<line x1="500.7" y1="102.60" x2="503.3" y2="102.60" stroke="#000" stroke-opacity="0.55" stroke-width="1"/>
<line x1="500.7" y1="88.32" x2="502.3" y2="88.32" stroke="#000" stroke-opacity="0.55" stroke-width="1"/>
<line x1="500.7" y1="74.05" x2="503.3" y2="74.05" stroke="#000" stroke-opacity="0.55" stroke-width="1"/>
<line x1="500.7" y1="59.77" x2="502.3" y2="59.77" stroke="#000" stroke-opacity="0.55" stroke-width="1"/>
<line x1="500.7" y1="217.62" x2="502.3" y2="217.62" stroke="#000" stroke-opacity="0.55" stroke-width="1"/>
<line x1="500.7" y1="206.20" x2="503.3" y2="206.20" stroke="#000" stroke-opacity="0.55" stroke-width="1"/>
<line x1="500.7" y1="194.78" x2="502.3" y2="194.78" stroke="#000" stroke-opacity="0.55" stroke-width="1"/>
<line x1="500.7" y1="183.35" x2="503.3" y2="183.35" stroke="#000" stroke-opacity="0.55" stroke-width="1"/>
<line x1="500.7" y1="171.93" x2="502.3" y2="171.93" stroke="#000" stroke-opacity="0.55" stroke-width="1"/>
<line x1="523.61" y1="159.8" x2="523.61" y2="157.4" stroke="#000" stroke-opacity="0.55" stroke-width="1"/>
<line x1="523.61" y1="229.05" x2="523.61" y2="226.65" stroke="#000" stroke-opacity="0.55" stroke-width="1"/>
<line x1="549.25" y1="159.8" x2="549.25" y2="158.3" stroke="#000" stroke-opacity="0.55" stroke-width="1"/>
<line x1="549.25" y1="229.05" x2="549.25" y2="227.55" stroke="#000" stroke-opacity="0.55" stroke-width="1"/>
<line x1="574.88" y1="159.8" x2="574.88" y2="157.4" stroke="#000" stroke-opacity="0.55" stroke-width="1"/>
<line x1="574.88" y1="229.05" x2="574.88" y2="226.65" stroke="#000" stroke-opacity="0.55" stroke-width="1"/>
<line x1="600.51" y1="159.8" x2="600.51" y2="158.3" stroke="#000" stroke-opacity="0.55" stroke-width="1"/>
<line x1="600.51" y1="229.05" x2="600.51" y2="227.55" stroke="#000" stroke-opacity="0.55" stroke-width="1"/>
<line x1="626.14" y1="159.8" x2="626.14" y2="157.4" stroke="#000" stroke-opacity="0.55" stroke-width="1"/>
<line x1="626.14" y1="229.05" x2="626.14" y2="226.65" stroke="#000" stroke-opacity="0.55" stroke-width="1"/>
<line x1="651.77" y1="159.8" x2="651.77" y2="158.3" stroke="#000" stroke-opacity="0.55" stroke-width="1"/>
<line x1="651.77" y1="229.05" x2="651.77" y2="227.55" stroke="#000" stroke-opacity="0.55" stroke-width="1"/>
<text x="497.90" y="78.45" font-size="12.8" fill="#000" text-anchor="end" >50</text>
<text x="497.90" y="107.00" font-size="12.8" fill="#000" text-anchor="end" >0</text>
<text x="497.90" y="135.55" font-size="12.8" fill="#000" text-anchor="end" >-50</text>
<text x="497.90" y="164.10" font-size="12.8" fill="#000" text-anchor="end" >-100</text>
<text x="497.90" y="210.60" font-size="12.8" fill="#000" text-anchor="end" >1</text>
<text x="497.90" y="187.75" font-size="12.8" fill="#000" text-anchor="end" >2</text>
<text x="497.90" y="233.45" font-size="12.8" fill="#000" text-anchor="end" >0</text>
<text x="523.91" y="241.9" font-size="12.8" fill="#000" text-anchor="middle" >1.0</text>
<text x="575.18" y="241.9" font-size="12.8" fill="#000" text-anchor="middle" >1.5</text>
<text x="626.44" y="241.9" font-size="12.8" fill="#000" text-anchor="middle" >2.0</text>
<text x="677.70" y="241.9" font-size="12.8" fill="#000" text-anchor="middle" >2.5</text>
<text x="556.30" y="255.8" font-size="14.6" fill="#000" text-anchor="start" >Energy (eV)</text>
<text transform="translate(467.50,188.3) rotate(-90)" font-size="14.45" fill="#000">&#916;&#945;<tspan font-size="8.4" dy="4.2">NDD</tspan><tspan dy="-4.2"> (&#177;</tspan><tspan font-style="italic">k</tspan>, <tspan font-style="italic">H</tspan>) (cm<tspan font-size="9.5" dy="-6">-1</tspan><tspan dy="6">)</tspan></text>
<text transform="translate(482.00,243.8) rotate(-90)" font-size="15" fill="#000">&#945; (10<tspan font-size="9.5" dy="-6">3</tspan><tspan dy="6"> cm</tspan><tspan font-size="9.5" dy="-6">-1</tspan><tspan dy="6">)</tspan></text>
<text x="48.8" y="170.2" font-size="11.2" fill="#0a14f0"><tspan font-style="italic">c</tspan>-polarization</text>
<text x="75.4" y="182.7" font-size="10" fill="#000"><tspan font-size="8" dy="-5.4">3</tspan><tspan dy="5.4">A</tspan><tspan font-size="8" dy="3.8">2g</tspan></text>
<path d="M97.0,180.5 L105.2,180.5 M102.9,178.5 Q104.3,179.9 105.5,180.5 Q104.3,181.1 102.9,182.5" fill="none" stroke="#111" stroke-width="0.75"/>
<text x="108.6" y="182.7" font-size="10" fill="#000"><tspan font-size="8" dy="-5.4">1</tspan><tspan dy="5.4">E</tspan><tspan font-size="8" dy="3.8">g</tspan></text>
<text x="52.2" y="202.4" font-size="10" fill="#000"><tspan font-size="8" dy="-5.4">3</tspan><tspan dy="5.4">A</tspan><tspan font-size="8" dy="3.8">2g</tspan></text>
<path d="M74.1,200.20000000000002 L81.9,200.20000000000002 M79.60000000000001,198.20000000000002 Q81.0,199.60000000000002 82.2,200.20000000000002 Q81.0,200.8 79.60000000000001,202.20000000000002" fill="none" stroke="#111" stroke-width="0.75"/>
<text x="84.8" y="202.4" font-size="10" fill="#000"><tspan font-size="8" dy="-5.4">3</tspan><tspan dy="5.4">T</tspan><tspan font-size="8" dy="3.8">2g</tspan></text>
<text x="142.7" y="172.9" font-size="10" fill="#000"><tspan font-size="8" dy="-5.4">3</tspan><tspan dy="5.4">A</tspan><tspan font-size="8" dy="3.8">2g</tspan></text>
<path d="M164.5,170.70000000000002 L172.39999999999998,170.70000000000002 M170.1,168.70000000000002 Q171.5,170.10000000000002 172.7,170.70000000000002 Q171.5,171.3 170.1,172.70000000000002" fill="none" stroke="#111" stroke-width="0.75"/>
<text x="175.3" y="172.9" font-size="10" fill="#000"><tspan font-size="8" dy="-5.4">3</tspan><tspan dy="5.4">T</tspan><tspan font-size="8" dy="3.8">1g</tspan></text>
<text x="172.0" y="194.0" font-size="10" fill="#000"><tspan font-size="8" dy="-5.4">3</tspan><tspan dy="5.4">A</tspan><tspan font-size="8" dy="3.8">2g</tspan></text>
<path d="M193.8,191.8 L201.6,191.8 M199.3,189.8 Q200.70000000000002,191.20000000000002 201.9,191.8 Q200.70000000000002,192.4 199.3,193.8" fill="none" stroke="#111" stroke-width="0.75"/>
<text x="205.0" y="194.0" font-size="10" fill="#000"><tspan font-size="8" dy="-5.4">1</tspan><tspan dy="5.4">T</tspan><tspan font-size="8" dy="3.8">2g</tspan></text>
<text x="221.7" y="172.1" font-size="10" fill="#000" text-anchor="end" >4 K</text>
<text x="116.8" y="223.9" font-size="11.2" fill="#ff8000"><tspan font-style="italic">ab</tspan>-plane</text>
<text x="342.8" y="194.2" font-size="11.5" fill="#ff8000"><tspan font-style="italic">ab</tspan>-plane</text>
<text x="448" y="171.6" font-size="9.6" fill="#000" text-anchor="end" >4 K</text>
<text x="593.4" y="172.4" font-size="11.2" fill="#0a14f0"><tspan font-style="italic">c</tspan>-polarization</text>
<text x="570.6" y="222.4" font-size="11.4" fill="#ff8000"><tspan font-style="italic">ab</tspan>-plane</text>
<text x="675.3" y="172.1" font-size="10" fill="#000" text-anchor="end" >4 K</text>
<text x="29.0" y="27.6" font-size="11.8" fill="#000" text-anchor="start" >(a)</text>
<text x="60.2" y="38.4" font-size="13.6" fill="#7a7a7a" text-anchor="start" >Toroidal</text>
<text x="253.7" y="25.6" font-size="11.8" fill="#000" text-anchor="start" >(b)</text>
<text x="277.0" y="36.2" font-size="13.45" fill="#7a7a7a" text-anchor="start" >Magnetochiral</text>
<text x="480.6" y="22.6" font-size="11.2" fill="#000" text-anchor="start" font-weight="bold" >(c)</text>
<text x="530.5" y="34.8" font-size="13.2" fill="#7a7a7a" text-anchor="middle" >Transverse</text>
<text x="530.4" y="46.3" font-size="13.4" fill="#7a7a7a" text-anchor="middle" >magnetochiral</text>
<text x="148.2" y="27" font-size="18" fill="#3a6ab8" text-anchor="start" font-style="italic" >k</text>
<line x1="149.39" y1="38.36" x2="163.31" y2="26.94" stroke="#3a6ab8" stroke-width="1.0"/>
<polygon points="145.80,41.30 152.38,40.17 148.19,35.07" fill="#3a6ab8"/>
<polygon points="166.90,24.00 164.51,30.23 160.32,25.13" fill="#3a6ab8"/>
<rect x="173.4" y="17" width="2.6" height="30" fill="#16a016"/>
<polygon points="174.7,4.2 179.4,19.5 170.0,19.5" fill="#16a016"/>
<line x1="188.32" y1="27.02" x2="201.48" y2="38.28" stroke="#f0141e" stroke-width="1.0"/>
<polygon points="184.80,24.00 187.06,30.28 191.35,25.27" fill="#f0141e"/>
<polygon points="205.00,41.30 198.45,40.03 202.74,35.02" fill="#f0141e"/>
<text x="193.6" y="26.9" font-size="17.5" fill="#f0141e" text-anchor="start" font-style="italic" >H</text>
<text x="134.1" y="55.8" font-size="10.9" fill="#1c921c" text-anchor="start" >electric polarization</text>
<text x="377.0" y="30" font-size="18" fill="#3a6ab8" text-anchor="start" font-style="italic" >k</text>
<line x1="392.40" y1="13.60" x2="392.40" y2="34.50" stroke="#3a6ab8" stroke-width="1.0"/>
<polygon points="392.40,8.80 389.10,14.80 395.70,14.80" fill="#3a6ab8"/>
<polygon points="392.40,39.30 389.10,33.30 395.70,33.30" fill="#3a6ab8"/>
<defs><linearGradient id="spg410a" gradientUnits="userSpaceOnUse" x1="400.8" y1="0" x2="420.8" y2="0"><stop offset="0" stop-color="#5e4214"/><stop offset="0.3" stop-color="#a47c38"/><stop offset="0.5" stop-color="#c8a35c"/><stop offset="0.7" stop-color="#a47c38"/><stop offset="1" stop-color="#5e4214"/></linearGradient><linearGradient id="spg410b" gradientUnits="userSpaceOnUse" x1="400.8" y1="0" x2="420.8" y2="0"><stop offset="0" stop-color="#8a6a30"/><stop offset="0.35" stop-color="#e2c88a"/><stop offset="0.55" stop-color="#f4e6bc"/><stop offset="0.75" stop-color="#d8ba78"/><stop offset="1" stop-color="#8a6a30"/></linearGradient></defs>
<path d="M418.80,4.40 L418.35,4.67 L417.70,4.95 L416.87,5.23 L415.88,5.52 L414.74,5.83 L413.49,6.15 L412.16,6.49 L410.80,6.85 L409.44,7.23 L408.11,7.63 L406.86,8.04 L405.72,8.47 L404.73,8.92 L403.90,9.37 L403.25,9.83 L402.80,10.30 M418.80,16.80 L418.35,17.05 L417.70,17.31 L416.87,17.57 L415.88,17.85 L414.74,18.13 L413.49,18.44 L412.16,18.76 L410.80,19.10 L409.44,19.46 L408.11,19.84 L406.86,20.23 L405.72,20.65 L404.73,21.07 L403.90,21.51 L403.25,21.95 L402.80,22.40 M418.80,28.20 L418.35,28.46 L417.70,28.73 L416.87,29.01 L415.88,29.30 L414.74,29.60 L413.49,29.91 L412.16,30.25 L410.80,30.60 L409.44,30.97 L408.11,31.36 L406.86,31.77 L405.72,32.20 L404.73,32.63 L403.90,33.08 L403.25,33.54 L402.80,34.00 M418.80,40.00 L418.35,40.16 L417.70,40.33 L416.87,40.51 L415.88,40.70 L414.74,40.90 L413.49,41.11 L412.16,41.35 L410.80,41.60 L409.44,41.87 L408.11,42.16 L406.86,42.47 L405.72,42.80 L404.73,43.13 L403.90,43.48 L403.25,43.84 L402.80,44.20" fill="none" stroke="#5a3e12" stroke-width="3.9" stroke-linecap="round" stroke-linejoin="round"/>
<path d="M418.80,4.40 L418.35,4.67 L417.70,4.95 L416.87,5.23 L415.88,5.52 L414.74,5.83 L413.49,6.15 L412.16,6.49 L410.80,6.85 L409.44,7.23 L408.11,7.63 L406.86,8.04 L405.72,8.47 L404.73,8.92 L403.90,9.37 L403.25,9.83 L402.80,10.30 M418.80,16.80 L418.35,17.05 L417.70,17.31 L416.87,17.57 L415.88,17.85 L414.74,18.13 L413.49,18.44 L412.16,18.76 L410.80,19.10 L409.44,19.46 L408.11,19.84 L406.86,20.23 L405.72,20.65 L404.73,21.07 L403.90,21.51 L403.25,21.95 L402.80,22.40 M418.80,28.20 L418.35,28.46 L417.70,28.73 L416.87,29.01 L415.88,29.30 L414.74,29.60 L413.49,29.91 L412.16,30.25 L410.80,30.60 L409.44,30.97 L408.11,31.36 L406.86,31.77 L405.72,32.20 L404.73,32.63 L403.90,33.08 L403.25,33.54 L402.80,34.00 M418.80,40.00 L418.35,40.16 L417.70,40.33 L416.87,40.51 L415.88,40.70 L414.74,40.90 L413.49,41.11 L412.16,41.35 L410.80,41.60 L409.44,41.87 L408.11,42.16 L406.86,42.47 L405.72,42.80 L404.73,43.13 L403.90,43.48 L403.25,43.84 L402.80,44.20" fill="none" stroke="url(#spg410a)" stroke-width="2.8" stroke-linecap="round" stroke-linejoin="round"/>
<path d="M418.80,4.40 L418.35,4.67 L417.70,4.95 L416.87,5.23 L415.88,5.52 L414.74,5.83 L413.49,6.15 L412.16,6.49 L410.80,6.85 L409.44,7.23 L408.11,7.63 L406.86,8.04 L405.72,8.47 L404.73,8.92 L403.90,9.37 L403.25,9.83 L402.80,10.30 M418.80,16.80 L418.35,17.05 L417.70,17.31 L416.87,17.57 L415.88,17.85 L414.74,18.13 L413.49,18.44 L412.16,18.76 L410.80,19.10 L409.44,19.46 L408.11,19.84 L406.86,20.23 L405.72,20.65 L404.73,21.07 L403.90,21.51 L403.25,21.95 L402.80,22.40 M418.80,28.20 L418.35,28.46 L417.70,28.73 L416.87,29.01 L415.88,29.30 L414.74,29.60 L413.49,29.91 L412.16,30.25 L410.80,30.60 L409.44,30.97 L408.11,31.36 L406.86,31.77 L405.72,32.20 L404.73,32.63 L403.90,33.08 L403.25,33.54 L402.80,34.00 M418.80,40.00 L418.35,40.16 L417.70,40.33 L416.87,40.51 L415.88,40.70 L414.74,40.90 L413.49,41.11 L412.16,41.35 L410.80,41.60 L409.44,41.87 L408.11,42.16 L406.86,42.47 L405.72,42.80 L404.73,43.13 L403.90,43.48 L403.25,43.84 L402.80,44.20" fill="none" stroke="url(#spg410b)" stroke-width="1.0" stroke-linecap="round" stroke-linejoin="round" transform="translate(0,-0.55)"/>
<path d="M402.80,4.00 L403.25,4.12 L403.90,4.24 L404.73,4.35 L405.72,4.45 L406.86,4.54 L408.11,4.61 L409.44,4.67 L410.80,4.70 L412.16,4.72 L413.49,4.71 L414.74,4.69 L415.88,4.65 L416.87,4.60 L417.70,4.54 L418.35,4.47 L418.80,4.40 M402.80,10.30 L403.25,10.80 L403.90,11.30 L404.73,11.80 L405.72,12.28 L406.86,12.75 L408.11,13.20 L409.44,13.63 L410.80,14.05 L412.16,14.45 L413.49,14.82 L414.74,15.18 L415.88,15.53 L416.87,15.86 L417.70,16.18 L418.35,16.49 L418.80,16.80 M402.80,22.40 L403.25,22.86 L403.90,23.32 L404.73,23.77 L405.72,24.20 L406.86,24.63 L408.11,25.04 L409.44,25.43 L410.80,25.80 L412.16,26.15 L413.49,26.49 L414.74,26.80 L415.88,27.10 L416.87,27.39 L417.70,27.67 L418.35,27.94 L418.80,28.20 M402.80,34.00 L403.25,34.47 L403.90,34.94 L404.73,35.40 L405.72,35.85 L406.86,36.29 L408.11,36.71 L409.44,37.12 L410.80,37.50 L412.16,37.87 L413.49,38.21 L414.74,38.54 L415.88,38.85 L416.87,39.15 L417.70,39.44 L418.35,39.72 L418.80,40.00" fill="none" stroke="#5a3e12" stroke-width="3.9" stroke-linecap="round" stroke-linejoin="round"/>
<path d="M402.80,4.00 L403.25,4.12 L403.90,4.24 L404.73,4.35 L405.72,4.45 L406.86,4.54 L408.11,4.61 L409.44,4.67 L410.80,4.70 L412.16,4.72 L413.49,4.71 L414.74,4.69 L415.88,4.65 L416.87,4.60 L417.70,4.54 L418.35,4.47 L418.80,4.40 M402.80,10.30 L403.25,10.80 L403.90,11.30 L404.73,11.80 L405.72,12.28 L406.86,12.75 L408.11,13.20 L409.44,13.63 L410.80,14.05 L412.16,14.45 L413.49,14.82 L414.74,15.18 L415.88,15.53 L416.87,15.86 L417.70,16.18 L418.35,16.49 L418.80,16.80 M402.80,22.40 L403.25,22.86 L403.90,23.32 L404.73,23.77 L405.72,24.20 L406.86,24.63 L408.11,25.04 L409.44,25.43 L410.80,25.80 L412.16,26.15 L413.49,26.49 L414.74,26.80 L415.88,27.10 L416.87,27.39 L417.70,27.67 L418.35,27.94 L418.80,28.20 M402.80,34.00 L403.25,34.47 L403.90,34.94 L404.73,35.40 L405.72,35.85 L406.86,36.29 L408.11,36.71 L409.44,37.12 L410.80,37.50 L412.16,37.87 L413.49,38.21 L414.74,38.54 L415.88,38.85 L416.87,39.15 L417.70,39.44 L418.35,39.72 L418.80,40.00" fill="none" stroke="url(#spg410a)" stroke-width="2.8" stroke-linecap="round" stroke-linejoin="round"/>
<path d="M402.80,4.00 L403.25,4.12 L403.90,4.24 L404.73,4.35 L405.72,4.45 L406.86,4.54 L408.11,4.61 L409.44,4.67 L410.80,4.70 L412.16,4.72 L413.49,4.71 L414.74,4.69 L415.88,4.65 L416.87,4.60 L417.70,4.54 L418.35,4.47 L418.80,4.40 M402.80,10.30 L403.25,10.80 L403.90,11.30 L404.73,11.80 L405.72,12.28 L406.86,12.75 L408.11,13.20 L409.44,13.63 L410.80,14.05 L412.16,14.45 L413.49,14.82 L414.74,15.18 L415.88,15.53 L416.87,15.86 L417.70,16.18 L418.35,16.49 L418.80,16.80 M402.80,22.40 L403.25,22.86 L403.90,23.32 L404.73,23.77 L405.72,24.20 L406.86,24.63 L408.11,25.04 L409.44,25.43 L410.80,25.80 L412.16,26.15 L413.49,26.49 L414.74,26.80 L415.88,27.10 L416.87,27.39 L417.70,27.67 L418.35,27.94 L418.80,28.20 M402.80,34.00 L403.25,34.47 L403.90,34.94 L404.73,35.40 L405.72,35.85 L406.86,36.29 L408.11,36.71 L409.44,37.12 L410.80,37.50 L412.16,37.87 L413.49,38.21 L414.74,38.54 L415.88,38.85 L416.87,39.15 L417.70,39.44 L418.35,39.72 L418.80,40.00" fill="none" stroke="url(#spg410b)" stroke-width="1.0" stroke-linecap="round" stroke-linejoin="round" transform="translate(0,-0.55)"/>
<line x1="425.60" y1="12.10" x2="425.60" y2="34.60" stroke="#f0141e" stroke-width="1.0"/>
<polygon points="425.60,7.30 422.30,13.30 428.90,13.30" fill="#f0141e"/>
<polygon points="425.60,39.40 422.30,33.40 428.90,33.40" fill="#f0141e"/>
<text x="433.0" y="29.8" font-size="17.5" fill="#f0141e" text-anchor="start" font-style="italic" >H</text>
<text x="393.0" y="56.6" font-size="10.8" fill="#bd7226" text-anchor="start" >chirality</text>
<text x="576.5" y="26.6" font-size="18" fill="#3a6ab8" text-anchor="start" font-style="italic" >k</text>
<line x1="584.10" y1="35.10" x2="610.60" y2="35.10" stroke="#3a6ab8" stroke-width="1.0"/>
<polygon points="579.70,35.10 585.20,38.10 585.20,32.10" fill="#3a6ab8"/>
<polygon points="615.00,35.10 609.50,38.10 609.50,32.10" fill="#3a6ab8"/>
<defs><linearGradient id="spg629a" gradientUnits="userSpaceOnUse" x1="619.5" y1="0" x2="639.3" y2="0"><stop offset="0" stop-color="#5e4214"/><stop offset="0.3" stop-color="#a47c38"/><stop offset="0.5" stop-color="#c8a35c"/><stop offset="0.7" stop-color="#a47c38"/><stop offset="1" stop-color="#5e4214"/></linearGradient><linearGradient id="spg629b" gradientUnits="userSpaceOnUse" x1="619.5" y1="0" x2="639.3" y2="0"><stop offset="0" stop-color="#8a6a30"/><stop offset="0.35" stop-color="#e2c88a"/><stop offset="0.55" stop-color="#f4e6bc"/><stop offset="0.75" stop-color="#d8ba78"/><stop offset="1" stop-color="#8a6a30"/></linearGradient></defs>
<path d="M637.30,3.40 L636.86,3.67 L636.22,3.95 L635.40,4.23 L634.41,4.52 L633.29,4.83 L632.06,5.15 L630.75,5.49 L629.40,5.85 L628.05,6.23 L626.74,6.63 L625.51,7.04 L624.39,7.47 L623.40,7.92 L622.58,8.37 L621.94,8.83 L621.50,9.30 M637.30,15.80 L636.86,16.05 L636.22,16.31 L635.40,16.57 L634.41,16.85 L633.29,17.13 L632.06,17.44 L630.75,17.76 L629.40,18.10 L628.05,18.46 L626.74,18.84 L625.51,19.23 L624.39,19.65 L623.40,20.07 L622.58,20.51 L621.94,20.95 L621.50,21.40 M637.30,27.20 L636.86,27.46 L636.22,27.73 L635.40,28.01 L634.41,28.30 L633.29,28.60 L632.06,28.91 L630.75,29.25 L629.40,29.60 L628.05,29.97 L626.74,30.36 L625.51,30.77 L624.39,31.20 L623.40,31.63 L622.58,32.08 L621.94,32.54 L621.50,33.00 M637.30,39.00 L636.86,39.16 L636.22,39.33 L635.40,39.51 L634.41,39.70 L633.29,39.90 L632.06,40.11 L630.75,40.35 L629.40,40.60 L628.05,40.87 L626.74,41.16 L625.51,41.47 L624.39,41.80 L623.40,42.13 L622.58,42.48 L621.94,42.84 L621.50,43.20" fill="none" stroke="#5a3e12" stroke-width="3.9" stroke-linecap="round" stroke-linejoin="round"/>
<path d="M637.30,3.40 L636.86,3.67 L636.22,3.95 L635.40,4.23 L634.41,4.52 L633.29,4.83 L632.06,5.15 L630.75,5.49 L629.40,5.85 L628.05,6.23 L626.74,6.63 L625.51,7.04 L624.39,7.47 L623.40,7.92 L622.58,8.37 L621.94,8.83 L621.50,9.30 M637.30,15.80 L636.86,16.05 L636.22,16.31 L635.40,16.57 L634.41,16.85 L633.29,17.13 L632.06,17.44 L630.75,17.76 L629.40,18.10 L628.05,18.46 L626.74,18.84 L625.51,19.23 L624.39,19.65 L623.40,20.07 L622.58,20.51 L621.94,20.95 L621.50,21.40 M637.30,27.20 L636.86,27.46 L636.22,27.73 L635.40,28.01 L634.41,28.30 L633.29,28.60 L632.06,28.91 L630.75,29.25 L629.40,29.60 L628.05,29.97 L626.74,30.36 L625.51,30.77 L624.39,31.20 L623.40,31.63 L622.58,32.08 L621.94,32.54 L621.50,33.00 M637.30,39.00 L636.86,39.16 L636.22,39.33 L635.40,39.51 L634.41,39.70 L633.29,39.90 L632.06,40.11 L630.75,40.35 L629.40,40.60 L628.05,40.87 L626.74,41.16 L625.51,41.47 L624.39,41.80 L623.40,42.13 L622.58,42.48 L621.94,42.84 L621.50,43.20" fill="none" stroke="url(#spg629a)" stroke-width="2.8" stroke-linecap="round" stroke-linejoin="round"/>
<path d="M637.30,3.40 L636.86,3.67 L636.22,3.95 L635.40,4.23 L634.41,4.52 L633.29,4.83 L632.06,5.15 L630.75,5.49 L629.40,5.85 L628.05,6.23 L626.74,6.63 L625.51,7.04 L624.39,7.47 L623.40,7.92 L622.58,8.37 L621.94,8.83 L621.50,9.30 M637.30,15.80 L636.86,16.05 L636.22,16.31 L635.40,16.57 L634.41,16.85 L633.29,17.13 L632.06,17.44 L630.75,17.76 L629.40,18.10 L628.05,18.46 L626.74,18.84 L625.51,19.23 L624.39,19.65 L623.40,20.07 L622.58,20.51 L621.94,20.95 L621.50,21.40 M637.30,27.20 L636.86,27.46 L636.22,27.73 L635.40,28.01 L634.41,28.30 L633.29,28.60 L632.06,28.91 L630.75,29.25 L629.40,29.60 L628.05,29.97 L626.74,30.36 L625.51,30.77 L624.39,31.20 L623.40,31.63 L622.58,32.08 L621.94,32.54 L621.50,33.00 M637.30,39.00 L636.86,39.16 L636.22,39.33 L635.40,39.51 L634.41,39.70 L633.29,39.90 L632.06,40.11 L630.75,40.35 L629.40,40.60 L628.05,40.87 L626.74,41.16 L625.51,41.47 L624.39,41.80 L623.40,42.13 L622.58,42.48 L621.94,42.84 L621.50,43.20" fill="none" stroke="url(#spg629b)" stroke-width="1.0" stroke-linecap="round" stroke-linejoin="round" transform="translate(0,-0.55)"/>
<path d="M621.50,3.00 L621.94,3.12 L622.58,3.24 L623.40,3.35 L624.39,3.45 L625.51,3.54 L626.74,3.61 L628.05,3.67 L629.40,3.70 L630.75,3.72 L632.06,3.71 L633.29,3.69 L634.41,3.65 L635.40,3.60 L636.22,3.54 L636.86,3.47 L637.30,3.40 M621.50,9.30 L621.94,9.80 L622.58,10.30 L623.40,10.80 L624.39,11.28 L625.51,11.75 L626.74,12.20 L628.05,12.63 L629.40,13.05 L630.75,13.45 L632.06,13.82 L633.29,14.18 L634.41,14.53 L635.40,14.86 L636.22,15.18 L636.86,15.49 L637.30,15.80 M621.50,21.40 L621.94,21.86 L622.58,22.32 L623.40,22.77 L624.39,23.20 L625.51,23.63 L626.74,24.04 L628.05,24.43 L629.40,24.80 L630.75,25.15 L632.06,25.49 L633.29,25.80 L634.41,26.10 L635.40,26.39 L636.22,26.67 L636.86,26.94 L637.30,27.20 M621.50,33.00 L621.94,33.47 L622.58,33.94 L623.40,34.40 L624.39,34.85 L625.51,35.29 L626.74,35.71 L628.05,36.12 L629.40,36.50 L630.75,36.87 L632.06,37.21 L633.29,37.54 L634.41,37.85 L635.40,38.15 L636.22,38.44 L636.86,38.72 L637.30,39.00" fill="none" stroke="#5a3e12" stroke-width="3.9" stroke-linecap="round" stroke-linejoin="round"/>
<path d="M621.50,3.00 L621.94,3.12 L622.58,3.24 L623.40,3.35 L624.39,3.45 L625.51,3.54 L626.74,3.61 L628.05,3.67 L629.40,3.70 L630.75,3.72 L632.06,3.71 L633.29,3.69 L634.41,3.65 L635.40,3.60 L636.22,3.54 L636.86,3.47 L637.30,3.40 M621.50,9.30 L621.94,9.80 L622.58,10.30 L623.40,10.80 L624.39,11.28 L625.51,11.75 L626.74,12.20 L628.05,12.63 L629.40,13.05 L630.75,13.45 L632.06,13.82 L633.29,14.18 L634.41,14.53 L635.40,14.86 L636.22,15.18 L636.86,15.49 L637.30,15.80 M621.50,21.40 L621.94,21.86 L622.58,22.32 L623.40,22.77 L624.39,23.20 L625.51,23.63 L626.74,24.04 L628.05,24.43 L629.40,24.80 L630.75,25.15 L632.06,25.49 L633.29,25.80 L634.41,26.10 L635.40,26.39 L636.22,26.67 L636.86,26.94 L637.30,27.20 M621.50,33.00 L621.94,33.47 L622.58,33.94 L623.40,34.40 L624.39,34.85 L625.51,35.29 L626.74,35.71 L628.05,36.12 L629.40,36.50 L630.75,36.87 L632.06,37.21 L633.29,37.54 L634.41,37.85 L635.40,38.15 L636.22,38.44 L636.86,38.72 L637.30,39.00" fill="none" stroke="url(#spg629a)" stroke-width="2.8" stroke-linecap="round" stroke-linejoin="round"/>
<path d="M621.50,3.00 L621.94,3.12 L622.58,3.24 L623.40,3.35 L624.39,3.45 L625.51,3.54 L626.74,3.61 L628.05,3.67 L629.40,3.70 L630.75,3.72 L632.06,3.71 L633.29,3.69 L634.41,3.65 L635.40,3.60 L636.22,3.54 L636.86,3.47 L637.30,3.40 M621.50,9.30 L621.94,9.80 L622.58,10.30 L623.40,10.80 L624.39,11.28 L625.51,11.75 L626.74,12.20 L628.05,12.63 L629.40,13.05 L630.75,13.45 L632.06,13.82 L633.29,14.18 L634.41,14.53 L635.40,14.86 L636.22,15.18 L636.86,15.49 L637.30,15.80 M621.50,21.40 L621.94,21.86 L622.58,22.32 L623.40,22.77 L624.39,23.20 L625.51,23.63 L626.74,24.04 L628.05,24.43 L629.40,24.80 L630.75,25.15 L632.06,25.49 L633.29,25.80 L634.41,26.10 L635.40,26.39 L636.22,26.67 L636.86,26.94 L637.30,27.20 M621.50,33.00 L621.94,33.47 L622.58,33.94 L623.40,34.40 L624.39,34.85 L625.51,35.29 L626.74,35.71 L628.05,36.12 L629.40,36.50 L630.75,36.87 L632.06,37.21 L633.29,37.54 L634.41,37.85 L635.40,38.15 L636.22,38.44 L636.86,38.72 L637.30,39.00" fill="none" stroke="url(#spg629b)" stroke-width="1.0" stroke-linecap="round" stroke-linejoin="round" transform="translate(0,-0.55)"/>
<line x1="646.80" y1="35.10" x2="671.00" y2="35.10" stroke="#f0141e" stroke-width="1.2"/>
<polygon points="641.60,35.10 648.10,38.60 648.10,31.60" fill="#f0141e"/>
<polygon points="676.20,35.10 669.70,38.60 669.70,31.60" fill="#f0141e"/>
<text x="654.0" y="25.0" font-size="17" fill="#f0141e" text-anchor="start" font-style="italic" >H</text>
<text x="611.6" y="55.4" font-size="10.8" fill="#bd7226" text-anchor="start" >chirality</text>
</svg>
</body></html>
